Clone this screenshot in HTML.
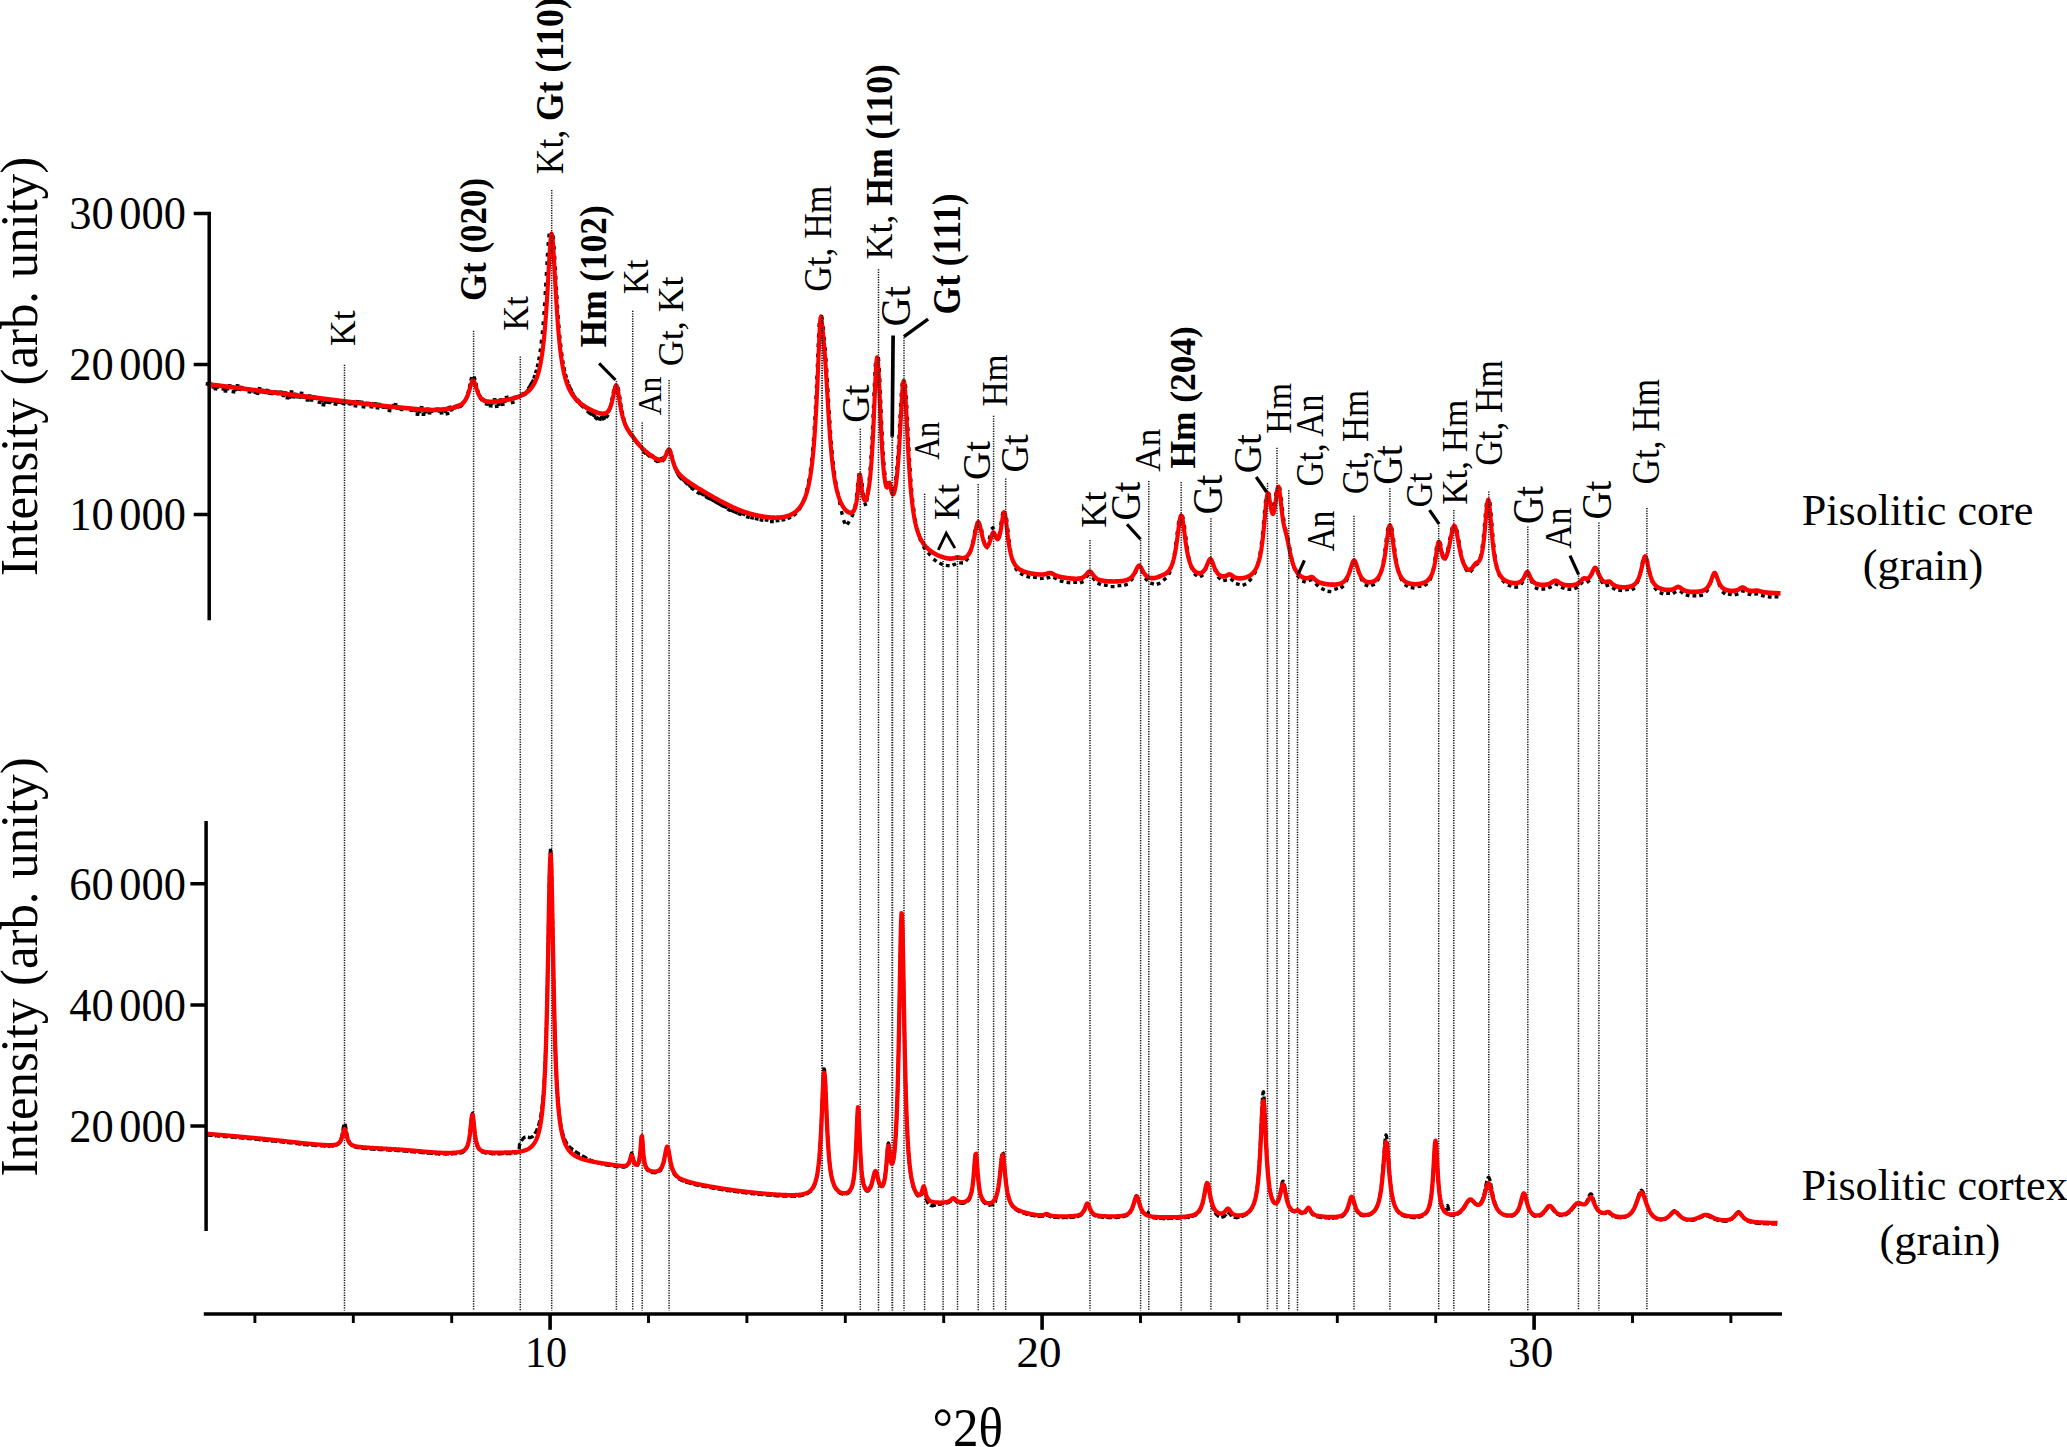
<!DOCTYPE html>
<html><head><meta charset="utf-8"><title>XRD patterns</title>
<style>html,body{margin:0;padding:0;background:#fff;overflow:hidden}svg{display:block}text{font-family:"Liberation Serif",serif;fill:#000;white-space:pre}</style></head><body>
<svg width="2067" height="1447" viewBox="0 0 2067 1447">
<rect width="2067" height="1447" fill="#fff"/>
<g stroke="#111" stroke-width="1.5" stroke-dasharray="1.25 1.25" fill="none">
<path d="M344.5,699.80V1310.5M473.6,700.80V1310.5M520.3,699.00V1310.5M551.7,700.00V1310.5M616.4,701.00V1310.5M632.7,700.70V1310.5M642.2,700.10V1310.5M669.1,699.90V1310.5M860.3,701.20V1310.5M878.5,699.20V1310.5M904.0,700.00V1310.5M924.6,701.20V1310.5M943.1,701.00V1310.5M957.5,701.00V1310.5M978.2,699.00V1310.5M993.6,700.70V1310.5M1005.7,701.00V1310.5M1090.0,700.00V1310.5M1140.6,700.00V1310.5M1148.8,701.00V1310.5M1181.2,699.50V1310.5M1210.9,700.80V1310.5M1267.5,700.50V1310.5M1277.0,700.30V1310.5M1288.8,700.30V1310.5M1297.5,699.30V1310.5M1354.0,700.80V1310.5M1389.9,700.70V1310.5M1438.7,700.60V1310.5M1453.8,700.00V1310.5M1488.8,698.90V1310.5M1527.8,699.10V1310.5M1578.5,700.40V1310.5M1598.9,700.00V1310.5M1646.9,700.50V1310.5"/>
<path stroke-width="1.9" d="M822.1,700.00V1310.5M892.3,699.50V1310.5"/>
</g>
<path d="M207.4,383.9l0.40,0.05M209.3,383.1l0.40,0.05M211.3,385.5l0.40,0.05M213.3,387.0l0.40,0.05M215.3,388.7l0.40,0.05M217.3,386.9l0.40,0.05M219.3,385.9l0.40,0.05M221.3,385.7l0.40,0.05M223.3,388.9l0.40,0.05M225.3,390.9l0.40,0.05M227.3,388.5l0.40,0.05M229.3,385.8l0.40,0.05M231.3,386.6l0.40,0.05M233.3,391.8l0.40,0.05M235.3,389.3l0.40,0.05M237.3,385.8l0.40,0.05M239.3,389.3l0.40,0.05M241.3,387.4l0.40,0.05M243.3,388.7l0.40,0.05M245.3,389.2l0.40,0.05M247.3,389.0l0.40,0.05M249.3,391.8l0.40,0.05M251.3,390.8l0.40,0.05M253.3,390.0l0.40,0.05M255.3,392.3l0.40,0.05M257.3,393.3l0.40,0.05M259.3,388.7l0.40,0.05M261.3,391.7l0.40,0.05M263.3,390.5l0.40,0.05M265.3,392.4l0.40,0.05M267.3,390.4l0.40,0.05M269.3,393.2l0.40,0.05M271.3,393.4l0.40,0.05M273.3,393.1l0.40,0.05M275.3,391.9l0.40,0.05M277.3,393.4l0.40,0.05M279.3,392.3l0.40,0.05M281.3,392.1l0.40,0.05M283.3,395.4l0.40,0.05M285.3,393.0l0.40,0.05M287.3,397.8l0.40,0.05M289.3,397.1l0.40,0.05M291.3,392.0l0.40,0.05M293.3,396.8l0.40,0.05M295.3,394.3l0.40,0.05M297.3,396.8l0.40,0.05M299.3,397.1l0.40,0.05M301.3,393.3l0.40,0.05M303.3,397.0l0.40,0.05M305.3,397.2l0.40,0.05M307.3,399.9l0.40,0.05M309.3,395.9l0.40,0.05M311.3,399.9l0.40,0.05M313.3,396.6l0.40,0.05M315.3,398.3l0.40,0.05M317.3,397.6l0.40,0.05M319.3,402.3l0.40,0.05M321.3,400.8l0.40,0.05M323.3,404.8l0.40,0.05M325.3,401.5l0.40,0.05M327.3,402.1l0.40,0.05M329.3,402.4l0.40,0.05M331.3,399.8l0.40,0.05M333.3,401.1l0.40,0.05M335.3,404.1l0.40,0.05M337.3,400.9l0.40,0.05M339.3,402.3l0.40,0.05M341.3,402.1l0.40,0.05M343.3,403.6l0.40,0.05M345.3,402.0l0.40,0.05M347.3,402.6l0.40,0.05M349.3,403.7l0.40,0.05M351.3,403.6l0.40,0.05M353.3,402.0l0.40,0.05M355.3,405.7l0.40,0.05M357.3,401.6l0.40,0.05M359.3,402.1l0.40,0.05M361.3,402.1l0.40,0.05M363.3,406.8l0.40,0.05M365.3,404.4l0.40,0.05M367.3,403.5l0.40,0.05M369.3,403.4l0.40,0.05M371.3,406.7l0.40,0.05M373.3,404.0l0.40,0.05M375.3,403.8l0.40,0.04M377.3,407.8l0.40,0.04M379.3,404.4l0.40,0.04M381.3,406.3l0.40,0.04M383.3,407.2l0.40,0.04M385.3,406.5l0.40,0.04M387.3,407.5l0.40,0.04M389.3,410.5l0.40,0.04M391.3,407.0l0.40,0.04M393.3,405.7l0.40,0.04M395.3,404.7l0.40,0.04M397.3,408.1l0.40,0.03M399.3,408.0l0.40,0.03M401.3,409.4l0.40,0.03M403.3,408.2l0.40,0.04M405.3,408.3l0.40,0.04M407.3,408.0l0.40,0.04M409.3,408.6l0.40,0.04M411.3,410.2l0.40,0.04M413.3,409.3l0.40,0.04M415.3,410.4l0.40,0.04M417.3,414.2l0.40,0.03M419.3,411.5l0.40,0.03M421.3,407.6l0.40,0.03M423.3,414.3l0.40,0.02M425.3,411.7l0.40,0.02M427.3,409.2l0.40,0.02M429.3,412.9l0.40,0.01M431.3,411.2l0.40,0.00M433.3,409.9l0.40,-0.00M435.3,409.9l0.40,-0.01M437.3,409.1l0.40,-0.02M439.3,411.0l0.40,-0.03M441.3,412.9l0.40,-0.04M443.3,409.9l0.40,-0.04M445.3,411.2l0.40,-0.05M447.3,413.7l0.40,-0.06M449.3,407.4l0.39,-0.07M451.3,409.8l0.39,-0.08M453.3,408.3l0.39,-0.10M455.2,406.4l0.38,-0.12M457.2,405.8l0.37,-0.15M459.1,406.6l0.35,-0.19M461.1,406.0l0.32,-0.24M462.8,403.2l0.27,-0.29M464.7,401.1l0.21,-0.34M466.4,397.7l0.15,-0.37M468.2,392.2l0.11,-0.38M469.7,386.0l0.08,-0.39M471.2,379.1l0.10,-0.39M474.5,378.1l0.13,0.38M476.2,384.9l0.09,0.39M477.8,391.0l0.12,0.38M479.4,395.4l0.17,0.36M481.1,399.0l0.24,0.32M482.8,399.4l0.32,0.24M484.6,401.1l0.37,0.16M486.5,403.9l0.39,0.09M488.5,403.9l0.40,0.04M490.5,405.9l0.40,0.01M492.5,402.8l0.40,-0.02M494.5,399.8l0.40,-0.03M496.5,406.3l0.40,-0.05M498.5,404.4l0.40,-0.05M500.5,399.9l0.40,-0.06M502.5,404.3l0.39,-0.07M504.5,401.3l0.39,-0.07M506.5,397.4l0.39,-0.08M508.5,399.6l0.39,-0.09M510.5,399.0l0.39,-0.10M512.5,402.4l0.39,-0.10M514.4,397.4l0.38,-0.12M516.4,397.8l0.38,-0.13M518.4,397.0l0.37,-0.15M520.4,396.0l0.36,-0.18M522.2,394.2l0.34,-0.21M524.2,394.5l0.32,-0.24M525.5,393.7l0.29,-0.27M527.3,391.0l0.26,-0.30M529.1,387.4l0.23,-0.33M530.8,384.5l0.20,-0.35M532.6,381.5l0.17,-0.36M534.3,377.0l0.14,-0.37M536.0,371.7l0.11,-0.38M537.6,365.6l0.09,-0.39M539.0,358.7l0.07,-0.39M540.3,350.5l0.06,-0.40M541.4,341.9l0.05,-0.40M542.4,332.5l0.04,-0.40M543.2,323.5l0.03,-0.40M544.0,313.1l0.03,-0.40M544.6,304.4l0.03,-0.40M545.3,293.3l0.02,-0.40M545.8,284.8l0.02,-0.40M546.4,274.2l0.02,-0.40M547.0,263.5l0.02,-0.40M547.5,254.9l0.02,-0.40M548.2,244.1l0.03,-0.40M549.0,235.7l0.05,-0.40M553.3,237.4l0.04,0.40M554.1,247.6l0.03,0.40M554.7,257.5l0.02,0.40M555.3,268.3l0.02,0.40M555.8,277.5l0.02,0.40M556.4,288.3l0.02,0.40M556.9,296.9l0.02,0.40M557.5,306.6l0.03,0.40M558.2,316.9l0.03,0.40M558.9,326.1l0.03,0.40M559.8,336.5l0.04,0.40M560.7,345.2l0.04,0.40M561.8,354.2l0.05,0.40M562.9,362.0l0.07,0.39M564.3,369.1l0.08,0.39M565.9,375.8l0.10,0.39M567.5,381.5l0.13,0.38M569.2,386.0l0.15,0.37M571.0,389.4l0.17,0.36M572.8,393.5l0.20,0.35M574.6,396.8l0.23,0.33M576.6,400.5l0.25,0.31M578.4,400.7l0.28,0.29M580.3,404.3l0.30,0.27M582.3,406.3l0.31,0.25M584.1,405.9l0.32,0.24M586.1,408.0l0.32,0.24M588.2,412.0l0.31,0.25M590.2,413.4l0.30,0.26M592.1,414.1l0.29,0.27M594.1,415.4l0.29,0.27M596.1,418.2l0.31,0.26M597.9,418.2l0.34,0.20M599.7,419.0l0.39,0.10M601.6,417.7l0.40,-0.06M603.4,418.7l0.35,-0.19M605.3,417.1l0.28,-0.28M607.1,416.3l0.22,-0.34M608.8,411.1l0.15,-0.37M610.6,405.8l0.10,-0.39M612.1,399.1l0.08,-0.39M613.5,391.6l0.08,-0.39M615.3,386.6l0.23,-0.33M618.4,389.1l0.08,0.39M619.8,397.4l0.06,0.40M620.9,405.2l0.06,0.39M622.3,412.6l0.08,0.39M623.9,419.2l0.11,0.38M625.5,424.7l0.14,0.37M627.2,428.4l0.18,0.36M629.1,431.2l0.22,0.34M631.0,434.3l0.24,0.32M632.9,436.6l0.24,0.32M634.8,440.1l0.23,0.33M636.8,442.7l0.24,0.32M638.6,444.5l0.26,0.31M640.6,446.4l0.27,0.30M642.5,449.0l0.28,0.29M644.4,452.4l0.29,0.28M646.4,453.3l0.30,0.27M648.3,455.3l0.31,0.25M650.2,455.8l0.32,0.24M652.2,455.7l0.33,0.23M654.2,457.7l0.34,0.21M656.1,460.9l0.35,0.19M658.0,461.0l0.37,0.14M659.9,459.6l0.40,0.05M661.8,458.4l0.38,-0.13M663.4,460.1l0.26,-0.30M665.1,456.5l0.16,-0.37M666.9,452.0l0.16,-0.37M670.2,450.9l0.19,0.35M672.1,456.7l0.10,0.39M673.7,463.0l0.11,0.39M675.3,468.3l0.15,0.37M677.0,472.3l0.19,0.35M678.8,475.7l0.24,0.32M680.7,478.0l0.27,0.30M682.5,478.9l0.29,0.28M684.5,481.0l0.30,0.26M686.5,483.3l0.31,0.25M688.4,483.9l0.32,0.24M690.4,486.5l0.32,0.24M692.3,488.7l0.33,0.23M694.3,487.5l0.33,0.23M696.3,487.5l0.33,0.22M698.3,492.9l0.34,0.22M700.3,492.5l0.34,0.21M702.3,494.1l0.34,0.21M704.4,494.5l0.34,0.21M706.7,497.3l0.34,0.21M708.9,498.3l0.34,0.21M711.4,499.4l0.34,0.21M714.0,500.9l0.34,0.20M716.7,502.6l0.35,0.20M719.5,504.1l0.35,0.20M722.5,505.7l0.35,0.19M725.6,507.0l0.36,0.18M728.9,509.8l0.36,0.18M732.3,510.8l0.36,0.17M735.8,512.4l0.37,0.16M739.5,514.0l0.37,0.15M743.5,514.1l0.38,0.13M747.7,517.0l0.38,0.11M752.0,517.7l0.39,0.10M756.5,518.8l0.39,0.08M761.3,520.0l0.39,0.07M766.4,520.1l0.40,0.05M771.7,521.6l0.40,0.02M777.3,520.6l0.40,-0.02M783.1,519.8l0.39,-0.08M789.1,517.9l0.36,-0.17M794.8,514.6l0.30,-0.26M799.9,508.4l0.21,-0.34M803.9,499.7l0.14,-0.37M806.7,490.3l0.09,-0.39M808.8,480.7l0.07,-0.39M810.5,469.9l0.05,-0.40M811.7,460.0l0.04,-0.40M812.7,449.6l0.04,-0.40M813.5,439.8l0.03,-0.40M814.3,428.2l0.03,-0.40M814.9,418.4l0.02,-0.40M815.5,407.4l0.02,-0.40M816.0,397.4l0.02,-0.40M816.5,386.7l0.02,-0.40M816.9,377.6l0.02,-0.40M817.4,365.6l0.02,-0.40M817.8,355.6l0.02,-0.40M818.2,345.5l0.02,-0.40M818.6,335.8l0.02,-0.40M819.1,325.4l0.02,-0.40M822.0,317.8l0.08,0.39M823.3,328.2l0.04,0.40M824.3,338.6l0.04,0.40M825.2,349.0l0.03,0.40M826.0,359.7l0.03,0.40M826.7,370.2l0.03,0.40M827.3,380.0l0.02,0.40M827.9,390.1l0.02,0.40M828.5,400.4l0.02,0.40M829.2,412.1l0.02,0.40M829.8,421.6l0.03,0.40M830.5,431.9l0.03,0.40M831.3,442.6l0.03,0.40M832.1,451.9l0.04,0.40M833.2,462.9l0.04,0.40M834.4,472.6l0.05,0.40M835.8,482.5l0.07,0.39M837.7,492.7l0.08,0.39M839.7,502.8l0.08,0.39M841.8,512.7l0.09,0.39M844.2,521.8l0.14,0.38M848.1,523.2l0.21,-0.34M852.4,515.4l0.17,-0.36M855.2,505.7l0.07,-0.39M856.6,495.3l0.04,-0.40M857.6,485.1l0.04,-0.40M858.8,475.3l0.10,-0.39M862.2,484.8l0.04,0.40M863.4,494.7l0.06,0.40M865.2,504.0l0.12,0.38M866.9,499.8l0.06,-0.40M868.2,489.6l0.05,-0.40M869.3,479.0l0.04,-0.40M870.2,468.6l0.03,-0.40M871.0,457.3l0.03,-0.40M871.6,447.4l0.02,-0.40M872.1,438.0l0.02,-0.40M872.6,427.6l0.02,-0.40M873.1,416.2l0.02,-0.40M873.5,406.7l0.02,-0.40M874.0,394.5l0.02,-0.40M874.4,385.0l0.02,-0.40M874.9,374.1l0.02,-0.40M875.4,365.2l0.03,-0.40M878.5,359.0l0.05,0.40M879.3,369.9l0.02,0.40M879.8,380.0l0.02,0.40M880.3,391.7l0.02,0.40M880.7,401.4l0.02,0.40M881.1,411.1l0.02,0.40M881.6,422.6l0.02,0.40M882.1,433.4l0.02,0.40M882.6,443.0l0.02,0.40M883.2,453.2l0.03,0.40M883.9,463.2l0.03,0.40M884.8,473.2l0.04,0.40M886.1,483.3l0.08,0.39M888.3,483.4l0.19,-0.35M892.3,491.7l0.10,0.39M894.4,488.7l0.08,-0.39M895.9,478.4l0.05,-0.40M896.9,468.2l0.03,-0.40M897.7,457.9l0.03,-0.40M898.4,447.3l0.02,-0.40M899.0,437.0l0.02,-0.40M899.6,426.0l0.02,-0.40M900.1,416.4l0.02,-0.40M900.7,405.2l0.02,-0.40M901.3,395.0l0.03,-0.40M902.1,384.9l0.04,-0.40M905.5,386.0l0.04,0.40M906.3,397.3l0.02,0.40M906.8,406.5l0.02,0.40M907.4,418.6l0.02,0.40M907.9,429.0l0.02,0.40M908.4,439.2l0.02,0.40M908.9,449.0l0.02,0.40M909.5,459.8l0.02,0.40M910.1,469.6l0.03,0.40M910.8,479.8l0.03,0.40M911.6,489.7l0.03,0.40M912.6,500.0l0.04,0.40M913.8,509.7l0.05,0.40M915.3,520.3l0.07,0.39M917.3,529.8l0.10,0.39M920.1,539.3l0.14,0.37M924.1,547.5l0.21,0.34M929.1,553.9l0.27,0.29M934.8,560.2l0.32,0.24M941.0,563.8l0.36,0.17M947.5,565.6l0.40,0.04M954.1,564.6l0.36,-0.17M960.9,562.9l0.40,0.01M966.8,559.8l0.25,-0.31M970.5,551.7l0.12,-0.38M972.9,541.8l0.08,-0.39M974.7,531.8l0.07,-0.39M977.9,522.6l0.38,-0.13M981.8,531.1l0.08,0.39M984.0,541.3l0.10,0.39M987.0,547.4l0.23,-0.32M989.6,537.7l0.08,-0.39M992.6,528.1l0.32,-0.24M997.0,536.8l0.13,0.38M999.3,534.0l0.08,-0.39M1001.0,523.5l0.06,-0.40M1002.6,514.0l0.10,-0.39M1006.7,519.8l0.05,0.40M1007.9,530.1l0.05,0.40M1009.1,540.8l0.05,0.40M1010.4,550.4l0.07,0.39M1012.6,560.2l0.11,0.38M1016.2,569.1l0.23,0.33M1021.6,574.1l0.35,0.19M1028.1,576.8l0.39,0.10M1034.8,577.2l0.40,0.05M1041.6,578.4l0.40,-0.01M1048.2,577.7l0.38,-0.12M1055.0,578.1l0.35,0.19M1061.4,581.2l0.39,0.08M1068.2,582.6l0.40,0.05M1075.0,582.2l0.40,0.00M1081.6,582.2l0.37,-0.15M1087.1,576.2l0.24,-0.32M1093.7,578.7l0.23,0.33M1099.0,583.8l0.37,0.15M1105.6,585.2l0.40,0.04M1112.4,586.6l0.40,0.00M1119.2,585.7l0.40,-0.03M1125.8,584.8l0.38,-0.12M1131.7,579.6l0.25,-0.31M1135.9,571.8l0.16,-0.37M1142.1,571.2l0.17,0.36M1146.2,579.4l0.25,0.31M1151.9,583.5l0.38,0.11M1158.4,583.7l0.38,-0.14M1164.6,579.3l0.31,-0.25M1169.4,573.1l0.17,-0.36M1172.5,563.5l0.10,-0.39M1174.5,553.5l0.06,-0.39M1175.9,543.6l0.05,-0.40M1177.2,533.3l0.05,-0.40M1178.5,523.2l0.06,-0.40M1182.8,517.2l0.11,0.39M1184.5,526.9l0.05,0.40M1185.9,537.9l0.05,0.40M1187.2,547.7l0.06,0.40M1188.8,557.6l0.08,0.39M1191.3,567.2l0.14,0.37M1195.5,574.7l0.30,0.26M1201.4,575.9l0.35,-0.20M1205.8,568.8l0.15,-0.37M1210.7,561.8l0.35,0.20M1214.9,569.7l0.14,0.38M1219.0,577.8l0.28,0.29M1224.9,580.3l0.39,-0.07M1231.9,579.7l0.29,0.28M1237.6,584.1l0.39,0.11M1244.2,584.7l0.37,-0.16M1250.1,580.0l0.28,-0.28M1254.9,572.8l0.18,-0.36M1258.1,563.4l0.10,-0.39M1260.1,553.4l0.06,-0.39M1261.5,543.1l0.05,-0.40M1262.6,533.2l0.04,-0.40M1263.6,522.6l0.04,-0.40M1264.5,512.2l0.03,-0.40M1265.5,501.7l0.04,-0.40M1269.0,493.9l0.16,0.37M1271.1,504.2l0.06,0.40M1272.8,513.7l0.30,0.27M1274.5,504.4l0.06,-0.40M1275.8,494.5l0.05,-0.40M1279.8,488.6l0.09,0.39M1281.3,499.0l0.04,0.40M1282.4,509.2l0.04,0.40M1283.7,519.3l0.06,0.40M1285.6,529.2l0.10,0.39M1288.0,538.8l0.09,0.39M1289.9,548.9l0.07,0.39M1291.9,559.0l0.09,0.39M1294.4,568.2l0.13,0.38M1298.3,576.5l0.24,0.32M1303.8,581.5l0.37,0.14M1310.3,580.1l0.38,-0.11M1316.8,584.7l0.29,0.28M1322.8,589.1l0.36,0.17M1329.2,591.4l0.40,0.04M1335.9,588.9l0.38,-0.13M1342.0,587.1l0.31,-0.26M1346.8,580.2l0.17,-0.36M1349.9,570.7l0.11,-0.39M1353.7,562.2l0.38,-0.14M1358.3,570.3l0.11,0.38M1361.4,579.2l0.18,0.36M1366.3,585.3l0.37,0.15M1372.8,584.9l0.37,-0.16M1378.1,579.5l0.20,-0.35M1381.4,570.8l0.10,-0.39M1383.5,560.6l0.07,-0.39M1385.0,550.0l0.05,-0.40M1386.2,540.4l0.05,-0.40M1387.7,529.7l0.07,-0.39M1392.0,529.4l0.07,0.39M1393.6,540.1l0.05,0.40M1394.8,549.7l0.05,0.40M1396.2,560.3l0.06,0.39M1398.1,569.8l0.10,0.39M1401.2,578.9l0.18,0.35M1406.1,585.4l0.34,0.22M1412.4,587.8l0.40,0.05M1419.2,586.4l0.39,-0.07M1425.6,584.7l0.33,-0.22M1430.5,578.7l0.17,-0.36M1433.3,569.2l0.08,-0.39M1435.0,558.8l0.05,-0.40M1436.3,548.9l0.05,-0.40M1440.5,543.9l0.10,0.39M1442.4,553.6l0.09,0.39M1445.3,558.5l0.19,-0.35M1447.9,549.0l0.08,-0.39M1449.9,538.7l0.07,-0.39M1451.9,529.1l0.10,-0.39M1457.1,531.2l0.09,0.39M1459.0,541.4l0.07,0.39M1460.7,551.0l0.07,0.39M1462.9,560.8l0.11,0.39M1466.2,569.8l0.22,0.33M1471.3,570.8l0.26,-0.30M1476.8,564.2l0.35,-0.20M1480.6,556.5l0.09,-0.39M1482.3,546.4l0.05,-0.40M1483.5,536.0l0.04,-0.40M1484.5,525.2l0.03,-0.40M1485.3,515.8l0.03,-0.40M1486.3,505.3l0.05,-0.40M1490.1,503.9l0.05,0.40M1491.1,514.3l0.03,0.40M1491.9,524.2l0.03,0.40M1492.8,534.9l0.04,0.40M1493.8,545.3l0.04,0.40M1495.0,555.6l0.05,0.40M1496.5,565.1l0.08,0.39M1499.1,574.6l0.15,0.37M1503.4,581.3l0.29,0.28M1509.4,585.6l0.38,0.12M1516.0,587.1l0.40,-0.03M1521.9,583.1l0.23,-0.32M1526.1,574.9l0.27,-0.30M1531.6,581.3l0.17,0.36M1536.4,588.2l0.37,0.16M1543.1,589.0l0.40,-0.01M1549.7,587.3l0.36,-0.18M1556.3,584.2l0.38,0.13M1562.6,587.7l0.37,0.14M1569.2,589.2l0.40,0.00M1575.9,588.0l0.37,-0.15M1581.4,583.1l0.26,-0.30M1588.1,581.5l0.32,-0.24M1592.1,573.7l0.15,-0.37M1598.2,573.6l0.15,0.37M1601.8,581.8l0.21,0.34M1607.1,585.4l0.38,-0.12M1613.7,588.3l0.32,0.24M1620.0,590.3l0.40,0.05M1626.8,589.6l0.40,-0.05M1633.1,589.0l0.33,-0.23M1637.7,581.7l0.15,-0.37M1640.4,572.3l0.09,-0.39M1642.4,562.5l0.08,-0.39M1647.4,561.0l0.09,0.39M1649.4,571.0l0.08,0.39M1651.8,580.5l0.12,0.38M1655.5,588.7l0.26,0.30M1661.3,593.2l0.38,0.13M1667.9,593.3l0.40,0.01M1674.4,592.6l0.34,-0.21M1681.4,592.0l0.31,0.25M1687.4,595.3l0.39,0.09M1694.2,595.8l0.40,-0.01M1700.9,595.5l0.39,-0.11M1706.8,590.9l0.25,-0.31M1710.6,582.7l0.13,-0.38M1715.7,575.8l0.25,0.32M1719.3,584.7l0.14,0.37M1723.5,592.8l0.31,0.25M1729.6,594.2l0.40,0.05M1736.3,594.4l0.38,-0.13M1742.8,590.9l0.39,0.07M1749.3,594.2l0.39,0.10M1756.0,593.9l0.40,-0.02M1762.7,595.7l0.39,0.09M1769.5,596.9l0.40,0.03M1776.3,596.8l0.40,0.02" fill="none" stroke="#000" stroke-width="3.4" stroke-linecap="square"/>
<path d="M207.0,1134.95 L207.5,1135.06 L208.0,1134.74 L208.5,1135.07 L209.0,1135.03 L209.5,1135.08 L210.0,1135.39 L210.5,1135.28 L211.0,1135.22 L211.5,1135.24 L212.0,1135.01 L212.5,1135.40 L213.0,1135.26 L213.5,1135.42 L214.0,1135.45 L214.5,1135.60 L215.0,1135.77 L215.5,1135.68 L216.0,1135.76 L216.5,1135.63 L217.0,1135.75 L217.5,1135.83 L218.0,1135.61 L218.5,1136.07 L219.0,1135.78 L219.5,1135.76 L220.0,1136.15 L220.5,1136.25 L221.0,1135.96 L221.5,1136.01 L222.0,1136.51 L222.5,1136.19 L223.0,1135.98 L223.5,1136.19 L224.0,1136.55 L224.5,1136.43 L225.0,1136.49 L225.5,1136.59 L226.0,1136.56 L226.5,1136.49 L227.0,1136.38 L227.5,1136.67 L228.0,1136.53 L228.5,1136.70 L229.0,1136.96 L229.5,1136.86 L230.0,1136.85 L230.5,1136.89 L231.0,1137.02 L231.5,1137.08 L232.0,1136.86 L232.5,1137.08 L233.0,1137.31 L233.5,1137.24 L234.0,1137.11 L234.5,1137.16 L235.0,1137.04 L235.5,1137.24 L236.0,1137.57 L236.5,1137.41 L237.0,1137.37 L237.5,1137.44 L238.0,1137.55 L238.5,1137.59 L239.0,1137.61 L239.5,1137.60 L240.0,1137.82 L240.5,1137.97 L241.0,1137.76 L241.5,1137.81 L242.0,1138.07 L242.5,1137.79 L243.0,1137.94 L243.5,1138.02 L244.0,1138.13 L244.5,1138.12 L245.0,1138.09 L245.5,1138.28 L246.0,1138.15 L246.5,1138.13 L247.0,1138.14 L247.5,1138.52 L248.0,1138.27 L248.5,1138.58 L249.0,1138.65 L249.5,1138.71 L250.0,1138.64 L250.5,1138.64 L251.0,1138.77 L251.5,1138.73 L252.0,1138.69 L252.5,1139.05 L253.0,1138.83 L253.5,1139.20 L254.0,1139.10 L254.5,1139.03 L255.0,1139.18 L255.5,1139.32 L256.0,1139.06 L256.5,1139.16 L257.0,1139.19 L257.5,1139.39 L258.0,1139.46 L258.5,1139.46 L259.0,1139.42 L259.5,1139.49 L260.0,1139.75 L260.5,1139.78 L261.0,1139.71 L261.5,1139.59 L262.0,1139.87 L262.5,1139.88 L263.0,1139.92 L263.5,1140.15 L264.0,1140.09 L264.5,1139.93 L265.0,1139.98 L265.5,1140.31 L266.0,1140.22 L266.5,1140.35 L267.0,1140.28 L267.5,1140.23 L268.0,1140.44 L268.5,1140.64 L269.0,1140.55 L269.5,1140.43 L270.0,1140.58 L270.5,1140.61 L271.0,1140.74 L271.5,1140.90 L272.0,1141.06 L272.5,1140.91 L273.0,1140.88 L273.5,1141.00 L274.0,1141.05 L274.5,1141.05 L275.0,1141.15 L275.5,1141.21 L276.0,1141.12 L276.5,1141.38 L277.0,1141.33 L277.5,1141.31 L278.0,1141.54 L278.5,1141.47 L279.0,1141.80 L279.5,1141.70 L280.0,1141.71 L280.5,1141.66 L281.0,1141.76 L281.5,1141.96 L282.0,1141.83 L282.5,1142.06 L283.0,1141.78 L283.5,1142.11 L284.0,1142.24 L284.5,1142.23 L285.0,1142.25 L285.5,1142.43 L286.0,1142.26 L286.5,1142.30 L287.0,1142.48 L287.5,1142.67 L288.0,1142.63 L288.5,1142.61 L289.0,1142.73 L289.5,1142.80 L290.0,1142.65 L290.5,1142.52 L291.0,1142.79 L291.5,1142.79 L292.0,1142.95 L292.5,1142.94 L293.0,1143.03 L293.5,1143.24 L294.0,1143.26 L294.5,1143.30 L295.0,1143.55 L295.5,1143.35 L296.0,1143.42 L296.5,1143.67 L297.0,1143.44 L297.5,1143.43 L298.0,1143.84 L298.5,1143.77 L299.0,1143.86 L299.5,1143.92 L300.0,1144.00 L300.5,1143.89 L301.0,1143.99 L301.5,1143.92 L302.0,1144.12 L302.5,1144.18 L303.0,1144.15 L303.5,1144.34 L304.0,1144.66 L304.5,1144.22 L305.0,1144.51 L305.5,1144.57 L306.0,1144.64 L306.5,1144.47 L307.0,1144.75 L307.5,1144.74 L308.0,1144.69 L308.5,1144.72 L309.0,1144.84 L309.5,1144.97 L310.0,1145.01 L310.5,1145.22 L311.0,1144.95 L311.5,1145.12 L312.0,1145.03 L312.5,1145.22 L313.0,1145.19 L313.5,1145.15 L314.0,1145.10 L314.5,1145.21 L315.0,1145.38 L315.5,1145.56 L316.0,1145.52 L316.5,1145.33 L317.0,1145.45 L317.5,1145.55 L318.0,1145.57 L318.5,1145.63 L319.0,1145.75 L319.5,1145.71 L320.0,1145.64 L320.5,1145.52 L321.0,1145.74 L321.5,1145.61 L322.0,1145.82 L322.5,1145.90 L323.0,1145.73 L323.5,1145.90 L324.0,1145.90 L324.5,1146.19 L325.0,1146.03 L325.5,1145.77 L326.0,1146.06 L326.5,1146.07 L327.0,1146.01 L327.5,1145.99 L328.0,1146.11 L328.5,1146.12 L329.0,1146.09 L329.5,1145.91 L330.0,1145.99 L330.5,1145.81 L331.0,1145.80 L331.5,1145.88 L332.0,1145.78 L332.5,1145.81 L333.0,1146.09 L333.5,1145.78 L334.0,1145.53 L334.5,1145.28 L335.0,1145.31 L335.5,1145.10 L336.0,1144.83 L336.5,1144.97 L337.0,1144.57 L337.5,1144.37 L338.0,1144.32 L338.5,1143.53 L339.0,1142.95 L339.5,1142.29 L340.0,1141.35 L340.5,1140.20 L341.0,1138.92 L341.5,1137.38 L342.0,1135.11 L342.5,1132.44 L343.0,1129.56 L343.5,1126.65 L344.0,1124.37 L344.5,1123.27 L345.0,1123.82 L345.5,1125.95 L346.0,1128.66 L346.5,1131.80 L347.0,1134.50 L347.5,1136.88 L348.0,1138.49 L348.5,1140.41 L349.0,1141.32 L349.5,1142.37 L350.0,1143.41 L350.5,1143.94 L351.0,1144.75 L351.5,1145.02 L352.0,1145.27 L352.5,1145.74 L353.0,1145.96 L353.5,1146.44 L354.0,1146.67 L354.5,1146.76 L355.0,1146.79 L355.5,1147.00 L356.0,1147.25 L356.5,1147.15 L357.0,1147.27 L357.5,1147.57 L358.0,1147.65 L358.5,1147.62 L359.0,1147.70 L359.5,1147.57 L360.0,1148.02 L360.5,1147.93 L361.0,1147.84 L361.5,1147.94 L362.0,1148.02 L362.5,1148.39 L363.0,1148.32 L363.5,1148.13 L364.0,1148.56 L364.5,1148.54 L365.0,1148.30 L365.5,1148.15 L366.0,1148.63 L366.5,1148.48 L367.0,1148.58 L367.5,1148.57 L368.0,1148.82 L368.5,1148.88 L369.0,1148.84 L369.5,1148.76 L370.0,1148.84 L370.5,1148.92 L371.0,1148.69 L371.5,1149.06 L372.0,1148.91 L372.5,1149.01 L373.0,1149.03 L373.5,1149.15 L374.0,1149.20 L374.5,1149.37 L375.0,1149.10 L375.5,1149.06 L376.0,1149.22 L376.5,1149.15 L377.0,1149.36 L377.5,1149.19 L378.0,1149.34 L378.5,1149.46 L379.0,1149.50 L379.5,1149.43 L380.0,1149.61 L380.5,1149.62 L381.0,1149.29 L381.5,1149.57 L382.0,1149.58 L382.5,1149.55 L383.0,1149.54 L383.5,1149.65 L384.0,1149.72 L384.5,1149.73 L385.0,1149.89 L385.5,1149.88 L386.0,1149.72 L386.5,1149.73 L387.0,1149.95 L387.5,1149.79 L388.0,1149.93 L388.5,1149.99 L389.0,1150.09 L389.5,1150.06 L390.0,1150.20 L390.5,1150.00 L391.0,1150.16 L391.5,1150.03 L392.0,1150.17 L392.5,1150.19 L393.0,1150.09 L393.5,1149.92 L394.0,1150.38 L394.5,1150.34 L395.0,1150.34 L395.5,1150.27 L396.0,1150.35 L396.5,1150.47 L397.0,1150.45 L397.5,1150.62 L398.0,1150.53 L398.5,1150.45 L399.0,1150.65 L399.5,1150.53 L400.0,1150.67 L400.5,1150.46 L401.0,1150.67 L401.5,1150.81 L402.0,1150.70 L402.5,1150.81 L403.0,1150.92 L403.5,1150.89 L404.0,1151.14 L404.5,1150.93 L405.0,1150.98 L405.5,1151.02 L406.0,1150.84 L406.5,1150.93 L407.0,1151.22 L407.5,1151.16 L408.0,1151.41 L408.5,1151.27 L409.0,1151.30 L409.5,1151.49 L410.0,1151.44 L410.5,1151.64 L411.0,1151.37 L411.5,1151.59 L412.0,1151.66 L412.5,1151.69 L413.0,1151.81 L413.5,1151.84 L414.0,1151.76 L414.5,1151.74 L415.0,1151.97 L415.5,1151.90 L416.0,1152.06 L416.5,1152.15 L417.0,1152.06 L417.5,1151.97 L418.0,1152.09 L418.5,1152.26 L419.0,1152.19 L419.5,1152.40 L420.0,1152.31 L420.5,1152.37 L421.0,1152.32 L421.5,1152.43 L422.0,1152.62 L422.5,1152.49 L423.0,1152.54 L423.5,1152.53 L424.0,1152.76 L424.5,1152.52 L425.0,1152.67 L425.5,1152.90 L426.0,1153.01 L426.5,1152.85 L427.0,1153.03 L427.5,1152.72 L428.0,1153.09 L428.5,1153.08 L429.0,1152.94 L429.5,1152.91 L430.0,1153.10 L430.5,1153.23 L431.0,1153.28 L431.5,1153.29 L432.0,1153.40 L432.5,1153.43 L433.0,1153.22 L433.5,1153.37 L434.0,1153.39 L434.5,1153.61 L435.0,1153.46 L435.5,1153.67 L436.0,1153.59 L436.5,1153.89 L437.0,1153.64 L437.5,1153.67 L438.0,1153.68 L438.5,1153.74 L439.0,1154.04 L439.5,1153.71 L440.0,1153.69 L440.5,1153.79 L441.0,1153.92 L441.5,1153.74 L442.0,1153.97 L442.5,1153.98 L443.0,1153.89 L443.5,1153.89 L444.0,1153.84 L444.5,1153.91 L445.0,1153.86 L445.5,1154.11 L446.0,1154.16 L446.5,1153.94 L447.0,1153.97 L447.5,1153.75 L448.0,1153.91 L448.5,1154.01 L449.0,1154.00 L449.5,1153.97 L450.0,1154.05 L450.5,1153.94 L451.0,1153.87 L451.5,1154.09 L452.0,1153.65 L452.5,1153.72 L453.0,1153.74 L453.5,1153.72 L454.0,1153.68 L454.5,1153.71 L455.0,1153.61 L455.5,1153.65 L456.0,1153.68 L456.5,1153.56 L457.0,1153.51 L457.5,1153.32 L458.0,1153.22 L458.5,1153.24 L459.0,1153.30 L459.5,1153.13 L460.0,1153.10 L460.5,1152.96 L461.0,1152.83 L461.5,1152.44 L462.0,1152.50 L462.5,1152.22 L463.0,1152.13 L463.5,1151.67 L464.0,1151.30 L464.5,1150.85 L465.0,1150.42 L465.5,1149.65 L466.0,1149.15 L466.5,1148.37 L467.0,1147.50 L467.5,1146.08 L468.0,1144.64 L468.5,1142.91 L469.0,1140.18 L469.5,1137.25 L470.0,1133.22 L470.5,1128.59 L471.0,1123.38 L471.5,1118.28 L472.0,1114.37 L472.5,1113.33 L473.0,1115.84 L473.5,1120.16 L474.0,1125.55 L474.5,1130.64 L475.0,1134.98 L475.5,1138.39 L476.0,1141.22 L476.5,1143.27 L477.0,1145.23 L477.5,1146.54 L478.0,1147.72 L478.5,1148.85 L479.0,1149.45 L479.5,1149.98 L480.0,1150.32 L480.5,1151.00 L481.0,1151.46 L481.5,1151.48 L482.0,1151.90 L482.5,1152.01 L483.0,1152.25 L483.5,1152.40 L484.0,1152.40 L484.5,1152.66 L485.0,1152.65 L485.5,1153.11 L486.0,1153.16 L486.5,1153.12 L487.0,1153.22 L487.5,1153.25 L488.0,1153.33 L488.5,1153.38 L489.0,1153.37 L489.5,1153.42 L490.0,1153.32 L490.5,1153.39 L491.0,1153.46 L491.5,1153.58 L492.0,1153.54 L492.5,1153.82 L493.0,1153.59 L493.5,1153.59 L494.0,1153.69 L494.5,1153.77 L495.0,1153.88 L495.5,1153.78 L496.0,1153.60 L496.5,1153.65 L497.0,1153.79 L497.5,1153.70 L498.0,1153.76 L498.5,1153.66 L499.0,1153.85 L499.5,1153.82 L500.0,1153.78 L500.5,1153.66 L501.0,1153.44 L501.5,1153.47 L502.0,1153.65 L502.5,1153.68 L503.0,1153.26 L503.5,1153.53 L504.0,1153.72 L504.5,1153.68 L505.0,1153.50 L505.5,1153.63 L506.0,1153.55 L506.5,1153.51 L507.0,1153.65 L507.5,1153.64 L508.0,1153.43 L508.5,1153.37 L509.0,1153.31 L509.5,1153.28 L510.0,1153.58 L510.5,1153.62 L511.0,1153.40 L511.5,1153.48 L512.0,1153.24 L512.5,1153.28 L513.0,1153.36 L513.5,1153.25 L514.0,1153.17 L514.5,1152.92 L515.0,1152.89 L515.5,1152.95 L516.0,1152.86 L516.5,1152.84 L517.0,1152.68 L517.5,1152.63 L518.0,1152.54 L518.5,1152.47 L519.0,1152.27 L519.5,1144.76 L520.0,1143.80 L520.5,1142.96 L521.0,1141.86 L521.5,1140.85 L522.0,1139.99 L522.5,1139.36 L523.0,1138.71 L523.5,1138.21 L524.0,1137.57 L524.5,1137.42 L525.0,1136.99 L525.5,1136.88 L526.0,1136.80 L526.5,1136.97 L527.0,1137.13 L527.5,1137.13 L528.0,1137.22 L528.5,1137.24 L529.0,1137.54 L529.5,1137.55 L530.0,1137.58 L530.5,1137.47 L531.0,1137.31 L531.5,1137.15 L532.0,1136.95 L532.5,1136.63 L533.0,1136.05 L533.5,1135.55 L534.0,1134.86 L534.5,1134.18 L535.0,1133.26 L535.5,1132.67 L536.0,1131.71 L536.5,1130.80 L537.0,1129.45 L537.5,1128.31 L538.0,1126.84 L538.5,1125.48 L539.0,1123.77 L539.5,1121.97 L540.0,1119.74 L540.5,1117.40 L541.0,1114.47 L541.5,1111.36 L542.0,1107.51 L542.5,1103.13 L543.0,1098.07 L543.5,1092.09 L544.0,1084.78 L544.5,1076.35 L545.0,1066.55 L545.5,1054.64 L546.0,1040.29 L546.5,1023.60 L547.0,1004.06 L547.5,981.44 L548.0,955.79 L548.5,928.19 L549.0,900.31 L549.5,875.34 L550.0,856.43 L550.5,848.38 L551.0,852.39 L551.5,867.29 L552.0,890.65 L552.5,918.49 L553.0,947.11 L553.5,974.20 L554.0,998.27 L554.5,1019.70 L555.0,1038.18 L555.5,1053.76 L556.0,1067.10 L556.5,1076.41 L557.0,1086.02 L557.5,1093.81 L558.0,1100.67 L558.5,1106.52 L559.0,1111.69 L559.5,1115.79 L560.0,1119.76 L560.5,1122.93 L561.0,1125.76 L561.5,1128.62 L562.0,1130.80 L562.5,1132.91 L563.0,1134.56 L563.5,1136.20 L564.0,1137.56 L564.5,1138.90 L565.0,1139.95 L565.5,1141.25 L566.0,1141.90 L566.5,1143.07 L567.0,1143.65 L567.5,1144.51 L568.0,1145.10 L568.5,1145.76 L569.0,1146.46 L569.5,1146.85 L570.0,1147.23 L570.5,1147.85 L571.0,1148.35 L571.5,1148.41 L572.0,1149.22 L572.5,1149.63 L573.0,1149.67 L573.5,1150.23 L574.0,1150.69 L574.5,1150.81 L575.0,1151.23 L575.5,1151.57 L576.0,1152.00 L576.5,1152.38 L577.0,1152.56 L577.5,1152.89 L578.0,1153.30 L578.5,1153.56 L579.0,1153.79 L579.5,1154.26 L580.0,1154.24 L580.5,1154.72 L581.0,1154.95 L581.5,1155.24 L582.0,1155.62 L582.5,1155.89 L583.0,1156.47 L583.5,1156.54 L584.0,1156.79 L584.5,1157.23 L585.0,1157.43 L585.5,1157.37 L586.0,1157.88 L586.5,1158.22 L587.0,1158.33 L587.5,1158.69 L588.0,1158.86 L588.5,1159.21 L589.0,1159.22 L589.5,1159.42 L590.0,1159.83 L590.5,1160.15 L591.0,1160.50 L591.5,1160.53 L592.0,1160.69 L592.5,1161.10 L593.0,1161.19 L593.5,1161.60 L594.0,1161.57 L594.5,1161.53 L595.0,1161.85 L595.5,1162.00 L596.0,1162.12 L596.5,1162.35 L597.0,1162.52 L597.5,1162.72 L598.0,1162.83 L598.5,1163.09 L599.0,1163.23 L599.5,1163.33 L600.0,1163.46 L600.5,1163.34 L601.0,1163.49 L601.5,1163.70 L602.0,1163.95 L602.5,1163.85 L603.0,1164.08 L603.5,1164.27 L604.0,1164.58 L604.5,1164.47 L605.0,1164.47 L605.5,1164.76 L606.0,1164.74 L606.5,1164.77 L607.0,1165.03 L607.5,1164.87 L608.0,1165.09 L608.5,1165.16 L609.0,1165.34 L609.5,1165.18 L610.0,1165.24 L610.5,1165.42 L611.0,1165.51 L611.5,1165.63 L612.0,1165.66 L612.5,1165.83 L613.0,1165.93 L613.5,1165.95 L614.0,1165.88 L614.5,1166.21 L615.0,1165.97 L615.5,1166.20 L616.0,1166.40 L616.5,1166.29 L617.0,1166.59 L617.5,1166.73 L618.0,1166.75 L618.5,1166.68 L619.0,1166.80 L619.5,1166.68 L620.0,1166.84 L620.5,1166.89 L621.0,1166.89 L621.5,1166.93 L622.0,1166.91 L622.5,1166.71 L623.0,1166.99 L623.5,1166.96 L624.0,1167.14 L624.5,1166.92 L625.0,1166.75 L625.5,1166.71 L626.0,1166.50 L626.5,1166.17 L627.0,1165.79 L627.5,1165.20 L628.0,1164.77 L628.5,1164.10 L629.0,1162.55 L629.5,1161.14 L630.0,1159.40 L630.5,1157.05 L631.0,1154.85 L631.5,1153.20 L632.0,1153.55 L632.5,1155.35 L633.0,1157.70 L633.5,1159.93 L634.0,1161.66 L634.5,1163.25 L635.0,1164.07 L635.5,1164.80 L636.0,1165.20 L636.5,1165.70 L637.0,1165.43 L637.5,1165.18 L638.0,1164.29 L638.5,1163.65 L639.0,1161.95 L639.5,1159.20 L640.0,1155.46 L640.5,1150.44 L641.0,1143.31 L641.5,1137.84 L642.0,1137.05 L642.5,1142.20 L643.0,1149.85 L643.5,1155.86 L644.0,1160.28 L644.5,1163.20 L645.0,1165.39 L645.5,1167.07 L646.0,1168.00 L646.5,1168.73 L647.0,1169.75 L647.5,1170.11 L648.0,1170.77 L648.5,1170.92 L649.0,1171.23 L649.5,1171.51 L650.0,1171.47 L650.5,1172.08 L651.0,1172.02 L651.5,1172.21 L652.0,1172.52 L652.5,1172.45 L653.0,1172.62 L653.5,1172.61 L654.0,1172.70 L654.5,1172.66 L655.0,1172.76 L655.5,1172.58 L656.0,1172.61 L656.5,1172.39 L657.0,1172.51 L657.5,1171.96 L658.0,1172.06 L658.5,1171.84 L659.0,1171.54 L659.5,1171.14 L660.0,1170.85 L660.5,1170.40 L661.0,1169.41 L661.5,1168.44 L662.0,1167.56 L662.5,1166.40 L663.0,1165.05 L663.5,1163.35 L664.0,1161.46 L664.5,1158.95 L665.0,1156.40 L665.5,1153.70 L666.0,1150.99 L666.5,1148.97 L667.0,1148.16 L667.5,1147.82 L668.0,1148.94 L668.5,1151.00 L669.0,1154.17 L669.5,1156.99 L670.0,1159.85 L670.5,1162.87 L671.0,1165.10 L671.5,1166.76 L672.0,1168.67 L672.5,1170.33 L673.0,1171.60 L673.5,1172.47 L674.0,1173.77 L674.5,1174.62 L675.0,1174.99 L675.5,1175.56 L676.0,1176.18 L676.5,1176.95 L677.0,1177.46 L677.5,1177.78 L678.0,1178.07 L678.5,1178.49 L679.0,1178.90 L679.5,1179.00 L680.0,1179.23 L680.5,1179.69 L681.0,1180.11 L681.5,1180.23 L682.0,1180.46 L682.5,1180.58 L683.0,1180.98 L683.5,1180.87 L684.0,1181.26 L684.5,1181.39 L685.0,1181.62 L685.5,1181.71 L686.0,1182.08 L686.5,1182.15 L687.0,1182.25 L687.5,1182.54 L688.0,1182.63 L688.5,1182.73 L689.0,1182.87 L689.5,1183.18 L690.0,1183.12 L690.5,1183.34 L691.0,1183.47 L691.5,1183.68 L692.0,1183.75 L692.5,1184.16 L693.0,1183.82 L693.5,1184.23 L694.0,1184.28 L694.5,1184.54 L695.0,1184.33 L695.5,1184.79 L696.0,1184.59 L696.5,1184.96 L697.0,1185.05 L697.5,1185.10 L698.0,1185.12 L698.5,1185.22 L699.0,1185.43 L699.5,1185.43 L700.0,1185.39 L700.5,1185.51 L701.0,1185.92 L701.5,1186.03 L702.0,1186.09 L702.5,1186.13 L703.0,1186.27 L703.5,1186.38 L704.0,1186.45 L704.5,1186.42 L705.0,1186.52 L705.5,1186.56 L706.0,1186.81 L706.5,1186.77 L707.0,1186.96 L707.5,1187.23 L708.0,1187.12 L708.5,1187.37 L709.0,1187.53 L709.5,1187.22 L710.0,1187.35 L710.5,1187.67 L711.0,1187.62 L711.5,1187.86 L712.0,1187.96 L712.5,1187.90 L713.0,1188.15 L713.5,1188.35 L714.0,1188.34 L714.5,1188.20 L715.0,1188.38 L715.5,1188.41 L716.0,1188.75 L716.5,1188.62 L717.0,1188.64 L717.5,1188.82 L718.0,1188.95 L718.5,1188.93 L719.0,1189.07 L719.5,1189.14 L720.0,1189.30 L720.5,1189.41 L721.0,1189.41 L721.5,1189.40 L722.0,1189.58 L722.5,1189.50 L723.0,1189.82 L723.5,1189.81 L724.0,1189.87 L724.5,1189.63 L725.0,1190.28 L725.5,1190.24 L726.0,1190.30 L726.5,1190.23 L727.0,1190.37 L727.5,1190.71 L728.0,1190.36 L728.5,1190.60 L729.0,1190.66 L729.5,1190.68 L730.0,1190.77 L730.5,1190.69 L731.0,1190.95 L731.5,1190.79 L732.0,1191.24 L732.5,1191.18 L733.0,1191.05 L733.5,1190.97 L734.0,1191.31 L734.5,1191.42 L735.0,1191.31 L735.5,1191.70 L736.0,1191.60 L736.5,1191.58 L737.0,1191.53 L737.5,1191.75 L738.0,1191.81 L738.5,1191.97 L739.0,1192.09 L739.5,1192.03 L740.0,1192.14 L740.5,1192.32 L741.0,1192.29 L741.5,1192.24 L742.0,1192.41 L742.5,1192.34 L743.0,1192.51 L743.5,1192.53 L744.0,1192.45 L744.5,1192.71 L745.0,1192.71 L745.5,1192.85 L746.0,1192.66 L746.5,1193.01 L747.0,1193.07 L747.5,1192.95 L748.0,1193.04 L748.5,1193.11 L749.0,1193.16 L749.5,1193.32 L750.0,1193.19 L750.5,1193.19 L751.0,1193.35 L751.5,1193.66 L752.0,1193.44 L752.5,1193.42 L753.0,1193.48 L753.5,1193.67 L754.0,1193.84 L754.5,1193.66 L755.0,1193.82 L755.5,1193.88 L756.0,1193.96 L756.5,1193.97 L757.0,1194.13 L757.5,1194.13 L758.0,1194.03 L758.5,1194.44 L759.0,1194.03 L759.5,1194.09 L760.0,1194.42 L760.5,1194.36 L761.0,1194.36 L761.5,1194.46 L762.0,1194.56 L762.5,1194.47 L763.0,1194.49 L763.5,1194.49 L764.0,1194.55 L764.5,1194.61 L765.0,1194.88 L765.5,1194.82 L766.0,1194.90 L766.5,1194.81 L767.0,1195.04 L767.5,1194.77 L768.0,1195.05 L768.5,1195.12 L769.0,1195.01 L769.5,1194.99 L770.0,1195.22 L770.5,1195.11 L771.0,1195.12 L771.5,1195.27 L772.0,1195.17 L772.5,1195.32 L773.0,1195.62 L773.5,1195.36 L774.0,1195.56 L774.5,1195.36 L775.0,1195.53 L775.5,1195.52 L776.0,1195.56 L776.5,1195.70 L777.0,1195.90 L777.5,1195.66 L778.0,1195.86 L778.5,1195.77 L779.0,1195.85 L779.5,1195.73 L780.0,1195.73 L780.5,1195.82 L781.0,1195.77 L781.5,1195.89 L782.0,1195.79 L782.5,1195.94 L783.0,1195.98 L783.5,1196.20 L784.0,1196.21 L784.5,1196.08 L785.0,1195.98 L785.5,1196.13 L786.0,1196.17 L786.5,1196.06 L787.0,1195.99 L787.5,1195.89 L788.0,1196.11 L788.5,1196.36 L789.0,1196.11 L789.5,1196.19 L790.0,1196.19 L790.5,1196.21 L791.0,1196.24 L791.5,1195.91 L792.0,1196.13 L792.5,1196.18 L793.0,1196.12 L793.5,1196.27 L794.0,1196.06 L794.5,1196.20 L795.0,1196.28 L795.5,1196.02 L796.0,1196.03 L796.5,1195.96 L797.0,1196.06 L797.5,1195.67 L798.0,1195.71 L798.5,1195.81 L799.0,1195.90 L799.5,1195.81 L800.0,1195.58 L800.5,1195.81 L801.0,1195.55 L801.5,1195.38 L802.0,1195.43 L802.5,1195.42 L803.0,1195.15 L803.5,1194.86 L804.0,1194.84 L804.5,1194.77 L805.0,1194.72 L805.5,1194.31 L806.0,1194.28 L806.5,1193.90 L807.0,1193.82 L807.5,1193.40 L808.0,1193.23 L808.5,1192.80 L809.0,1192.53 L809.5,1192.09 L810.0,1191.63 L810.5,1191.56 L811.0,1191.05 L811.5,1190.40 L812.0,1189.67 L812.5,1189.17 L813.0,1188.16 L813.5,1187.34 L814.0,1186.40 L814.5,1185.12 L815.0,1183.93 L815.5,1182.20 L816.0,1180.41 L816.5,1178.38 L817.0,1175.80 L817.5,1172.97 L818.0,1169.84 L818.5,1165.57 L819.0,1161.17 L819.5,1155.42 L820.0,1148.77 L820.5,1140.69 L821.0,1131.21 L821.5,1120.44 L822.0,1108.07 L822.5,1095.33 L823.0,1083.43 L823.5,1073.68 L824.0,1068.80 L824.5,1069.34 L825.0,1075.33 L825.5,1085.45 L826.0,1097.69 L826.5,1110.87 L827.0,1122.41 L827.5,1133.09 L828.0,1142.52 L828.5,1150.24 L829.0,1156.74 L829.5,1162.19 L830.0,1166.71 L830.5,1170.51 L831.0,1173.78 L831.5,1176.70 L832.0,1179.10 L832.5,1181.13 L833.0,1182.72 L833.5,1183.95 L834.0,1185.59 L834.5,1186.65 L835.0,1187.34 L835.5,1188.71 L836.0,1189.35 L836.5,1190.00 L837.0,1190.64 L837.5,1191.17 L838.0,1191.66 L838.5,1192.07 L839.0,1192.43 L839.5,1192.83 L840.0,1193.09 L840.5,1193.60 L841.0,1193.54 L841.5,1193.65 L842.0,1193.80 L842.5,1194.05 L843.0,1194.12 L843.5,1194.21 L844.0,1194.19 L844.5,1194.21 L845.0,1194.30 L845.5,1194.32 L846.0,1194.11 L846.5,1193.93 L847.0,1193.64 L847.5,1193.42 L848.0,1193.29 L848.5,1192.92 L849.0,1192.52 L849.5,1191.89 L850.0,1191.39 L850.5,1190.42 L851.0,1189.61 L851.5,1188.54 L852.0,1187.33 L852.5,1185.48 L853.0,1183.30 L853.5,1180.74 L854.0,1177.23 L854.5,1172.87 L855.0,1166.98 L855.5,1159.43 L856.0,1149.76 L856.5,1138.16 L857.0,1125.16 L857.5,1113.75 L858.0,1108.32 L858.5,1110.72 L859.0,1120.38 L859.5,1133.13 L860.0,1145.55 L860.5,1155.58 L861.0,1164.15 L861.5,1170.88 L862.0,1175.49 L862.5,1179.57 L863.0,1182.41 L863.5,1184.64 L864.0,1186.52 L864.5,1187.72 L865.0,1189.04 L865.5,1189.95 L866.0,1190.23 L866.5,1190.73 L867.0,1191.19 L867.5,1191.16 L868.0,1190.99 L868.5,1190.96 L869.0,1190.18 L869.5,1189.76 L870.0,1189.02 L870.5,1187.98 L871.0,1186.90 L871.5,1185.13 L872.0,1183.62 L872.5,1181.56 L873.0,1179.66 L873.5,1177.43 L874.0,1175.13 L874.5,1173.35 L875.0,1172.36 L875.5,1171.94 L876.0,1172.49 L876.5,1173.87 L877.0,1175.52 L877.5,1177.80 L878.0,1179.61 L878.5,1181.41 L879.0,1182.97 L879.5,1184.40 L880.0,1185.64 L880.5,1186.32 L881.0,1186.88 L881.5,1187.03 L882.0,1186.79 L882.5,1186.17 L883.0,1185.41 L883.5,1184.21 L884.0,1182.28 L884.5,1180.21 L885.0,1177.01 L885.5,1173.19 L886.0,1168.15 L886.5,1162.22 L887.0,1155.66 L887.5,1148.61 L888.0,1144.04 L888.5,1142.99 L889.0,1144.91 L889.5,1149.46 L890.0,1154.38 L890.5,1158.61 L891.0,1161.38 L891.5,1163.35 L892.0,1163.98 L892.5,1163.75 L893.0,1162.00 L893.5,1159.57 L894.0,1156.33 L894.5,1151.65 L895.0,1146.53 L895.5,1139.89 L896.0,1131.40 L896.5,1121.28 L897.0,1108.99 L897.5,1094.21 L898.0,1076.25 L898.5,1055.49 L899.0,1030.77 L899.5,1003.39 L900.0,974.85 L900.5,947.32 L901.0,925.59 L901.5,914.31 L902.0,915.60 L902.5,929.81 L903.0,953.06 L903.5,981.11 L904.0,1010.31 L904.5,1037.64 L905.0,1061.55 L905.5,1082.42 L906.0,1100.02 L906.5,1114.69 L907.0,1126.97 L907.5,1137.36 L908.0,1145.94 L908.5,1153.14 L909.0,1159.50 L909.5,1164.73 L910.0,1169.17 L910.5,1173.08 L911.0,1176.02 L911.5,1179.27 L912.0,1181.76 L912.5,1183.73 L913.0,1186.15 L913.5,1187.64 L914.0,1189.04 L914.5,1190.37 L915.0,1191.60 L915.5,1192.59 L916.0,1193.28 L916.5,1194.20 L917.0,1194.96 L917.5,1195.53 L918.0,1196.00 L918.5,1196.10 L919.0,1196.35 L919.5,1196.53 L920.0,1196.29 L920.5,1196.04 L921.0,1195.30 L921.5,1194.52 L922.0,1193.14 L922.5,1191.58 L923.0,1189.90 L923.5,1188.80 L924.0,1189.00 L924.5,1190.71 L925.0,1192.94 L925.5,1195.26 L926.0,1197.52 L926.5,1199.47 L927.0,1200.95 L927.5,1202.03 L928.0,1203.00 L928.5,1203.51 L929.0,1204.11 L929.5,1204.46 L930.0,1204.83 L930.5,1205.38 L931.0,1205.42 L931.5,1205.57 L932.0,1205.87 L932.5,1205.81 L933.0,1205.45 L933.5,1205.62 L934.0,1205.33 L934.5,1205.43 L935.0,1204.97 L935.5,1204.96 L936.0,1204.83 L936.5,1205.04 L937.0,1204.46 L937.5,1204.68 L938.0,1204.55 L938.5,1204.32 L939.0,1204.31 L939.5,1204.42 L940.0,1204.05 L940.5,1203.91 L941.0,1204.04 L941.5,1203.90 L942.0,1203.60 L942.5,1203.71 L943.0,1203.66 L943.5,1203.43 L944.0,1203.40 L944.5,1203.37 L945.0,1203.24 L945.5,1203.38 L946.0,1203.27 L946.5,1202.87 L947.0,1202.97 L947.5,1202.91 L948.0,1202.57 L948.5,1202.52 L949.0,1202.36 L949.5,1201.85 L950.0,1201.70 L950.5,1201.08 L951.0,1201.03 L951.5,1200.38 L952.0,1199.83 L952.5,1199.38 L953.0,1199.14 L953.5,1199.43 L954.0,1199.33 L954.5,1199.70 L955.0,1200.17 L955.5,1200.52 L956.0,1201.26 L956.5,1201.27 L957.0,1202.04 L957.5,1202.14 L958.0,1202.48 L958.5,1202.71 L959.0,1202.94 L959.5,1202.81 L960.0,1203.13 L960.5,1203.12 L961.0,1203.15 L961.5,1203.15 L962.0,1203.32 L962.5,1203.22 L963.0,1203.28 L963.5,1203.17 L964.0,1202.73 L964.5,1202.85 L965.0,1202.84 L965.5,1202.43 L966.0,1202.12 L966.5,1201.79 L967.0,1201.99 L967.5,1201.26 L968.0,1200.94 L968.5,1200.23 L969.0,1199.74 L969.5,1199.07 L970.0,1197.67 L970.5,1196.58 L971.0,1194.92 L971.5,1192.80 L972.0,1190.40 L972.5,1187.32 L973.0,1183.41 L973.5,1178.37 L974.0,1172.17 L974.5,1165.32 L975.0,1159.40 L975.5,1155.26 L976.0,1154.89 L976.5,1158.24 L977.0,1164.37 L977.5,1171.37 L978.0,1177.60 L978.5,1182.90 L979.0,1187.14 L979.5,1190.44 L980.0,1193.20 L980.5,1195.37 L981.0,1197.11 L981.5,1198.41 L982.0,1199.47 L982.5,1200.64 L983.0,1201.22 L983.5,1202.00 L984.0,1202.41 L984.5,1202.97 L985.0,1203.33 L985.5,1203.69 L986.0,1203.96 L986.5,1204.00 L987.0,1204.16 L987.5,1204.49 L988.0,1204.84 L988.5,1204.65 L989.0,1204.73 L989.5,1205.19 L990.0,1204.76 L990.5,1204.88 L991.0,1204.88 L991.5,1204.78 L992.0,1204.67 L992.5,1204.71 L993.0,1204.36 L993.5,1204.04 L994.0,1203.40 L994.5,1203.16 L995.0,1202.41 L995.5,1201.55 L996.0,1197.37 L996.5,1195.81 L997.0,1193.98 L997.5,1191.89 L998.0,1189.18 L998.5,1186.07 L999.0,1182.35 L999.5,1178.34 L1000.0,1173.22 L1000.5,1167.93 L1001.0,1162.52 L1001.5,1157.56 L1002.0,1153.54 L1002.5,1151.95 L1003.0,1152.78 L1003.5,1155.78 L1004.0,1160.69 L1004.5,1166.68 L1005.0,1172.00 L1005.5,1177.53 L1006.0,1182.13 L1006.5,1186.35 L1007.0,1189.78 L1007.5,1192.60 L1008.0,1194.91 L1008.5,1197.35 L1009.0,1199.06 L1009.5,1200.57 L1010.0,1201.94 L1010.5,1202.89 L1011.0,1204.00 L1011.5,1204.86 L1012.0,1205.45 L1012.5,1206.18 L1013.0,1206.93 L1013.5,1207.23 L1014.0,1208.09 L1014.5,1208.55 L1015.0,1208.87 L1015.5,1209.30 L1016.0,1209.40 L1016.5,1209.98 L1017.0,1210.36 L1017.5,1210.62 L1018.0,1210.94 L1018.5,1211.08 L1019.0,1211.57 L1019.5,1211.61 L1020.0,1211.88 L1020.5,1212.12 L1021.0,1212.10 L1021.5,1212.25 L1022.0,1212.67 L1022.5,1212.60 L1023.0,1212.85 L1023.5,1213.21 L1024.0,1213.11 L1024.5,1213.28 L1025.0,1213.40 L1025.5,1213.57 L1026.0,1214.07 L1026.5,1214.05 L1027.0,1214.23 L1027.5,1214.01 L1028.0,1214.08 L1028.5,1214.35 L1029.0,1214.74 L1029.5,1214.87 L1030.0,1214.60 L1030.5,1214.74 L1031.0,1215.14 L1031.5,1215.19 L1032.0,1215.32 L1032.5,1215.44 L1033.0,1215.33 L1033.5,1215.56 L1034.0,1215.60 L1034.5,1215.86 L1035.0,1215.76 L1035.5,1215.64 L1036.0,1216.10 L1036.5,1216.23 L1037.0,1216.19 L1037.5,1216.09 L1038.0,1216.07 L1038.5,1216.35 L1039.0,1216.20 L1039.5,1216.36 L1040.0,1216.42 L1040.5,1216.31 L1041.0,1216.08 L1041.5,1216.37 L1042.0,1216.15 L1042.5,1216.02 L1043.0,1216.11 L1043.5,1216.01 L1044.0,1215.83 L1044.5,1215.73 L1045.0,1215.20 L1045.5,1215.29 L1046.0,1215.25 L1046.5,1214.96 L1047.0,1214.95 L1047.5,1215.15 L1048.0,1215.56 L1048.5,1215.66 L1049.0,1215.85 L1049.5,1215.98 L1050.0,1216.56 L1050.5,1216.74 L1051.0,1216.70 L1051.5,1217.07 L1052.0,1216.87 L1052.5,1217.08 L1053.0,1216.90 L1053.5,1217.00 L1054.0,1217.17 L1054.5,1217.27 L1055.0,1217.32 L1055.5,1217.16 L1056.0,1217.23 L1056.5,1217.31 L1057.0,1217.31 L1057.5,1217.33 L1058.0,1217.47 L1058.5,1217.53 L1059.0,1217.17 L1059.5,1217.57 L1060.0,1217.44 L1060.5,1217.46 L1061.0,1217.47 L1061.5,1217.54 L1062.0,1217.52 L1062.5,1217.25 L1063.0,1217.54 L1063.5,1217.29 L1064.0,1217.48 L1064.5,1217.45 L1065.0,1217.23 L1065.5,1217.42 L1066.0,1217.38 L1066.5,1217.32 L1067.0,1217.64 L1067.5,1217.40 L1068.0,1217.32 L1068.5,1217.57 L1069.0,1217.34 L1069.5,1217.31 L1070.0,1217.06 L1070.5,1217.35 L1071.0,1217.38 L1071.5,1217.46 L1072.0,1217.07 L1072.5,1217.29 L1073.0,1217.30 L1073.5,1217.17 L1074.0,1217.04 L1074.5,1216.78 L1075.0,1216.95 L1075.5,1216.79 L1076.0,1216.57 L1076.5,1216.77 L1077.0,1216.59 L1077.5,1216.47 L1078.0,1216.61 L1078.5,1216.16 L1079.0,1215.81 L1079.5,1215.60 L1080.0,1215.70 L1080.5,1215.35 L1081.0,1214.97 L1081.5,1214.43 L1082.0,1214.15 L1082.5,1213.59 L1083.0,1213.08 L1083.5,1212.23 L1084.0,1211.32 L1084.5,1210.37 L1085.0,1209.07 L1085.5,1207.90 L1086.0,1206.14 L1086.5,1205.27 L1087.0,1204.82 L1087.5,1204.51 L1088.0,1204.78 L1088.5,1205.81 L1089.0,1206.99 L1089.5,1208.34 L1090.0,1209.83 L1090.5,1210.76 L1091.0,1211.83 L1091.5,1212.54 L1092.0,1213.26 L1092.5,1213.75 L1093.0,1214.35 L1093.5,1214.79 L1094.0,1215.14 L1094.5,1215.48 L1095.0,1215.73 L1095.5,1216.01 L1096.0,1216.09 L1096.5,1216.43 L1097.0,1216.48 L1097.5,1216.69 L1098.0,1216.62 L1098.5,1216.86 L1099.0,1216.80 L1099.5,1216.66 L1100.0,1216.92 L1100.5,1216.96 L1101.0,1216.85 L1101.5,1216.95 L1102.0,1217.04 L1102.5,1217.42 L1103.0,1217.22 L1103.5,1217.43 L1104.0,1217.35 L1104.5,1217.39 L1105.0,1217.38 L1105.5,1217.12 L1106.0,1217.47 L1106.5,1217.21 L1107.0,1217.40 L1107.5,1217.35 L1108.0,1217.57 L1108.5,1217.53 L1109.0,1217.62 L1109.5,1217.46 L1110.0,1217.41 L1110.5,1217.50 L1111.0,1217.70 L1111.5,1217.48 L1112.0,1217.42 L1112.5,1217.26 L1113.0,1217.32 L1113.5,1217.39 L1114.0,1217.47 L1114.5,1217.46 L1115.0,1217.36 L1115.5,1217.37 L1116.0,1217.52 L1116.5,1217.54 L1117.0,1217.44 L1117.5,1217.46 L1118.0,1217.39 L1118.5,1217.43 L1119.0,1217.02 L1119.5,1217.06 L1120.0,1217.11 L1120.5,1217.07 L1121.0,1217.12 L1121.5,1216.67 L1122.0,1216.84 L1122.5,1216.76 L1123.0,1216.55 L1123.5,1216.51 L1124.0,1216.52 L1124.5,1216.32 L1125.0,1216.09 L1125.5,1215.96 L1126.0,1215.72 L1126.5,1215.61 L1127.0,1215.23 L1127.5,1215.06 L1128.0,1214.53 L1128.5,1214.20 L1129.0,1213.62 L1129.5,1213.20 L1130.0,1212.71 L1130.5,1211.77 L1131.0,1211.02 L1131.5,1210.10 L1132.0,1208.92 L1132.5,1207.76 L1133.0,1206.01 L1133.5,1204.59 L1134.0,1202.81 L1134.5,1200.94 L1135.0,1198.87 L1135.5,1197.16 L1136.0,1195.91 L1136.5,1195.67 L1137.0,1195.92 L1137.5,1196.80 L1138.0,1198.30 L1138.5,1200.15 L1139.0,1201.95 L1139.5,1203.72 L1140.0,1205.49 L1140.5,1207.16 L1141.0,1208.54 L1141.5,1209.67 L1142.0,1210.85 L1142.5,1211.65 L1143.0,1212.55 L1143.5,1212.94 L1144.0,1213.28 L1144.5,1212.96 L1145.0,1212.61 L1145.5,1211.96 L1146.0,1211.55 L1146.5,1211.45 L1147.0,1211.09 L1147.5,1211.51 L1148.0,1212.52 L1148.5,1213.64 L1149.0,1214.90 L1149.5,1215.73 L1150.0,1216.33 L1150.5,1216.67 L1151.0,1217.23 L1151.5,1217.49 L1152.0,1217.51 L1152.5,1217.48 L1153.0,1217.61 L1153.5,1217.68 L1154.0,1217.85 L1154.5,1217.83 L1155.0,1218.03 L1155.5,1217.91 L1156.0,1217.89 L1156.5,1218.23 L1157.0,1217.92 L1157.5,1217.98 L1158.0,1218.36 L1158.5,1218.17 L1159.0,1218.37 L1159.5,1217.88 L1160.0,1218.35 L1160.5,1218.22 L1161.0,1218.25 L1161.5,1218.31 L1162.0,1217.93 L1162.5,1218.16 L1163.0,1218.34 L1163.5,1218.68 L1164.0,1218.21 L1164.5,1218.59 L1165.0,1218.39 L1165.5,1218.44 L1166.0,1218.21 L1166.5,1218.40 L1167.0,1218.22 L1167.5,1218.18 L1168.0,1218.48 L1168.5,1218.24 L1169.0,1218.26 L1169.5,1218.40 L1170.0,1218.22 L1170.5,1218.16 L1171.0,1218.33 L1171.5,1218.33 L1172.0,1218.48 L1172.5,1218.15 L1173.0,1218.36 L1173.5,1218.35 L1174.0,1218.20 L1174.5,1218.22 L1175.0,1218.23 L1175.5,1218.09 L1176.0,1218.04 L1176.5,1218.27 L1177.0,1218.04 L1177.5,1218.03 L1178.0,1218.22 L1178.5,1218.04 L1179.0,1218.03 L1179.5,1217.89 L1180.0,1217.88 L1180.5,1217.84 L1181.0,1217.81 L1181.5,1218.09 L1182.0,1217.79 L1182.5,1217.59 L1183.0,1217.70 L1183.5,1217.88 L1184.0,1217.61 L1184.5,1217.70 L1185.0,1217.55 L1185.5,1217.40 L1186.0,1217.49 L1186.5,1217.37 L1187.0,1217.45 L1187.5,1217.45 L1188.0,1217.28 L1188.5,1217.53 L1189.0,1217.00 L1189.5,1217.20 L1190.0,1216.99 L1190.5,1217.01 L1191.0,1216.79 L1191.5,1216.32 L1192.0,1216.42 L1192.5,1216.44 L1193.0,1216.15 L1193.5,1215.81 L1194.0,1215.71 L1194.5,1215.59 L1195.0,1215.46 L1195.5,1214.97 L1196.0,1214.76 L1196.5,1214.30 L1197.0,1213.90 L1197.5,1213.56 L1198.0,1213.31 L1198.5,1212.70 L1199.0,1211.97 L1199.5,1211.30 L1200.0,1210.56 L1200.5,1209.55 L1201.0,1208.44 L1201.5,1207.22 L1202.0,1205.89 L1202.5,1204.11 L1203.0,1202.34 L1203.5,1199.84 L1204.0,1197.53 L1204.5,1194.91 L1205.0,1192.25 L1205.5,1189.33 L1206.0,1186.94 L1206.5,1185.23 L1207.0,1184.25 L1207.5,1184.32 L1208.0,1185.54 L1208.5,1187.49 L1209.0,1190.27 L1209.5,1193.05 L1210.0,1195.93 L1210.5,1198.79 L1211.0,1201.12 L1211.5,1203.21 L1212.0,1205.07 L1212.5,1207.04 L1213.0,1208.26 L1213.5,1209.48 L1214.0,1210.77 L1214.5,1211.64 L1215.0,1212.41 L1215.5,1213.24 L1216.0,1214.09 L1216.5,1214.45 L1217.0,1215.00 L1217.5,1215.30 L1218.0,1215.75 L1218.5,1216.26 L1219.0,1216.44 L1219.5,1216.72 L1220.0,1217.04 L1220.5,1217.02 L1221.0,1217.34 L1221.5,1217.13 L1222.0,1217.10 L1222.5,1217.01 L1223.0,1216.78 L1223.5,1216.79 L1224.0,1216.41 L1224.5,1216.16 L1225.0,1215.39 L1225.5,1214.97 L1226.0,1214.39 L1226.5,1213.54 L1227.0,1212.95 L1227.5,1212.26 L1228.0,1212.62 L1228.5,1212.49 L1229.0,1212.96 L1229.5,1213.36 L1230.0,1214.10 L1230.5,1214.54 L1231.0,1215.35 L1231.5,1215.78 L1232.0,1216.14 L1232.5,1216.58 L1233.0,1216.58 L1233.5,1217.02 L1234.0,1217.09 L1234.5,1217.42 L1235.0,1217.41 L1235.5,1217.33 L1236.0,1217.33 L1236.5,1217.71 L1237.0,1217.19 L1237.5,1217.49 L1238.0,1217.31 L1238.5,1217.22 L1239.0,1216.81 L1239.5,1217.04 L1240.0,1216.77 L1240.5,1216.60 L1241.0,1216.66 L1241.5,1216.36 L1242.0,1216.36 L1242.5,1216.02 L1243.0,1216.02 L1243.5,1215.81 L1244.0,1215.45 L1244.5,1215.22 L1245.0,1215.00 L1245.5,1214.76 L1246.0,1214.46 L1246.5,1214.44 L1247.0,1213.92 L1247.5,1213.45 L1248.0,1213.04 L1248.5,1212.53 L1249.0,1212.16 L1249.5,1211.57 L1250.0,1210.90 L1250.5,1210.24 L1251.0,1209.54 L1251.5,1208.66 L1252.0,1207.91 L1252.5,1206.80 L1253.0,1205.88 L1253.5,1204.54 L1254.0,1203.25 L1254.5,1201.53 L1255.0,1199.56 L1255.5,1197.52 L1256.0,1195.21 L1256.5,1192.44 L1257.0,1189.09 L1257.5,1185.16 L1258.0,1180.51 L1258.5,1174.94 L1259.0,1168.41 L1259.5,1160.63 L1260.0,1151.75 L1260.5,1141.42 L1261.0,1130.11 L1261.5,1118.34 L1262.0,1107.35 L1262.5,1097.72 L1263.0,1092.38 L1263.5,1091.83 L1264.0,1096.33 L1264.5,1104.71 L1265.0,1115.73 L1265.5,1127.01 L1266.0,1138.74 L1266.5,1148.73 L1267.0,1157.88 L1267.5,1165.84 L1268.0,1172.40 L1268.5,1177.95 L1269.0,1182.63 L1269.5,1186.58 L1270.0,1189.92 L1270.5,1192.60 L1271.0,1194.69 L1271.5,1196.67 L1272.0,1198.52 L1272.5,1199.90 L1273.0,1200.85 L1273.5,1201.72 L1274.0,1202.28 L1274.5,1202.95 L1275.0,1202.91 L1275.5,1203.04 L1276.0,1202.91 L1276.5,1202.92 L1277.0,1202.19 L1277.5,1201.62 L1278.0,1200.44 L1278.5,1199.20 L1279.0,1197.95 L1279.5,1196.05 L1280.0,1193.86 L1280.5,1191.27 L1281.0,1188.51 L1281.5,1185.79 L1282.0,1183.30 L1282.5,1181.67 L1283.0,1181.19 L1283.5,1181.52 L1284.0,1183.01 L1284.5,1185.61 L1285.0,1188.45 L1285.5,1191.48 L1286.0,1194.53 L1286.5,1197.13 L1287.0,1199.44 L1287.5,1201.83 L1288.0,1203.61 L1288.5,1204.93 L1289.0,1206.36 L1289.5,1207.22 L1290.0,1208.19 L1290.5,1209.13 L1291.0,1209.67 L1291.5,1210.28 L1292.0,1210.32 L1292.5,1211.06 L1293.0,1211.27 L1293.5,1211.53 L1294.0,1211.51 L1294.5,1211.67 L1295.0,1211.82 L1295.5,1211.72 L1296.0,1211.57 L1296.5,1211.37 L1297.0,1211.20 L1297.5,1211.03 L1298.0,1211.04 L1298.5,1211.28 L1299.0,1211.70 L1299.5,1212.07 L1300.0,1212.48 L1300.5,1212.93 L1301.0,1212.93 L1301.5,1213.25 L1302.0,1213.42 L1302.5,1213.63 L1303.0,1213.68 L1303.5,1213.50 L1304.0,1213.28 L1304.5,1212.97 L1305.0,1212.80 L1305.5,1212.27 L1306.0,1211.50 L1306.5,1210.85 L1307.0,1210.13 L1307.5,1209.45 L1308.0,1208.77 L1308.5,1208.84 L1309.0,1209.10 L1309.5,1209.58 L1310.0,1210.50 L1310.5,1211.34 L1311.0,1212.22 L1311.5,1213.13 L1312.0,1213.92 L1312.5,1214.46 L1313.0,1214.77 L1313.5,1215.08 L1314.0,1215.36 L1314.5,1215.76 L1315.0,1215.88 L1315.5,1216.22 L1316.0,1216.30 L1316.5,1216.50 L1317.0,1216.54 L1317.5,1216.96 L1318.0,1216.97 L1318.5,1216.94 L1319.0,1216.92 L1319.5,1217.17 L1320.0,1217.28 L1320.5,1217.12 L1321.0,1217.33 L1321.5,1217.63 L1322.0,1217.47 L1322.5,1217.45 L1323.0,1217.62 L1323.5,1217.82 L1324.0,1217.59 L1324.5,1217.64 L1325.0,1217.70 L1325.5,1217.78 L1326.0,1217.94 L1326.5,1217.87 L1327.0,1217.60 L1327.5,1217.94 L1328.0,1217.96 L1328.5,1218.01 L1329.0,1217.99 L1329.5,1217.96 L1330.0,1218.04 L1330.5,1217.91 L1331.0,1217.80 L1331.5,1217.96 L1332.0,1217.87 L1332.5,1218.20 L1333.0,1217.97 L1333.5,1218.16 L1334.0,1217.79 L1334.5,1217.78 L1335.0,1217.95 L1335.5,1217.66 L1336.0,1217.74 L1336.5,1217.53 L1337.0,1217.76 L1337.5,1217.43 L1338.0,1217.54 L1338.5,1217.25 L1339.0,1217.42 L1339.5,1217.37 L1340.0,1217.12 L1340.5,1216.83 L1341.0,1216.81 L1341.5,1216.68 L1342.0,1216.41 L1342.5,1216.20 L1343.0,1215.97 L1343.5,1215.41 L1344.0,1214.94 L1344.5,1214.41 L1345.0,1213.93 L1345.5,1213.26 L1346.0,1212.46 L1346.5,1211.69 L1347.0,1210.86 L1347.5,1209.33 L1348.0,1208.00 L1348.5,1206.47 L1349.0,1204.69 L1349.5,1203.14 L1350.0,1201.21 L1350.5,1199.69 L1351.0,1198.20 L1351.5,1197.81 L1352.0,1197.77 L1352.5,1198.34 L1353.0,1199.88 L1353.5,1201.50 L1354.0,1203.16 L1354.5,1204.92 L1355.0,1206.38 L1355.5,1208.07 L1356.0,1209.20 L1356.5,1210.39 L1357.0,1211.35 L1357.5,1212.14 L1358.0,1212.67 L1358.5,1213.37 L1359.0,1213.83 L1359.5,1214.37 L1360.0,1214.48 L1360.5,1214.97 L1361.0,1215.15 L1361.5,1215.29 L1362.0,1215.67 L1362.5,1215.66 L1363.0,1215.59 L1363.5,1215.76 L1364.0,1215.68 L1364.5,1215.65 L1365.0,1215.73 L1365.5,1215.71 L1366.0,1215.93 L1366.5,1215.76 L1367.0,1215.30 L1367.5,1215.47 L1368.0,1215.28 L1368.5,1215.21 L1369.0,1215.08 L1369.5,1214.88 L1370.0,1214.71 L1370.5,1214.33 L1371.0,1214.32 L1371.5,1213.83 L1372.0,1213.65 L1372.5,1213.11 L1373.0,1212.76 L1373.5,1212.10 L1374.0,1211.81 L1374.5,1211.11 L1375.0,1210.35 L1375.5,1209.68 L1376.0,1208.82 L1376.5,1207.59 L1377.0,1206.56 L1377.5,1205.25 L1378.0,1204.00 L1378.5,1202.23 L1379.0,1200.16 L1379.5,1197.89 L1380.0,1195.33 L1380.5,1191.99 L1381.0,1188.67 L1381.5,1184.72 L1382.0,1179.55 L1382.5,1174.08 L1383.0,1167.90 L1383.5,1161.32 L1384.0,1154.11 L1384.5,1147.54 L1385.0,1141.26 L1385.5,1136.89 L1386.0,1134.89 L1386.5,1135.94 L1387.0,1139.44 L1387.5,1144.79 L1388.0,1151.57 L1388.5,1158.63 L1389.0,1165.46 L1389.5,1171.86 L1390.0,1177.58 L1390.5,1182.76 L1391.0,1187.11 L1391.5,1191.13 L1392.0,1194.32 L1392.5,1197.02 L1393.0,1199.41 L1393.5,1201.59 L1394.0,1203.47 L1394.5,1204.94 L1395.0,1206.40 L1395.5,1207.42 L1396.0,1208.55 L1396.5,1209.52 L1397.0,1210.29 L1397.5,1211.04 L1398.0,1211.76 L1398.5,1212.22 L1399.0,1212.85 L1399.5,1213.14 L1400.0,1213.68 L1400.5,1213.95 L1401.0,1214.30 L1401.5,1214.73 L1402.0,1215.09 L1402.5,1215.18 L1403.0,1215.44 L1403.5,1215.80 L1404.0,1215.74 L1404.5,1216.12 L1405.0,1216.04 L1405.5,1216.10 L1406.0,1216.50 L1406.5,1216.55 L1407.0,1216.63 L1407.5,1216.51 L1408.0,1216.93 L1408.5,1216.91 L1409.0,1216.90 L1409.5,1217.09 L1410.0,1217.02 L1410.5,1217.12 L1411.0,1217.16 L1411.5,1217.41 L1412.0,1217.31 L1412.5,1217.50 L1413.0,1217.26 L1413.5,1217.23 L1414.0,1217.58 L1414.5,1217.20 L1415.0,1217.50 L1415.5,1217.20 L1416.0,1217.40 L1416.5,1217.19 L1417.0,1217.41 L1417.5,1217.42 L1418.0,1217.24 L1418.5,1217.09 L1419.0,1216.92 L1419.5,1216.96 L1420.0,1217.01 L1420.5,1216.58 L1421.0,1216.36 L1421.5,1216.55 L1422.0,1216.13 L1422.5,1216.04 L1423.0,1215.74 L1423.5,1215.48 L1424.0,1215.12 L1424.5,1214.79 L1425.0,1214.22 L1425.5,1213.90 L1426.0,1213.35 L1426.5,1213.00 L1427.0,1212.12 L1427.5,1211.35 L1428.0,1210.18 L1428.5,1209.24 L1429.0,1208.05 L1429.5,1206.24 L1430.0,1204.32 L1430.5,1201.73 L1431.0,1198.67 L1431.5,1195.10 L1432.0,1190.26 L1432.5,1184.41 L1433.0,1177.46 L1433.5,1169.09 L1434.0,1160.06 L1434.5,1151.07 L1435.0,1144.01 L1435.5,1141.66 L1436.0,1144.00 L1436.5,1150.95 L1437.0,1159.92 L1437.5,1168.97 L1438.0,1177.28 L1438.5,1184.47 L1439.0,1190.10 L1439.5,1194.64 L1440.0,1198.70 L1440.5,1201.60 L1441.0,1203.98 L1441.5,1205.93 L1442.0,1207.63 L1442.5,1208.85 L1443.0,1210.04 L1443.5,1210.88 L1444.0,1211.45 L1444.5,1212.05 L1445.0,1211.87 L1445.5,1211.01 L1446.0,1209.58 L1446.5,1207.44 L1447.0,1205.93 L1447.5,1205.45 L1448.0,1206.66 L1448.5,1208.72 L1449.0,1211.16 L1449.5,1213.06 L1450.0,1214.52 L1450.5,1214.95 L1451.0,1215.22 L1451.5,1215.31 L1452.0,1215.47 L1452.5,1215.35 L1453.0,1215.28 L1453.5,1215.27 L1454.0,1215.27 L1454.5,1215.00 L1455.0,1215.04 L1455.5,1214.90 L1456.0,1214.95 L1456.5,1214.59 L1457.0,1214.21 L1457.5,1214.17 L1458.0,1213.91 L1458.5,1213.45 L1459.0,1212.93 L1459.5,1213.04 L1460.0,1212.55 L1460.5,1212.08 L1461.0,1211.69 L1461.5,1211.37 L1462.0,1210.89 L1462.5,1210.05 L1463.0,1209.66 L1463.5,1208.80 L1464.0,1208.09 L1464.5,1207.32 L1465.0,1206.53 L1465.5,1205.70 L1466.0,1204.80 L1466.5,1204.05 L1467.0,1203.12 L1467.5,1202.53 L1468.0,1201.69 L1468.5,1201.21 L1469.0,1200.65 L1469.5,1200.09 L1470.0,1200.24 L1470.5,1200.08 L1471.0,1200.13 L1471.5,1200.32 L1472.0,1200.91 L1472.5,1201.09 L1473.0,1201.71 L1473.5,1202.13 L1474.0,1202.46 L1474.5,1203.20 L1475.0,1203.39 L1475.5,1204.03 L1476.0,1204.37 L1476.5,1204.61 L1477.0,1204.68 L1477.5,1205.03 L1478.0,1205.07 L1478.5,1204.64 L1479.0,1204.49 L1479.5,1204.39 L1480.0,1203.68 L1480.5,1203.25 L1481.0,1202.27 L1481.5,1201.41 L1482.0,1200.43 L1482.5,1199.19 L1483.0,1197.50 L1483.5,1195.87 L1484.0,1194.18 L1484.5,1192.19 L1485.0,1189.84 L1485.5,1187.45 L1486.0,1185.04 L1486.5,1182.52 L1487.0,1180.61 L1487.5,1178.98 L1488.0,1177.82 L1488.5,1177.18 L1489.0,1177.54 L1489.5,1178.85 L1490.0,1180.25 L1490.5,1182.45 L1491.0,1185.24 L1491.5,1187.56 L1492.0,1190.21 L1492.5,1192.93 L1493.0,1195.35 L1493.5,1197.46 L1494.0,1199.34 L1494.5,1201.28 L1495.0,1203.01 L1495.5,1204.36 L1496.0,1205.67 L1496.5,1207.11 L1497.0,1208.07 L1497.5,1209.04 L1498.0,1209.89 L1498.5,1210.40 L1499.0,1211.25 L1499.5,1211.93 L1500.0,1212.41 L1500.5,1212.67 L1501.0,1213.05 L1501.5,1213.53 L1502.0,1214.05 L1502.5,1214.27 L1503.0,1214.61 L1503.5,1214.68 L1504.0,1215.16 L1504.5,1215.18 L1505.0,1215.58 L1505.5,1215.60 L1506.0,1215.38 L1506.5,1215.84 L1507.0,1215.85 L1507.5,1215.94 L1508.0,1216.08 L1508.5,1216.28 L1509.0,1216.27 L1509.5,1216.35 L1510.0,1216.17 L1510.5,1215.91 L1511.0,1216.01 L1511.5,1215.88 L1512.0,1215.80 L1512.5,1216.07 L1513.0,1215.68 L1513.5,1215.26 L1514.0,1215.28 L1514.5,1214.81 L1515.0,1214.34 L1515.5,1214.24 L1516.0,1213.56 L1516.5,1213.08 L1517.0,1212.69 L1517.5,1211.53 L1518.0,1210.89 L1518.5,1209.70 L1519.0,1208.40 L1519.5,1207.12 L1520.0,1205.60 L1520.5,1203.83 L1521.0,1201.69 L1521.5,1199.93 L1522.0,1197.69 L1522.5,1195.95 L1523.0,1194.43 L1523.5,1193.40 L1524.0,1193.33 L1524.5,1193.72 L1525.0,1194.91 L1525.5,1196.57 L1526.0,1198.52 L1526.5,1200.75 L1527.0,1202.62 L1527.5,1204.74 L1528.0,1206.45 L1528.5,1208.23 L1529.0,1209.23 L1529.5,1210.67 L1530.0,1211.57 L1530.5,1212.42 L1531.0,1213.04 L1531.5,1213.64 L1532.0,1214.23 L1532.5,1214.72 L1533.0,1215.18 L1533.5,1215.37 L1534.0,1215.88 L1534.5,1216.11 L1535.0,1215.79 L1535.5,1216.23 L1536.0,1216.29 L1536.5,1216.24 L1537.0,1216.05 L1537.5,1216.15 L1538.0,1216.29 L1538.5,1216.31 L1539.0,1216.16 L1539.5,1216.02 L1540.0,1215.74 L1540.5,1215.65 L1541.0,1215.32 L1541.5,1215.08 L1542.0,1214.57 L1542.5,1214.11 L1543.0,1213.55 L1543.5,1213.42 L1544.0,1212.61 L1544.5,1211.97 L1545.0,1211.20 L1545.5,1210.86 L1546.0,1209.95 L1546.5,1209.44 L1547.0,1208.81 L1547.5,1208.34 L1548.0,1207.56 L1548.5,1206.99 L1549.0,1207.05 L1549.5,1206.85 L1550.0,1206.78 L1550.5,1207.04 L1551.0,1207.61 L1551.5,1207.85 L1552.0,1208.31 L1552.5,1208.99 L1553.0,1209.71 L1553.5,1210.33 L1554.0,1210.97 L1554.5,1211.58 L1555.0,1211.97 L1555.5,1212.72 L1556.0,1213.25 L1556.5,1213.64 L1557.0,1213.94 L1557.5,1214.28 L1558.0,1214.60 L1558.5,1214.83 L1559.0,1214.83 L1559.5,1215.19 L1560.0,1215.49 L1560.5,1215.39 L1561.0,1215.43 L1561.5,1215.60 L1562.0,1215.54 L1562.5,1215.42 L1563.0,1215.47 L1563.5,1215.57 L1564.0,1215.47 L1564.5,1215.13 L1565.0,1214.92 L1565.5,1214.89 L1566.0,1214.57 L1566.5,1214.33 L1567.0,1213.97 L1567.5,1213.51 L1568.0,1213.14 L1568.5,1212.93 L1569.0,1212.40 L1569.5,1212.18 L1570.0,1211.72 L1570.5,1211.28 L1571.0,1210.58 L1571.5,1210.23 L1572.0,1209.56 L1572.5,1208.85 L1573.0,1208.28 L1573.5,1207.50 L1574.0,1206.57 L1574.5,1206.49 L1575.0,1205.86 L1575.5,1205.48 L1576.0,1204.87 L1576.5,1204.40 L1577.0,1204.04 L1577.5,1203.79 L1578.0,1203.74 L1578.5,1203.43 L1579.0,1203.51 L1579.5,1203.81 L1580.0,1203.58 L1580.5,1203.78 L1581.0,1204.06 L1581.5,1204.24 L1582.0,1204.43 L1582.5,1204.62 L1583.0,1204.59 L1583.5,1204.60 L1584.0,1204.34 L1584.5,1204.20 L1585.0,1203.78 L1585.5,1203.39 L1586.0,1202.87 L1586.5,1202.12 L1587.0,1200.93 L1587.5,1199.98 L1588.0,1199.19 L1588.5,1197.48 L1589.0,1196.51 L1589.5,1195.25 L1590.0,1194.48 L1590.5,1193.92 L1591.0,1193.93 L1591.5,1194.20 L1592.0,1195.33 L1592.5,1196.70 L1593.0,1197.62 L1593.5,1199.40 L1594.0,1200.93 L1594.5,1202.67 L1595.0,1204.27 L1595.5,1205.59 L1596.0,1206.76 L1596.5,1207.68 L1597.0,1208.52 L1597.5,1209.53 L1598.0,1210.03 L1598.5,1210.63 L1599.0,1211.27 L1599.5,1211.58 L1600.0,1212.11 L1600.5,1212.36 L1601.0,1212.77 L1601.5,1213.11 L1602.0,1213.12 L1602.5,1213.39 L1603.0,1213.55 L1603.5,1213.39 L1604.0,1213.48 L1604.5,1213.41 L1605.0,1213.58 L1605.5,1213.18 L1606.0,1213.09 L1606.5,1212.73 L1607.0,1212.62 L1607.5,1212.69 L1608.0,1212.56 L1608.5,1212.77 L1609.0,1212.89 L1609.5,1213.50 L1610.0,1213.54 L1610.5,1214.10 L1611.0,1214.32 L1611.5,1214.76 L1612.0,1215.01 L1612.5,1215.85 L1613.0,1215.59 L1613.5,1216.12 L1614.0,1216.29 L1614.5,1216.65 L1615.0,1216.67 L1615.5,1217.13 L1616.0,1217.18 L1616.5,1217.23 L1617.0,1217.33 L1617.5,1217.49 L1618.0,1217.50 L1618.5,1217.70 L1619.0,1217.67 L1619.5,1217.60 L1620.0,1217.68 L1620.5,1217.67 L1621.0,1217.79 L1621.5,1217.60 L1622.0,1217.62 L1622.5,1217.42 L1623.0,1217.60 L1623.5,1217.48 L1624.0,1217.28 L1624.5,1217.46 L1625.0,1217.13 L1625.5,1216.85 L1626.0,1216.95 L1626.5,1216.60 L1627.0,1216.03 L1627.5,1216.19 L1628.0,1215.87 L1628.5,1215.56 L1629.0,1215.17 L1629.5,1214.70 L1630.0,1214.37 L1630.5,1213.65 L1631.0,1213.28 L1631.5,1212.79 L1632.0,1212.13 L1632.5,1211.19 L1633.0,1210.65 L1633.5,1209.54 L1634.0,1208.44 L1634.5,1207.41 L1635.0,1206.11 L1635.5,1205.00 L1636.0,1203.40 L1636.5,1201.96 L1637.0,1200.36 L1637.5,1198.82 L1638.0,1197.30 L1638.5,1196.00 L1639.0,1194.33 L1639.5,1193.12 L1640.0,1191.88 L1640.5,1191.16 L1641.0,1190.42 L1641.5,1190.27 L1642.0,1190.86 L1642.5,1191.28 L1643.0,1191.97 L1643.5,1193.43 L1644.0,1194.74 L1644.5,1196.29 L1645.0,1198.07 L1645.5,1199.51 L1646.0,1201.47 L1646.5,1202.97 L1647.0,1204.44 L1647.5,1205.80 L1648.0,1207.55 L1648.5,1208.56 L1649.0,1209.61 L1649.5,1210.84 L1650.0,1211.89 L1650.5,1212.81 L1651.0,1213.73 L1651.5,1214.36 L1652.0,1214.96 L1652.5,1215.84 L1653.0,1216.37 L1653.5,1216.49 L1654.0,1217.19 L1654.5,1217.41 L1655.0,1218.03 L1655.5,1218.06 L1656.0,1218.50 L1656.5,1218.91 L1657.0,1218.98 L1657.5,1219.27 L1658.0,1219.22 L1658.5,1219.29 L1659.0,1219.41 L1659.5,1219.72 L1660.0,1219.63 L1660.5,1219.93 L1661.0,1219.72 L1661.5,1219.92 L1662.0,1219.76 L1662.5,1219.53 L1663.0,1219.59 L1663.5,1219.53 L1664.0,1219.39 L1664.5,1219.14 L1665.0,1219.09 L1665.5,1218.84 L1666.0,1218.56 L1666.5,1218.05 L1667.0,1217.54 L1667.5,1217.48 L1668.0,1216.88 L1668.5,1216.44 L1669.0,1215.97 L1669.5,1215.49 L1670.0,1214.66 L1670.5,1214.24 L1671.0,1213.81 L1671.5,1212.85 L1672.0,1212.40 L1672.5,1212.08 L1673.0,1211.54 L1673.5,1211.15 L1674.0,1210.85 L1674.5,1210.56 L1675.0,1210.79 L1675.5,1210.84 L1676.0,1211.29 L1676.5,1211.61 L1677.0,1212.08 L1677.5,1212.79 L1678.0,1213.53 L1678.5,1213.96 L1679.0,1214.66 L1679.5,1215.32 L1680.0,1215.87 L1680.5,1216.19 L1681.0,1216.77 L1681.5,1217.34 L1682.0,1217.72 L1682.5,1218.31 L1683.0,1218.51 L1683.5,1218.63 L1684.0,1219.10 L1684.5,1219.39 L1685.0,1219.55 L1685.5,1219.72 L1686.0,1219.65 L1686.5,1219.95 L1687.0,1220.15 L1687.5,1220.13 L1688.0,1220.21 L1688.5,1220.37 L1689.0,1220.28 L1689.5,1220.28 L1690.0,1220.38 L1690.5,1220.39 L1691.0,1220.49 L1691.5,1220.33 L1692.0,1220.17 L1692.5,1220.31 L1693.0,1220.08 L1693.5,1220.18 L1694.0,1219.92 L1694.5,1219.95 L1695.0,1219.79 L1695.5,1219.59 L1696.0,1219.31 L1696.5,1219.24 L1697.0,1219.28 L1697.5,1218.94 L1698.0,1218.85 L1698.5,1218.50 L1699.0,1218.26 L1699.5,1217.91 L1700.0,1217.83 L1700.5,1217.43 L1701.0,1217.19 L1701.5,1217.17 L1702.0,1216.69 L1702.5,1216.86 L1703.0,1216.38 L1703.5,1216.13 L1704.0,1216.20 L1704.5,1215.79 L1705.0,1215.84 L1705.5,1215.78 L1706.0,1215.88 L1706.5,1216.00 L1707.0,1215.91 L1707.5,1215.82 L1708.0,1215.96 L1708.5,1216.24 L1709.0,1216.59 L1709.5,1216.73 L1710.0,1216.99 L1710.5,1217.17 L1711.0,1217.62 L1711.5,1217.58 L1712.0,1218.20 L1712.5,1218.37 L1713.0,1218.55 L1713.5,1218.70 L1714.0,1218.90 L1714.5,1219.15 L1715.0,1219.29 L1715.5,1219.50 L1716.0,1219.63 L1716.5,1219.98 L1717.0,1220.06 L1717.5,1220.24 L1718.0,1220.23 L1718.5,1220.29 L1719.0,1220.44 L1719.5,1220.67 L1720.0,1220.59 L1720.5,1220.88 L1721.0,1220.76 L1721.5,1220.87 L1722.0,1221.00 L1722.5,1220.86 L1723.0,1220.78 L1723.5,1221.18 L1724.0,1221.02 L1724.5,1220.95 L1725.0,1221.20 L1725.5,1221.23 L1726.0,1220.93 L1726.5,1220.90 L1727.0,1221.10 L1727.5,1220.61 L1728.0,1220.72 L1728.5,1220.56 L1729.0,1220.21 L1729.5,1219.98 L1730.0,1219.80 L1730.5,1219.66 L1731.0,1219.41 L1731.5,1219.36 L1732.0,1218.56 L1732.5,1218.30 L1733.0,1217.72 L1733.5,1217.40 L1734.0,1216.77 L1734.5,1215.93 L1735.0,1215.36 L1735.5,1214.71 L1736.0,1214.08 L1736.5,1213.37 L1737.0,1212.76 L1737.5,1212.18 L1738.0,1211.92 L1738.5,1211.72 L1739.0,1211.92 L1739.5,1212.17 L1740.0,1212.48 L1740.5,1213.20 L1741.0,1213.83 L1741.5,1214.66 L1742.0,1215.50 L1742.5,1216.18 L1743.0,1216.85 L1743.5,1217.43 L1744.0,1218.27 L1744.5,1218.62 L1745.0,1218.98 L1745.5,1219.47 L1746.0,1220.03 L1746.5,1220.50 L1747.0,1220.72 L1747.5,1220.80 L1748.0,1221.19 L1748.5,1221.11 L1749.0,1221.61 L1749.5,1221.67 L1750.0,1221.89 L1750.5,1221.86 L1751.0,1222.19 L1751.5,1222.12 L1752.0,1222.19 L1752.5,1222.67 L1753.0,1222.44 L1753.5,1222.78 L1754.0,1222.69 L1754.5,1222.82 L1755.0,1222.90 L1755.5,1223.10 L1756.0,1223.08 L1756.5,1222.98 L1757.0,1223.07 L1757.5,1223.34 L1758.0,1223.39 L1758.5,1223.22 L1759.0,1223.42 L1759.5,1223.34 L1760.0,1223.51 L1760.5,1223.30 L1761.0,1223.55 L1761.5,1223.42 L1762.0,1223.36 L1762.5,1223.62 L1763.0,1223.64 L1763.5,1223.42 L1764.0,1223.34 L1764.5,1223.63 L1765.0,1223.72 L1765.5,1223.62 L1766.0,1223.71 L1766.5,1223.67 L1767.0,1223.67 L1767.5,1223.80 L1768.0,1223.92 L1768.5,1223.85 L1769.0,1223.77 L1769.5,1223.74 L1770.0,1223.86 L1770.5,1223.58 L1771.0,1223.88 L1771.5,1223.86 L1772.0,1223.88 L1772.5,1223.87 L1773.0,1223.89 L1773.5,1223.75 L1774.0,1224.01 L1774.5,1223.91 L1775.0,1223.96 L1775.5,1223.90 L1776.0,1223.80 L1776.5,1224.06 L1777.0,1223.97 L1777.5,1223.97" fill="none" stroke="#000" stroke-width="3.3" stroke-dasharray="6 2.5" stroke-linejoin="round"/>
<g transform="scale(1,1.120)">
<path d="M207.5,343.03 L208.0,343.09 L208.5,343.14 L209.0,343.20 L209.5,343.25 L210.0,343.31 L210.5,343.36 L211.0,343.42 L211.5,343.48 L212.0,343.53 L212.5,343.59 L213.0,343.64 L213.5,343.70 L214.0,343.75 L214.5,343.81 L215.0,343.86 L215.5,343.92 L216.0,343.98 L216.5,344.03 L217.0,344.09 L217.5,344.14 L218.0,344.20 L218.5,344.25 L219.0,344.31 L219.5,344.36 L220.0,344.42 L220.5,344.48 L221.0,344.53 L221.5,344.59 L222.0,344.64 L222.5,344.70 L223.0,344.75 L223.5,344.81 L224.0,344.87 L224.5,344.92 L225.0,344.98 L225.5,345.03 L226.0,345.09 L226.5,345.14 L227.0,345.20 L227.5,345.26 L228.0,345.31 L228.5,345.37 L229.0,345.42 L229.5,345.48 L230.0,345.53 L230.5,345.59 L231.0,345.65 L231.5,345.70 L232.0,345.76 L232.5,345.81 L233.0,345.87 L233.5,345.92 L234.0,345.98 L234.5,346.04 L235.0,346.09 L235.5,346.15 L236.0,346.20 L236.5,346.26 L237.0,346.31 L237.5,346.37 L238.0,346.43 L238.5,346.48 L239.0,346.54 L239.5,346.59 L240.0,346.65 L240.5,346.71 L241.0,346.76 L241.5,346.82 L242.0,346.87 L242.5,346.93 L243.0,346.98 L243.5,347.04 L244.0,347.10 L244.5,347.15 L245.0,347.21 L245.5,347.26 L246.0,347.32 L246.5,347.38 L247.0,347.43 L247.5,347.49 L248.0,347.54 L248.5,347.60 L249.0,347.66 L249.5,347.71 L250.0,347.77 L250.5,347.82 L251.0,347.88 L251.5,347.94 L252.0,347.99 L252.5,348.05 L253.0,348.10 L253.5,348.16 L254.0,348.22 L254.5,348.27 L255.0,348.33 L255.5,348.38 L256.0,348.44 L256.5,348.50 L257.0,348.55 L257.5,348.61 L258.0,348.66 L258.5,348.72 L259.0,348.78 L259.5,348.83 L260.0,348.89 L260.5,348.94 L261.0,349.00 L261.5,349.06 L262.0,349.11 L262.5,349.17 L263.0,349.22 L263.5,349.28 L264.0,349.34 L264.5,349.39 L265.0,349.45 L265.5,349.50 L266.0,349.56 L266.5,349.62 L267.0,349.67 L267.5,349.73 L268.0,349.79 L268.5,349.84 L269.0,349.90 L269.5,349.95 L270.0,350.01 L270.5,350.07 L271.0,350.12 L271.5,350.18 L272.0,350.24 L272.5,350.29 L273.0,350.35 L273.5,350.41 L274.0,350.46 L274.5,350.52 L275.0,350.57 L275.5,350.63 L276.0,350.69 L276.5,350.74 L277.0,350.80 L277.5,350.86 L278.0,350.91 L278.5,350.97 L279.0,351.03 L279.5,351.08 L280.0,351.14 L280.5,351.19 L281.0,351.25 L281.5,351.31 L282.0,351.36 L282.5,351.42 L283.0,351.48 L283.5,351.53 L284.0,351.59 L284.5,351.65 L285.0,351.70 L285.5,351.76 L286.0,351.82 L286.5,351.87 L287.0,351.93 L287.5,351.98 L288.0,352.04 L288.5,352.10 L289.0,352.15 L289.5,352.21 L290.0,352.27 L290.5,352.32 L291.0,352.38 L291.5,352.44 L292.0,352.49 L292.5,352.55 L293.0,352.60 L293.5,352.66 L294.0,352.72 L294.5,352.77 L295.0,352.83 L295.5,352.89 L296.0,352.94 L296.5,353.00 L297.0,353.05 L297.5,353.11 L298.0,353.17 L298.5,353.22 L299.0,353.28 L299.5,353.34 L300.0,353.39 L300.5,353.45 L301.0,353.50 L301.5,353.56 L302.0,353.62 L302.5,353.67 L303.0,353.73 L303.5,353.78 L304.0,353.84 L304.5,353.90 L305.0,353.95 L305.5,354.01 L306.0,354.06 L306.5,354.12 L307.0,354.18 L307.5,354.23 L308.0,354.29 L308.5,354.34 L309.0,354.40 L309.5,354.46 L310.0,354.51 L310.5,354.57 L311.0,354.62 L311.5,354.68 L312.0,354.73 L312.5,354.79 L313.0,354.85 L313.5,354.90 L314.0,354.96 L314.5,355.01 L315.0,355.07 L315.5,355.12 L316.0,355.18 L316.5,355.23 L317.0,355.29 L317.5,355.34 L318.0,355.40 L318.5,355.45 L319.0,355.51 L319.5,355.56 L320.0,355.62 L320.5,355.68 L321.0,355.73 L321.5,355.79 L322.0,355.84 L322.5,355.90 L323.0,355.95 L323.5,356.00 L324.0,356.06 L324.5,356.11 L325.0,356.17 L325.5,356.22 L326.0,356.28 L326.5,356.33 L327.0,356.39 L327.5,356.44 L328.0,356.50 L328.5,356.55 L329.0,356.61 L329.5,356.66 L330.0,356.71 L330.5,356.77 L331.0,356.82 L331.5,356.88 L332.0,356.93 L332.5,356.99 L333.0,357.04 L333.5,357.10 L334.0,357.15 L334.5,357.21 L335.0,357.26 L335.5,357.32 L336.0,357.37 L336.5,357.43 L337.0,357.48 L337.5,357.54 L338.0,357.59 L338.5,357.65 L339.0,357.70 L339.5,357.76 L340.0,357.82 L340.5,357.87 L341.0,357.93 L341.5,357.98 L342.0,358.04 L342.5,358.09 L343.0,358.15 L343.5,358.21 L344.0,358.26 L344.5,358.32 L345.0,358.37 L345.5,358.43 L346.0,358.48 L346.5,358.54 L347.0,358.60 L347.5,358.65 L348.0,358.71 L348.5,358.76 L349.0,358.82 L349.5,358.87 L350.0,358.93 L350.5,358.99 L351.0,359.04 L351.5,359.10 L352.0,359.15 L352.5,359.21 L353.0,359.26 L353.5,359.32 L354.0,359.38 L354.5,359.43 L355.0,359.49 L355.5,359.54 L356.0,359.60 L356.5,359.65 L357.0,359.71 L357.5,359.76 L358.0,359.82 L358.5,359.87 L359.0,359.93 L359.5,359.98 L360.0,360.04 L360.5,360.09 L361.0,360.15 L361.5,360.20 L362.0,360.26 L362.5,360.31 L363.0,360.36 L363.5,360.42 L364.0,360.47 L364.5,360.53 L365.0,360.58 L365.5,360.63 L366.0,360.69 L366.5,360.74 L367.0,360.79 L367.5,360.85 L368.0,360.90 L368.5,360.95 L369.0,361.01 L369.5,361.06 L370.0,361.11 L370.5,361.16 L371.0,361.21 L371.5,361.27 L372.0,361.32 L372.5,361.37 L373.0,361.42 L373.5,361.47 L374.0,361.53 L374.5,361.58 L375.0,361.63 L375.5,361.68 L376.0,361.73 L376.5,361.78 L377.0,361.83 L377.5,361.88 L378.0,361.93 L378.5,361.98 L379.0,362.03 L379.5,362.08 L380.0,362.13 L380.5,362.17 L381.0,362.22 L381.5,362.27 L382.0,362.32 L382.5,362.37 L383.0,362.42 L383.5,362.46 L384.0,362.51 L384.5,362.56 L385.0,362.60 L385.5,362.65 L386.0,362.70 L386.5,362.74 L387.0,362.79 L387.5,362.83 L388.0,362.88 L388.5,362.92 L389.0,362.97 L389.5,363.01 L390.0,363.06 L390.5,363.10 L391.0,363.15 L391.5,363.19 L392.0,363.23 L392.5,363.27 L393.0,363.32 L393.5,363.36 L394.0,363.40 L394.5,363.44 L395.0,363.48 L395.5,363.52 L396.0,363.56 L396.5,363.61 L397.0,363.64 L397.5,363.68 L398.0,363.72 L398.5,363.76 L399.0,363.80 L399.5,363.84 L400.0,363.88 L400.5,363.92 L401.0,363.95 L401.5,363.99 L402.0,364.03 L402.5,364.07 L403.0,364.11 L403.5,364.16 L404.0,364.20 L404.5,364.24 L405.0,364.28 L405.5,364.32 L406.0,364.37 L406.5,364.41 L407.0,364.45 L407.5,364.50 L408.0,364.54 L408.5,364.59 L409.0,364.63 L409.5,364.67 L410.0,364.72 L410.5,364.76 L411.0,364.80 L411.5,364.85 L412.0,364.89 L412.5,364.94 L413.0,364.98 L413.5,365.02 L414.0,365.06 L414.5,365.11 L415.0,365.15 L415.5,365.19 L416.0,365.23 L416.5,365.27 L417.0,365.31 L417.5,365.35 L418.0,365.39 L418.5,365.42 L419.0,365.46 L419.5,365.50 L420.0,365.53 L420.5,365.57 L421.0,365.60 L421.5,365.63 L422.0,365.66 L422.5,365.70 L423.0,365.73 L423.5,365.75 L424.0,365.78 L424.5,365.81 L425.0,365.83 L425.5,365.86 L426.0,365.88 L426.5,365.90 L427.0,365.92 L427.5,365.94 L428.0,365.96 L428.5,365.97 L429.0,365.99 L429.5,366.00 L430.0,366.01 L430.5,366.02 L431.0,366.03 L431.5,366.03 L432.0,366.03 L432.5,366.04 L433.0,366.04 L433.5,366.03 L434.0,366.03 L434.5,366.02 L435.0,366.01 L435.5,366.00 L436.0,365.99 L436.5,365.97 L437.0,365.96 L437.5,365.94 L438.0,365.91 L438.5,365.89 L439.0,365.86 L439.5,365.83 L440.0,365.79 L440.5,365.76 L441.0,365.72 L441.5,365.68 L442.0,365.64 L442.5,365.60 L443.0,365.55 L443.5,365.50 L444.0,365.45 L444.5,365.40 L445.0,365.35 L445.5,365.29 L446.0,365.23 L446.5,365.17 L447.0,365.11 L447.5,365.04 L448.0,364.98 L448.5,364.90 L449.0,364.83 L449.5,364.75 L450.0,364.67 L450.5,364.59 L451.0,364.50 L451.5,364.41 L452.0,364.31 L452.5,364.21 L453.0,364.10 L453.5,363.99 L454.0,363.87 L454.5,363.75 L455.0,363.62 L455.5,363.49 L456.0,363.34 L456.5,363.19 L457.0,363.03 L457.5,362.85 L458.0,362.67 L458.5,362.47 L459.0,362.26 L459.5,362.03 L460.0,361.79 L460.5,361.52 L461.0,361.23 L461.5,360.92 L462.0,360.58 L462.5,360.21 L463.0,359.80 L463.5,359.34 L464.0,358.84 L464.5,358.29 L465.0,357.67 L465.5,356.99 L466.0,356.22 L466.5,355.37 L467.0,354.42 L467.5,353.36 L468.0,352.18 L468.5,350.88 L469.0,349.47 L469.5,347.96 L470.0,346.38 L470.5,344.78 L471.0,343.24 L471.5,341.86 L472.0,340.74 L472.5,339.99 L473.0,339.69 L473.5,339.85 L474.0,340.46 L474.5,341.44 L475.0,342.69 L475.5,344.09 L476.0,345.55 L476.5,346.99 L477.0,348.37 L477.5,349.64 L478.0,350.80 L478.5,351.84 L479.0,352.76 L479.5,353.58 L480.0,354.30 L480.5,354.93 L481.0,355.47 L481.5,355.95 L482.0,356.37 L482.5,356.73 L483.0,357.05 L483.5,357.33 L484.0,357.56 L484.5,357.77 L485.0,357.95 L485.5,358.10 L486.0,358.23 L486.5,358.34 L487.0,358.43 L487.5,358.51 L488.0,358.58 L488.5,358.63 L489.0,358.67 L489.5,358.70 L490.0,358.72 L490.5,358.73 L491.0,358.74 L491.5,358.74 L492.0,358.73 L492.5,358.71 L493.0,358.69 L493.5,358.67 L494.0,358.64 L494.5,358.61 L495.0,358.57 L495.5,358.53 L496.0,358.49 L496.5,358.44 L497.0,358.39 L497.5,358.34 L498.0,358.28 L498.5,358.22 L499.0,358.16 L499.5,358.10 L500.0,358.03 L500.5,357.97 L501.0,357.90 L501.5,357.83 L502.0,357.76 L502.5,357.68 L503.0,357.61 L503.5,357.53 L504.0,357.45 L504.5,357.37 L505.0,357.29 L505.5,357.21 L506.0,357.12 L506.5,357.03 L507.0,356.94 L507.5,356.85 L508.0,356.76 L508.5,356.67 L509.0,356.57 L509.5,356.47 L510.0,356.37 L510.5,356.27 L511.0,356.16 L511.5,356.05 L512.0,355.94 L512.5,355.83 L513.0,355.71 L513.5,355.59 L514.0,355.47 L514.5,355.34 L515.0,355.21 L515.5,355.08 L516.0,354.94 L516.5,354.80 L517.0,354.65 L517.5,354.50 L518.0,354.34 L518.5,354.18 L519.0,354.02 L519.5,353.84 L520.0,353.66 L520.5,353.48 L521.0,353.28 L521.5,353.08 L522.0,352.87 L522.5,352.65 L523.0,352.43 L523.5,352.19 L524.0,351.94 L524.5,351.68 L525.0,351.41 L525.5,351.12 L526.0,350.83 L526.5,350.51 L527.0,350.18 L527.5,349.83 L528.0,349.47 L528.5,349.08 L529.0,348.67 L529.5,348.23 L530.0,347.78 L530.5,347.29 L531.0,346.77 L531.5,346.22 L532.0,345.63 L532.5,345.00 L533.0,344.33 L533.5,343.61 L534.0,342.84 L534.5,342.02 L535.0,341.13 L535.5,340.17 L536.0,339.14 L536.5,338.02 L537.0,336.82 L537.5,335.51 L538.0,334.09 L538.5,332.54 L539.0,330.86 L539.5,329.02 L540.0,327.01 L540.5,324.82 L541.0,322.41 L541.5,319.77 L542.0,316.87 L542.5,313.68 L543.0,310.18 L543.5,306.33 L544.0,302.09 L544.5,297.45 L545.0,292.36 L545.5,286.81 L546.0,280.77 L546.5,274.24 L547.0,267.23 L547.5,259.79 L548.0,251.99 L548.5,243.96 L549.0,235.91 L549.5,228.11 L550.0,220.96 L550.5,214.98 L551.0,210.76 L551.5,208.83 L552.0,209.47 L552.5,212.60 L553.0,217.80 L553.5,224.50 L554.0,232.12 L554.5,240.21 L555.0,248.42 L555.5,256.50 L556.0,264.29 L556.5,271.68 L557.0,278.62 L557.5,285.07 L558.0,291.02 L558.5,296.50 L559.0,301.52 L559.5,306.12 L560.0,310.31 L560.5,314.13 L561.0,317.62 L561.5,320.81 L562.0,323.73 L562.5,326.39 L563.0,328.84 L563.5,331.08 L564.0,333.14 L564.5,335.04 L565.0,336.80 L565.5,338.42 L566.0,339.92 L566.5,341.32 L567.0,342.61 L567.5,343.82 L568.0,344.96 L568.5,346.01 L569.0,347.01 L569.5,347.94 L570.0,348.82 L570.5,349.65 L571.0,350.43 L571.5,351.17 L572.0,351.87 L572.5,352.54 L573.0,353.18 L573.5,353.79 L574.0,354.37 L574.5,354.92 L575.0,355.45 L575.5,355.96 L576.0,356.45 L576.5,356.92 L577.0,357.38 L577.5,357.82 L578.0,358.24 L578.5,358.65 L579.0,359.04 L579.5,359.43 L580.0,359.80 L580.5,360.16 L581.0,360.51 L581.5,360.86 L582.0,361.19 L582.5,361.51 L583.0,361.83 L583.5,362.14 L584.0,362.44 L584.5,362.74 L585.0,363.03 L585.5,363.31 L586.0,363.59 L586.5,363.86 L587.0,364.12 L587.5,364.38 L588.0,364.64 L588.5,364.88 L589.0,365.13 L589.5,365.37 L590.0,365.60 L590.5,365.83 L591.0,366.06 L591.5,366.28 L592.0,366.49 L592.5,366.70 L593.0,366.91 L593.5,367.11 L594.0,367.30 L594.5,367.49 L595.0,367.67 L595.5,367.85 L596.0,368.02 L596.5,368.18 L597.0,368.34 L597.5,368.49 L598.0,368.63 L598.5,368.76 L599.0,368.89 L599.5,369.00 L600.0,369.10 L600.5,369.19 L601.0,369.26 L601.5,369.32 L602.0,369.36 L602.5,369.38 L603.0,369.38 L603.5,369.36 L604.0,369.31 L604.5,369.22 L605.0,369.10 L605.5,368.95 L606.0,368.74 L606.5,368.48 L607.0,368.16 L607.5,367.77 L608.0,367.30 L608.5,366.74 L609.0,366.07 L609.5,365.27 L610.0,364.33 L610.5,363.24 L611.0,361.97 L611.5,360.50 L612.0,358.83 L612.5,356.96 L613.0,354.89 L613.5,352.68 L614.0,350.42 L614.5,348.23 L615.0,346.31 L615.5,344.87 L616.0,344.12 L616.5,344.19 L617.0,345.12 L617.5,346.83 L618.0,349.15 L618.5,351.86 L619.0,354.75 L619.5,357.66 L620.0,360.47 L620.5,363.11 L621.0,365.55 L621.5,367.77 L622.0,369.79 L622.5,371.62 L623.0,373.28 L623.5,374.79 L624.0,376.16 L624.5,377.41 L625.0,378.57 L625.5,379.63 L626.0,380.62 L626.5,381.54 L627.0,382.40 L627.5,383.20 L628.0,383.96 L628.5,384.68 L629.0,385.35 L629.5,385.99 L630.0,386.60 L630.5,387.18 L631.0,387.75 L631.5,388.31 L632.0,388.87 L632.5,389.44 L633.0,390.03 L633.5,390.63 L634.0,391.24 L634.5,391.86 L635.0,392.48 L635.5,393.09 L636.0,393.69 L636.5,394.28 L637.0,394.85 L637.5,395.40 L638.0,395.95 L638.5,396.48 L639.0,396.99 L639.5,397.50 L640.0,397.99 L640.5,398.48 L641.0,398.96 L641.5,399.43 L642.0,399.89 L642.5,400.34 L643.0,400.78 L643.5,401.22 L644.0,401.64 L644.5,402.06 L645.0,402.47 L645.5,402.88 L646.0,403.27 L646.5,403.66 L647.0,404.04 L647.5,404.41 L648.0,404.77 L648.5,405.13 L649.0,405.47 L649.5,405.80 L650.0,406.13 L650.5,406.44 L651.0,406.75 L651.5,407.06 L652.0,407.36 L652.5,407.66 L653.0,407.94 L653.5,408.22 L654.0,408.50 L654.5,408.76 L655.0,409.02 L655.5,409.26 L656.0,409.50 L656.5,409.72 L657.0,409.93 L657.5,410.12 L658.0,410.29 L658.5,410.45 L659.0,410.58 L659.5,410.68 L660.0,410.75 L660.5,410.79 L661.0,410.78 L661.5,410.72 L662.0,410.61 L662.5,410.43 L663.0,410.17 L663.5,409.82 L664.0,409.36 L664.5,408.79 L665.0,408.09 L665.5,407.25 L666.0,406.29 L666.5,405.22 L667.0,404.10 L667.5,403.02 L668.0,402.11 L668.5,401.51 L669.0,401.35 L669.5,401.72 L670.0,402.59 L670.5,403.89 L671.0,405.48 L671.5,407.20 L672.0,408.94 L672.5,410.61 L673.0,412.18 L673.5,413.61 L674.0,414.91 L674.5,416.09 L675.0,417.14 L675.5,418.10 L676.0,418.97 L676.5,419.76 L677.0,420.49 L677.5,421.16 L678.0,421.79 L678.5,422.37 L679.0,422.92 L679.5,423.44 L680.0,423.93 L680.5,424.40 L681.0,424.85 L681.5,425.28 L682.0,425.70 L682.5,426.10 L683.0,426.50 L683.5,426.88 L684.0,427.25 L684.5,427.61 L685.0,427.97 L685.5,428.32 L686.0,428.66 L686.5,429.00 L687.0,429.33 L687.5,429.66 L688.0,429.98 L688.5,430.30 L689.0,430.61 L689.5,430.92 L690.0,431.23 L690.5,431.54 L691.0,431.84 L691.5,432.14 L692.0,432.43 L692.5,432.73 L693.0,433.02 L693.5,433.31 L694.0,433.59 L694.5,433.88 L695.0,434.16 L695.5,434.44 L696.0,434.72 L696.5,435.00 L697.0,435.27 L697.5,435.55 L698.0,435.82 L698.5,436.09 L699.0,436.36 L699.5,436.63 L700.0,436.89 L700.5,437.16 L701.0,437.42 L701.5,437.69 L702.0,437.95 L702.5,438.22 L703.0,438.48 L703.5,438.74 L704.0,439.01 L704.5,439.27 L705.0,439.53 L705.5,439.79 L706.0,440.05 L706.5,440.31 L707.0,440.57 L707.5,440.83 L708.0,441.09 L708.5,441.35 L709.0,441.61 L709.5,441.87 L710.0,442.13 L710.5,442.39 L711.0,442.64 L711.5,442.90 L712.0,443.15 L712.5,443.41 L713.0,443.66 L713.5,443.92 L714.0,444.17 L714.5,444.42 L715.0,444.67 L715.5,444.92 L716.0,445.17 L716.5,445.42 L717.0,445.67 L717.5,445.92 L718.0,446.16 L718.5,446.41 L719.0,446.65 L719.5,446.89 L720.0,447.14 L720.5,447.38 L721.0,447.62 L721.5,447.86 L722.0,448.09 L722.5,448.33 L723.0,448.57 L723.5,448.80 L724.0,449.03 L724.5,449.27 L725.0,449.50 L725.5,449.73 L726.0,449.95 L726.5,450.18 L727.0,450.40 L727.5,450.63 L728.0,450.85 L728.5,451.07 L729.0,451.29 L729.5,451.51 L730.0,451.72 L730.5,451.94 L731.0,452.15 L731.5,452.36 L732.0,452.57 L732.5,452.77 L733.0,452.98 L733.5,453.18 L734.0,453.38 L734.5,453.58 L735.0,453.78 L735.5,453.98 L736.0,454.17 L736.5,454.36 L737.0,454.55 L737.5,454.74 L738.0,454.93 L738.5,455.11 L739.0,455.29 L739.5,455.47 L740.0,455.64 L740.5,455.82 L741.0,455.99 L741.5,456.16 L742.0,456.33 L742.5,456.49 L743.0,456.65 L743.5,456.81 L744.0,456.97 L744.5,457.12 L745.0,457.27 L745.5,457.42 L746.0,457.57 L746.5,457.71 L747.0,457.85 L747.5,457.99 L748.0,458.12 L748.5,458.25 L749.0,458.38 L749.5,458.51 L750.0,458.63 L750.5,458.75 L751.0,458.87 L751.5,458.99 L752.0,459.10 L752.5,459.21 L753.0,459.33 L753.5,459.44 L754.0,459.55 L754.5,459.65 L755.0,459.76 L755.5,459.86 L756.0,459.97 L756.5,460.07 L757.0,460.17 L757.5,460.26 L758.0,460.36 L758.5,460.45 L759.0,460.55 L759.5,460.64 L760.0,460.72 L760.5,460.81 L761.0,460.89 L761.5,460.98 L762.0,461.06 L762.5,461.13 L763.0,461.21 L763.5,461.28 L764.0,461.35 L764.5,461.42 L765.0,461.49 L765.5,461.55 L766.0,461.61 L766.5,461.67 L767.0,461.73 L767.5,461.78 L768.0,461.84 L768.5,461.88 L769.0,461.93 L769.5,461.97 L770.0,462.01 L770.5,462.05 L771.0,462.08 L771.5,462.12 L772.0,462.14 L772.5,462.17 L773.0,462.19 L773.5,462.21 L774.0,462.22 L774.5,462.23 L775.0,462.24 L775.5,462.24 L776.0,462.24 L776.5,462.23 L777.0,462.22 L777.5,462.21 L778.0,462.19 L778.5,462.17 L779.0,462.14 L779.5,462.11 L780.0,462.07 L780.5,462.03 L781.0,461.98 L781.5,461.93 L782.0,461.87 L782.5,461.80 L783.0,461.73 L783.5,461.65 L784.0,461.57 L784.5,461.48 L785.0,461.38 L785.5,461.27 L786.0,461.16 L786.5,461.04 L787.0,460.91 L787.5,460.77 L788.0,460.62 L788.5,460.46 L789.0,460.30 L789.5,460.12 L790.0,459.93 L790.5,459.73 L791.0,459.52 L791.5,459.30 L792.0,459.06 L792.5,458.81 L793.0,458.54 L793.5,458.27 L794.0,457.97 L794.5,457.66 L795.0,457.33 L795.5,456.98 L796.0,456.61 L796.5,456.22 L797.0,455.81 L797.5,455.37 L798.0,454.91 L798.5,454.42 L799.0,453.90 L799.5,453.35 L800.0,452.77 L800.5,452.15 L801.0,451.50 L801.5,450.80 L802.0,450.06 L802.5,449.26 L803.0,448.42 L803.5,447.52 L804.0,446.55 L804.5,445.52 L805.0,444.41 L805.5,443.21 L806.0,441.93 L806.5,440.55 L807.0,439.06 L807.5,437.44 L808.0,435.69 L808.5,433.79 L809.0,431.72 L809.5,429.46 L810.0,426.99 L810.5,424.28 L811.0,421.31 L811.5,418.05 L812.0,414.45 L812.5,410.49 L813.0,406.11 L813.5,401.27 L814.0,395.93 L814.5,390.03 L815.0,383.54 L815.5,376.40 L816.0,368.60 L816.5,360.10 L817.0,350.91 L817.5,341.05 L818.0,330.57 L818.5,319.57 L819.0,308.35 L819.5,297.64 L820.0,288.86 L820.5,283.73 L821.0,282.84 L821.5,285.09 L822.0,288.89 L822.5,293.23 L823.0,297.77 L823.5,302.49 L824.0,307.50 L824.5,312.91 L825.0,318.81 L825.5,325.22 L826.0,332.12 L826.5,339.42 L827.0,346.96 L827.5,354.60 L828.0,362.17 L828.5,369.54 L829.0,376.60 L829.5,383.27 L830.0,389.51 L830.5,395.30 L831.0,400.65 L831.5,405.55 L832.0,410.04 L832.5,414.15 L833.0,417.90 L833.5,421.32 L834.0,424.45 L834.5,427.30 L835.0,429.92 L835.5,432.31 L836.0,434.51 L836.5,436.53 L837.0,438.38 L837.5,440.09 L838.0,441.67 L838.5,443.13 L839.0,444.48 L839.5,445.73 L840.0,446.89 L840.5,447.97 L841.0,448.96 L841.5,449.89 L842.0,450.75 L842.5,451.55 L843.0,452.29 L843.5,452.98 L844.0,453.62 L844.5,454.21 L845.0,454.75 L845.5,455.25 L846.0,455.70 L846.5,456.11 L847.0,456.48 L847.5,456.80 L848.0,457.09 L848.5,457.32 L849.0,457.52 L849.5,457.66 L850.0,457.75 L850.5,457.78 L851.0,457.75 L851.5,457.65 L852.0,457.47 L852.5,457.20 L853.0,456.82 L853.5,456.30 L854.0,455.61 L854.5,454.72 L855.0,453.58 L855.5,452.12 L856.0,450.24 L856.5,447.86 L857.0,444.85 L857.5,441.13 L858.0,436.72 L858.5,431.91 L859.0,427.44 L859.5,424.42 L860.0,423.86 L860.5,425.85 L861.0,429.53 L861.5,433.71 L862.0,437.58 L862.5,440.75 L863.0,443.15 L863.5,444.84 L864.0,445.93 L864.5,446.49 L865.0,446.62 L865.5,446.35 L866.0,445.73 L866.5,444.77 L867.0,443.47 L867.5,441.84 L868.0,439.83 L868.5,437.44 L869.0,434.62 L869.5,431.32 L870.0,427.48 L870.5,423.03 L871.0,417.91 L871.5,412.02 L872.0,405.29 L872.5,397.66 L873.0,389.09 L873.5,379.61 L874.0,369.34 L874.5,358.57 L875.0,347.74 L875.5,337.53 L876.0,328.79 L876.5,322.43 L877.0,319.22 L877.5,319.59 L878.0,323.49 L878.5,330.40 L879.0,339.51 L879.5,349.89 L880.0,360.74 L880.5,371.40 L881.0,381.46 L881.5,390.68 L882.0,398.94 L882.5,406.22 L883.0,412.56 L883.5,418.02 L884.0,422.64 L884.5,426.50 L885.0,429.64 L885.5,432.08 L886.0,433.83 L886.5,434.88 L887.0,435.22 L887.5,434.83 L888.0,433.82 L888.5,432.46 L889.0,431.35 L889.5,431.19 L890.0,432.31 L890.5,434.39 L891.0,436.74 L891.5,438.81 L892.0,440.30 L892.5,441.16 L893.0,441.41 L893.5,441.09 L894.0,440.24 L894.5,438.89 L895.0,437.05 L895.5,434.72 L896.0,431.86 L896.5,428.45 L897.0,424.47 L897.5,419.86 L898.0,414.59 L898.5,408.64 L899.0,401.99 L899.5,394.67 L900.0,386.76 L900.5,378.42 L901.0,369.90 L901.5,361.56 L902.0,353.88 L902.5,347.42 L903.0,342.73 L903.5,340.28 L904.0,340.37 L904.5,343.03 L905.0,348.01 L905.5,354.87 L906.0,363.07 L906.5,372.05 L907.0,381.31 L907.5,390.47 L908.0,399.26 L908.5,407.50 L909.0,415.12 L909.5,422.09 L910.0,428.40 L910.5,434.10 L911.0,439.23 L911.5,443.84 L912.0,447.98 L912.5,451.71 L913.0,455.07 L913.5,458.10 L914.0,460.84 L914.5,463.32 L915.0,465.57 L915.5,467.63 L916.0,469.50 L916.5,471.22 L917.0,472.80 L917.5,474.25 L918.0,475.59 L918.5,476.83 L919.0,477.98 L919.5,479.05 L920.0,480.04 L920.5,480.97 L921.0,481.84 L921.5,482.66 L922.0,483.43 L922.5,484.15 L923.0,484.83 L923.5,485.48 L924.0,486.09 L924.5,486.66 L925.0,487.21 L925.5,487.74 L926.0,488.24 L926.5,488.71 L927.0,489.17 L927.5,489.60 L928.0,490.02 L928.5,490.42 L929.0,490.80 L929.5,491.17 L930.0,491.52 L930.5,491.86 L931.0,492.19 L931.5,492.51 L932.0,492.82 L932.5,493.11 L933.0,493.40 L933.5,493.67 L934.0,493.94 L934.5,494.20 L935.0,494.45 L935.5,494.69 L936.0,494.93 L936.5,495.15 L937.0,495.37 L937.5,495.59 L938.0,495.79 L938.5,495.99 L939.0,496.19 L939.5,496.37 L940.0,496.56 L940.5,496.73 L941.0,496.90 L941.5,497.06 L942.0,497.22 L942.5,497.37 L943.0,497.52 L943.5,497.65 L944.0,497.79 L944.5,497.91 L945.0,498.03 L945.5,498.14 L946.0,498.25 L946.5,498.34 L947.0,498.43 L947.5,498.51 L948.0,498.58 L948.5,498.64 L949.0,498.69 L949.5,498.73 L950.0,498.75 L950.5,498.76 L951.0,498.76 L951.5,498.74 L952.0,498.70 L952.5,498.65 L953.0,498.58 L953.5,498.48 L954.0,498.37 L954.5,498.25 L955.0,498.12 L955.5,497.98 L956.0,497.86 L956.5,497.76 L957.0,497.70 L957.5,497.68 L958.0,497.70 L958.5,497.76 L959.0,497.86 L959.5,497.97 L960.0,498.09 L960.5,498.20 L961.0,498.30 L961.5,498.37 L962.0,498.41 L962.5,498.42 L963.0,498.39 L963.5,498.32 L964.0,498.22 L964.5,498.08 L965.0,497.89 L965.5,497.66 L966.0,497.38 L966.5,497.04 L967.0,496.66 L967.5,496.21 L968.0,495.69 L968.5,495.09 L969.0,494.42 L969.5,493.64 L970.0,492.77 L970.5,491.78 L971.0,490.66 L971.5,489.41 L972.0,488.00 L972.5,486.43 L973.0,484.70 L973.5,482.79 L974.0,480.74 L974.5,478.55 L975.0,476.28 L975.5,474.00 L976.0,471.80 L976.5,469.81 L977.0,468.15 L977.5,466.95 L978.0,466.33 L978.5,466.32 L979.0,466.93 L979.5,468.08 L980.0,469.66 L980.5,471.54 L981.0,473.59 L981.5,475.68 L982.0,477.72 L982.5,479.64 L983.0,481.39 L983.5,482.95 L984.0,484.29 L984.5,485.42 L985.0,486.33 L985.5,487.02 L986.0,487.49 L986.5,487.74 L987.0,487.78 L987.5,487.59 L988.0,487.17 L988.5,486.52 L989.0,485.64 L989.5,484.53 L990.0,483.23 L990.5,481.77 L991.0,480.22 L991.5,478.70 L992.0,477.34 L992.5,476.28 L993.0,475.65 L993.5,475.52 L994.0,475.86 L994.5,476.60 L995.0,477.58 L995.5,478.64 L996.0,479.65 L996.5,480.48 L997.0,481.06 L997.5,481.32 L998.0,481.21 L998.5,480.72 L999.0,479.82 L999.5,478.49 L1000.0,476.72 L1000.5,474.53 L1001.0,471.95 L1001.5,469.05 L1002.0,465.99 L1002.5,462.99 L1003.0,460.33 L1003.5,458.37 L1004.0,457.41 L1004.5,457.66 L1005.0,459.14 L1005.5,461.69 L1006.0,465.02 L1006.5,468.80 L1007.0,472.73 L1007.5,476.57 L1008.0,480.20 L1008.5,483.52 L1009.0,486.51 L1009.5,489.16 L1010.0,491.51 L1010.5,493.58 L1011.0,495.41 L1011.5,497.01 L1012.0,498.43 L1012.5,499.68 L1013.0,500.79 L1013.5,501.77 L1014.0,502.66 L1014.5,503.45 L1015.0,504.16 L1015.5,504.80 L1016.0,505.38 L1016.5,505.91 L1017.0,506.39 L1017.5,506.83 L1018.0,507.23 L1018.5,507.60 L1019.0,507.94 L1019.5,508.26 L1020.0,508.55 L1020.5,508.83 L1021.0,509.08 L1021.5,509.32 L1022.0,509.54 L1022.5,509.75 L1023.0,509.95 L1023.5,510.13 L1024.0,510.31 L1024.5,510.47 L1025.0,510.63 L1025.5,510.77 L1026.0,510.91 L1026.5,511.05 L1027.0,511.17 L1027.5,511.29 L1028.0,511.41 L1028.5,511.52 L1029.0,511.62 L1029.5,511.72 L1030.0,511.81 L1030.5,511.90 L1031.0,511.99 L1031.5,512.07 L1032.0,512.15 L1032.5,512.23 L1033.0,512.30 L1033.5,512.37 L1034.0,512.43 L1034.5,512.50 L1035.0,512.56 L1035.5,512.61 L1036.0,512.66 L1036.5,512.71 L1037.0,512.76 L1037.5,512.80 L1038.0,512.83 L1038.5,512.87 L1039.0,512.90 L1039.5,512.92 L1040.0,512.94 L1040.5,512.95 L1041.0,512.96 L1041.5,512.95 L1042.0,512.95 L1042.5,512.93 L1043.0,512.90 L1043.5,512.86 L1044.0,512.81 L1044.5,512.74 L1045.0,512.66 L1045.5,512.57 L1046.0,512.46 L1046.5,512.34 L1047.0,512.20 L1047.5,512.06 L1048.0,511.92 L1048.5,511.78 L1049.0,511.68 L1049.5,511.60 L1050.0,511.58 L1050.5,511.61 L1051.0,511.71 L1051.5,511.85 L1052.0,512.05 L1052.5,512.27 L1053.0,512.51 L1053.5,512.76 L1054.0,513.00 L1054.5,513.24 L1055.0,513.46 L1055.5,513.67 L1056.0,513.87 L1056.5,514.05 L1057.0,514.22 L1057.5,514.37 L1058.0,514.52 L1058.5,514.65 L1059.0,514.77 L1059.5,514.89 L1060.0,515.00 L1060.5,515.10 L1061.0,515.20 L1061.5,515.30 L1062.0,515.38 L1062.5,515.47 L1063.0,515.55 L1063.5,515.63 L1064.0,515.70 L1064.5,515.77 L1065.0,515.84 L1065.5,515.91 L1066.0,515.97 L1066.5,516.04 L1067.0,516.10 L1067.5,516.15 L1068.0,516.21 L1068.5,516.26 L1069.0,516.31 L1069.5,516.36 L1070.0,516.41 L1070.5,516.45 L1071.0,516.49 L1071.5,516.53 L1072.0,516.57 L1072.5,516.60 L1073.0,516.63 L1073.5,516.66 L1074.0,516.68 L1074.5,516.70 L1075.0,516.71 L1075.5,516.72 L1076.0,516.72 L1076.5,516.71 L1077.0,516.70 L1077.5,516.68 L1078.0,516.65 L1078.5,516.61 L1079.0,516.56 L1079.5,516.50 L1080.0,516.42 L1080.5,516.33 L1081.0,516.22 L1081.5,516.08 L1082.0,515.92 L1082.5,515.73 L1083.0,515.52 L1083.5,515.26 L1084.0,514.96 L1084.5,514.63 L1085.0,514.24 L1085.5,513.81 L1086.0,513.33 L1086.5,512.81 L1087.0,512.26 L1087.5,511.72 L1088.0,511.20 L1088.5,510.77 L1089.0,510.44 L1089.5,510.28 L1090.0,510.30 L1090.5,510.50 L1091.0,510.87 L1091.5,511.36 L1092.0,511.93 L1092.5,512.55 L1093.0,513.17 L1093.5,513.76 L1094.0,514.32 L1094.5,514.84 L1095.0,515.31 L1095.5,515.73 L1096.0,516.10 L1096.5,516.43 L1097.0,516.73 L1097.5,516.99 L1098.0,517.22 L1098.5,517.43 L1099.0,517.61 L1099.5,517.77 L1100.0,517.92 L1100.5,518.05 L1101.0,518.16 L1101.5,518.27 L1102.0,518.37 L1102.5,518.45 L1103.0,518.53 L1103.5,518.60 L1104.0,518.67 L1104.5,518.72 L1105.0,518.78 L1105.5,518.83 L1106.0,518.87 L1106.5,518.91 L1107.0,518.95 L1107.5,518.98 L1108.0,519.01 L1108.5,519.04 L1109.0,519.06 L1109.5,519.09 L1110.0,519.10 L1110.5,519.12 L1111.0,519.13 L1111.5,519.15 L1112.0,519.15 L1112.5,519.16 L1113.0,519.17 L1113.5,519.17 L1114.0,519.17 L1114.5,519.16 L1115.0,519.16 L1115.5,519.15 L1116.0,519.14 L1116.5,519.13 L1117.0,519.11 L1117.5,519.09 L1118.0,519.07 L1118.5,519.05 L1119.0,519.02 L1119.5,518.98 L1120.0,518.95 L1120.5,518.91 L1121.0,518.86 L1121.5,518.81 L1122.0,518.76 L1122.5,518.69 L1123.0,518.63 L1123.5,518.55 L1124.0,518.47 L1124.5,518.38 L1125.0,518.27 L1125.5,518.16 L1126.0,518.04 L1126.5,517.90 L1127.0,517.75 L1127.5,517.58 L1128.0,517.40 L1128.5,517.19 L1129.0,516.96 L1129.5,516.70 L1130.0,516.41 L1130.5,516.09 L1131.0,515.73 L1131.5,515.33 L1132.0,514.88 L1132.5,514.37 L1133.0,513.81 L1133.5,513.18 L1134.0,512.48 L1134.5,511.71 L1135.0,510.88 L1135.5,509.99 L1136.0,509.07 L1136.5,508.14 L1137.0,507.24 L1137.5,506.43 L1138.0,505.77 L1138.5,505.31 L1139.0,505.10 L1139.5,505.15 L1140.0,505.47 L1140.5,506.00 L1141.0,506.71 L1141.5,507.53 L1142.0,508.40 L1142.5,509.28 L1143.0,510.13 L1143.5,510.93 L1144.0,511.66 L1144.5,512.33 L1145.0,512.93 L1145.5,513.46 L1146.0,513.92 L1146.5,514.33 L1147.0,514.68 L1147.5,514.98 L1148.0,515.25 L1148.5,515.47 L1149.0,515.66 L1149.5,515.81 L1150.0,515.94 L1150.5,516.04 L1151.0,516.11 L1151.5,516.16 L1152.0,516.19 L1152.5,516.20 L1153.0,516.20 L1153.5,516.17 L1154.0,516.12 L1154.5,516.06 L1155.0,515.99 L1155.5,515.90 L1156.0,515.79 L1156.5,515.67 L1157.0,515.53 L1157.5,515.39 L1158.0,515.23 L1158.5,515.06 L1159.0,514.89 L1159.5,514.71 L1160.0,514.53 L1160.5,514.34 L1161.0,514.15 L1161.5,513.96 L1162.0,513.77 L1162.5,513.57 L1163.0,513.37 L1163.5,513.17 L1164.0,512.96 L1164.5,512.73 L1165.0,512.49 L1165.5,512.22 L1166.0,511.93 L1166.5,511.61 L1167.0,511.25 L1167.5,510.85 L1168.0,510.40 L1168.5,509.89 L1169.0,509.33 L1169.5,508.69 L1170.0,507.98 L1170.5,507.19 L1171.0,506.29 L1171.5,505.29 L1172.0,504.17 L1172.5,502.91 L1173.0,501.50 L1173.5,499.92 L1174.0,498.15 L1174.5,496.18 L1175.0,493.97 L1175.5,491.52 L1176.0,488.82 L1176.5,485.86 L1177.0,482.66 L1177.5,479.26 L1178.0,475.73 L1178.5,472.18 L1179.0,468.76 L1179.5,465.66 L1180.0,463.09 L1180.5,461.27 L1181.0,460.35 L1181.5,460.44 L1182.0,461.52 L1182.5,463.47 L1183.0,466.14 L1183.5,469.29 L1184.0,472.72 L1184.5,476.25 L1185.0,479.74 L1185.5,483.07 L1186.0,486.20 L1186.5,489.08 L1187.0,491.70 L1187.5,494.08 L1188.0,496.21 L1188.5,498.12 L1189.0,499.82 L1189.5,501.35 L1190.0,502.70 L1190.5,503.91 L1191.0,504.98 L1191.5,505.94 L1192.0,506.79 L1192.5,507.55 L1193.0,508.22 L1193.5,508.82 L1194.0,509.35 L1194.5,509.81 L1195.0,510.22 L1195.5,510.58 L1196.0,510.88 L1196.5,511.14 L1197.0,511.36 L1197.5,511.53 L1198.0,511.66 L1198.5,511.76 L1199.0,511.81 L1199.5,511.81 L1200.0,511.78 L1200.5,511.70 L1201.0,511.57 L1201.5,511.39 L1202.0,511.16 L1202.5,510.86 L1203.0,510.50 L1203.5,510.07 L1204.0,509.56 L1204.5,508.96 L1205.0,508.27 L1205.5,507.48 L1206.0,506.59 L1206.5,505.62 L1207.0,504.56 L1207.5,503.46 L1208.0,502.35 L1208.5,501.29 L1209.0,500.38 L1209.5,499.68 L1210.0,499.27 L1210.5,499.21 L1211.0,499.51 L1211.5,500.14 L1212.0,501.03 L1212.5,502.11 L1213.0,503.29 L1213.5,504.51 L1214.0,505.70 L1214.5,506.83 L1215.0,507.87 L1215.5,508.83 L1216.0,509.68 L1216.5,510.45 L1217.0,511.12 L1217.5,511.72 L1218.0,512.24 L1218.5,512.70 L1219.0,513.10 L1219.5,513.44 L1220.0,513.73 L1220.5,513.98 L1221.0,514.18 L1221.5,514.34 L1222.0,514.47 L1222.5,514.55 L1223.0,514.60 L1223.5,514.62 L1224.0,514.59 L1224.5,514.53 L1225.0,514.43 L1225.5,514.29 L1226.0,514.11 L1226.5,513.91 L1227.0,513.68 L1227.5,513.44 L1228.0,513.21 L1228.5,513.02 L1229.0,512.90 L1229.5,512.85 L1230.0,512.90 L1230.5,513.05 L1231.0,513.28 L1231.5,513.56 L1232.0,513.88 L1232.5,514.21 L1233.0,514.53 L1233.5,514.83 L1234.0,515.11 L1234.5,515.35 L1235.0,515.56 L1235.5,515.75 L1236.0,515.90 L1236.5,516.03 L1237.0,516.14 L1237.5,516.22 L1238.0,516.29 L1238.5,516.34 L1239.0,516.37 L1239.5,516.39 L1240.0,516.40 L1240.5,516.39 L1241.0,516.37 L1241.5,516.34 L1242.0,516.29 L1242.5,516.24 L1243.0,516.17 L1243.5,516.09 L1244.0,516.00 L1244.5,515.90 L1245.0,515.79 L1245.5,515.66 L1246.0,515.52 L1246.5,515.37 L1247.0,515.20 L1247.5,515.02 L1248.0,514.82 L1248.5,514.61 L1249.0,514.37 L1249.5,514.11 L1250.0,513.84 L1250.5,513.53 L1251.0,513.20 L1251.5,512.85 L1252.0,512.46 L1252.5,512.03 L1253.0,511.57 L1253.5,511.06 L1254.0,510.51 L1254.5,509.91 L1255.0,509.24 L1255.5,508.51 L1256.0,507.70 L1256.5,506.81 L1257.0,505.82 L1257.5,504.72 L1258.0,503.50 L1258.5,502.13 L1259.0,500.60 L1259.5,498.89 L1260.0,496.97 L1260.5,494.80 L1261.0,492.36 L1261.5,489.62 L1262.0,486.53 L1262.5,483.07 L1263.0,479.21 L1263.5,474.95 L1264.0,470.31 L1264.5,465.36 L1265.0,460.22 L1265.5,455.12 L1266.0,450.32 L1266.5,446.17 L1267.0,443.02 L1267.5,441.11 L1268.0,440.58 L1268.5,441.35 L1269.0,443.18 L1269.5,445.72 L1270.0,448.59 L1270.5,451.47 L1271.0,454.06 L1271.5,456.18 L1272.0,457.70 L1272.5,458.53 L1273.0,458.65 L1273.5,458.03 L1274.0,456.68 L1274.5,454.65 L1275.0,452.00 L1275.5,448.86 L1276.0,445.42 L1276.5,441.96 L1277.0,438.82 L1277.5,436.37 L1278.0,434.95 L1278.5,434.81 L1279.0,436.01 L1279.5,438.42 L1280.0,441.77 L1280.5,445.71 L1281.0,449.88 L1281.5,454.00 L1282.0,457.85 L1282.5,461.33 L1283.0,464.38 L1283.5,467.00 L1284.0,469.25 L1284.5,471.21 L1285.0,472.97 L1285.5,474.64 L1286.0,476.33 L1286.5,478.10 L1287.0,479.99 L1287.5,482.04 L1288.0,484.20 L1288.5,486.44 L1289.0,488.71 L1289.5,490.95 L1290.0,493.12 L1290.5,495.19 L1291.0,497.13 L1291.5,498.94 L1292.0,500.60 L1292.5,502.12 L1293.0,503.51 L1293.5,504.78 L1294.0,505.93 L1294.5,506.98 L1295.0,507.93 L1295.5,508.80 L1296.0,509.58 L1296.5,510.30 L1297.0,510.96 L1297.5,511.56 L1298.0,512.10 L1298.5,512.60 L1299.0,513.06 L1299.5,513.48 L1300.0,513.86 L1300.5,514.21 L1301.0,514.53 L1301.5,514.82 L1302.0,515.08 L1302.5,515.32 L1303.0,515.53 L1303.5,515.72 L1304.0,515.88 L1304.5,516.02 L1305.0,516.13 L1305.5,516.21 L1306.0,516.26 L1306.5,516.28 L1307.0,516.27 L1307.5,516.22 L1308.0,516.14 L1308.5,516.02 L1309.0,515.87 L1309.5,515.70 L1310.0,515.52 L1310.5,515.36 L1311.0,515.25 L1311.5,515.21 L1312.0,515.28 L1312.5,515.46 L1313.0,515.74 L1313.5,516.10 L1314.0,516.51 L1314.5,516.94 L1315.0,517.37 L1315.5,517.77 L1316.0,518.15 L1316.5,518.50 L1317.0,518.82 L1317.5,519.10 L1318.0,519.36 L1318.5,519.60 L1319.0,519.81 L1319.5,520.00 L1320.0,520.18 L1320.5,520.34 L1321.0,520.49 L1321.5,520.63 L1322.0,520.76 L1322.5,520.87 L1323.0,520.98 L1323.5,521.09 L1324.0,521.18 L1324.5,521.27 L1325.0,521.35 L1325.5,521.43 L1326.0,521.50 L1326.5,521.57 L1327.0,521.63 L1327.5,521.69 L1328.0,521.74 L1328.5,521.79 L1329.0,521.83 L1329.5,521.87 L1330.0,521.90 L1330.5,521.93 L1331.0,521.95 L1331.5,521.97 L1332.0,521.99 L1332.5,521.99 L1333.0,522.00 L1333.5,521.99 L1334.0,521.98 L1334.5,521.96 L1335.0,521.94 L1335.5,521.91 L1336.0,521.86 L1336.5,521.81 L1337.0,521.75 L1337.5,521.68 L1338.0,521.60 L1338.5,521.50 L1339.0,521.40 L1339.5,521.27 L1340.0,521.13 L1340.5,520.97 L1341.0,520.79 L1341.5,520.59 L1342.0,520.36 L1342.5,520.11 L1343.0,519.82 L1343.5,519.49 L1344.0,519.13 L1344.5,518.72 L1345.0,518.26 L1345.5,517.75 L1346.0,517.17 L1346.5,516.52 L1347.0,515.79 L1347.5,514.97 L1348.0,514.06 L1348.5,513.05 L1349.0,511.93 L1349.5,510.70 L1350.0,509.38 L1350.5,507.98 L1351.0,506.53 L1351.5,505.08 L1352.0,503.69 L1352.5,502.45 L1353.0,501.45 L1353.5,500.76 L1354.0,500.46 L1354.5,500.56 L1355.0,501.07 L1355.5,501.92 L1356.0,503.04 L1356.5,504.34 L1357.0,505.74 L1357.5,507.16 L1358.0,508.55 L1358.5,509.87 L1359.0,511.10 L1359.5,512.22 L1360.0,513.24 L1360.5,514.15 L1361.0,514.97 L1361.5,515.69 L1362.0,516.33 L1362.5,516.89 L1363.0,517.39 L1363.5,517.82 L1364.0,518.20 L1364.5,518.53 L1365.0,518.82 L1365.5,519.06 L1366.0,519.27 L1366.5,519.44 L1367.0,519.58 L1367.5,519.69 L1368.0,519.78 L1368.5,519.84 L1369.0,519.87 L1369.5,519.88 L1370.0,519.87 L1370.5,519.83 L1371.0,519.77 L1371.5,519.69 L1372.0,519.58 L1372.5,519.45 L1373.0,519.29 L1373.5,519.11 L1374.0,518.90 L1374.5,518.65 L1375.0,518.37 L1375.5,518.06 L1376.0,517.71 L1376.5,517.31 L1377.0,516.87 L1377.5,516.37 L1378.0,515.81 L1378.5,515.19 L1379.0,514.49 L1379.5,513.71 L1380.0,512.84 L1380.5,511.85 L1381.0,510.75 L1381.5,509.52 L1382.0,508.13 L1382.5,506.56 L1383.0,504.81 L1383.5,502.84 L1384.0,500.63 L1384.5,498.18 L1385.0,495.46 L1385.5,492.49 L1386.0,489.28 L1386.5,485.88 L1387.0,482.38 L1387.5,478.91 L1388.0,475.65 L1388.5,472.82 L1389.0,470.65 L1389.5,469.35 L1390.0,469.04 L1390.5,469.77 L1391.0,471.45 L1391.5,473.92 L1392.0,476.96 L1392.5,480.34 L1393.0,483.85 L1393.5,487.34 L1394.0,490.69 L1394.5,493.82 L1395.0,496.71 L1395.5,499.33 L1396.0,501.70 L1396.5,503.82 L1397.0,505.72 L1397.5,507.41 L1398.0,508.92 L1398.5,510.27 L1399.0,511.47 L1399.5,512.54 L1400.0,513.50 L1400.5,514.36 L1401.0,515.13 L1401.5,515.82 L1402.0,516.44 L1402.5,517.00 L1403.0,517.50 L1403.5,517.96 L1404.0,518.37 L1404.5,518.74 L1405.0,519.08 L1405.5,519.38 L1406.0,519.66 L1406.5,519.91 L1407.0,520.13 L1407.5,520.34 L1408.0,520.52 L1408.5,520.69 L1409.0,520.83 L1409.5,520.97 L1410.0,521.09 L1410.5,521.19 L1411.0,521.28 L1411.5,521.36 L1412.0,521.43 L1412.5,521.49 L1413.0,521.53 L1413.5,521.57 L1414.0,521.60 L1414.5,521.62 L1415.0,521.63 L1415.5,521.63 L1416.0,521.62 L1416.5,521.60 L1417.0,521.58 L1417.5,521.54 L1418.0,521.50 L1418.5,521.45 L1419.0,521.39 L1419.5,521.32 L1420.0,521.24 L1420.5,521.15 L1421.0,521.05 L1421.5,520.93 L1422.0,520.81 L1422.5,520.67 L1423.0,520.52 L1423.5,520.36 L1424.0,520.18 L1424.5,519.98 L1425.0,519.76 L1425.5,519.52 L1426.0,519.26 L1426.5,518.97 L1427.0,518.65 L1427.5,518.30 L1428.0,517.91 L1428.5,517.47 L1429.0,516.99 L1429.5,516.44 L1430.0,515.83 L1430.5,515.14 L1431.0,514.36 L1431.5,513.47 L1432.0,512.45 L1432.5,511.28 L1433.0,509.93 L1433.5,508.37 L1434.0,506.57 L1434.5,504.49 L1435.0,502.11 L1435.5,499.42 L1436.0,496.46 L1436.5,493.32 L1437.0,490.19 L1437.5,487.36 L1438.0,485.18 L1438.5,483.95 L1439.0,483.85 L1439.5,484.79 L1440.0,486.51 L1440.5,488.64 L1441.0,490.87 L1441.5,492.95 L1442.0,494.74 L1442.5,496.20 L1443.0,497.29 L1443.5,498.03 L1444.0,498.44 L1444.5,498.55 L1445.0,498.38 L1445.5,497.95 L1446.0,497.27 L1446.5,496.35 L1447.0,495.20 L1447.5,493.83 L1448.0,492.25 L1448.5,490.47 L1449.0,488.50 L1449.5,486.36 L1450.0,484.09 L1450.5,481.73 L1451.0,479.35 L1451.5,477.03 L1452.0,474.84 L1452.5,472.91 L1453.0,471.34 L1453.5,470.22 L1454.0,469.63 L1454.5,469.62 L1455.0,470.18 L1455.5,471.29 L1456.0,472.88 L1456.5,474.85 L1457.0,477.10 L1457.5,479.53 L1458.0,482.04 L1458.5,484.56 L1459.0,487.03 L1459.5,489.39 L1460.0,491.62 L1460.5,493.71 L1461.0,495.64 L1461.5,497.40 L1462.0,499.01 L1462.5,500.46 L1463.0,501.77 L1463.5,502.95 L1464.0,503.99 L1464.5,504.91 L1465.0,505.72 L1465.5,506.43 L1466.0,507.03 L1466.5,507.53 L1467.0,507.94 L1467.5,508.27 L1468.0,508.50 L1468.5,508.65 L1469.0,508.71 L1469.5,508.69 L1470.0,508.57 L1470.5,508.37 L1471.0,508.08 L1471.5,507.70 L1472.0,507.25 L1472.5,506.72 L1473.0,506.13 L1473.5,505.51 L1474.0,504.88 L1474.5,504.27 L1475.0,503.72 L1475.5,503.25 L1476.0,502.87 L1476.5,502.57 L1477.0,502.32 L1477.5,502.08 L1478.0,501.82 L1478.5,501.47 L1479.0,500.99 L1479.5,500.35 L1480.0,499.50 L1480.5,498.41 L1481.0,497.04 L1481.5,495.37 L1482.0,493.34 L1482.5,490.92 L1483.0,488.06 L1483.5,484.74 L1484.0,480.91 L1484.5,476.59 L1485.0,471.81 L1485.5,466.68 L1486.0,461.41 L1486.5,456.30 L1487.0,451.80 L1487.5,448.39 L1488.0,446.51 L1488.5,446.45 L1489.0,448.25 L1489.5,451.66 L1490.0,456.26 L1490.5,461.56 L1491.0,467.13 L1491.5,472.61 L1492.0,477.80 L1492.5,482.56 L1493.0,486.84 L1493.5,490.65 L1494.0,494.02 L1494.5,496.97 L1495.0,499.57 L1495.5,501.84 L1496.0,503.84 L1496.5,505.59 L1497.0,507.14 L1497.5,508.51 L1498.0,509.72 L1498.5,510.80 L1499.0,511.77 L1499.5,512.63 L1500.0,513.41 L1500.5,514.10 L1501.0,514.73 L1501.5,515.30 L1502.0,515.82 L1502.5,516.29 L1503.0,516.71 L1503.5,517.10 L1504.0,517.46 L1504.5,517.79 L1505.0,518.09 L1505.5,518.36 L1506.0,518.61 L1506.5,518.84 L1507.0,519.05 L1507.5,519.25 L1508.0,519.43 L1508.5,519.59 L1509.0,519.74 L1509.5,519.88 L1510.0,520.00 L1510.5,520.11 L1511.0,520.21 L1511.5,520.30 L1512.0,520.38 L1512.5,520.44 L1513.0,520.50 L1513.5,520.54 L1514.0,520.57 L1514.5,520.59 L1515.0,520.60 L1515.5,520.59 L1516.0,520.57 L1516.5,520.53 L1517.0,520.48 L1517.5,520.40 L1518.0,520.30 L1518.5,520.18 L1519.0,520.03 L1519.5,519.85 L1520.0,519.62 L1520.5,519.35 L1521.0,519.03 L1521.5,518.65 L1522.0,518.20 L1522.5,517.67 L1523.0,517.05 L1523.5,516.33 L1524.0,515.51 L1524.5,514.61 L1525.0,513.66 L1525.5,512.70 L1526.0,511.83 L1526.5,511.15 L1527.0,510.77 L1527.5,510.76 L1528.0,511.12 L1528.5,511.79 L1529.0,512.68 L1529.5,513.68 L1530.0,514.69 L1530.5,515.66 L1531.0,516.54 L1531.5,517.33 L1532.0,518.02 L1532.5,518.62 L1533.0,519.14 L1533.5,519.59 L1534.0,519.98 L1534.5,520.31 L1535.0,520.59 L1535.5,520.84 L1536.0,521.06 L1536.5,521.24 L1537.0,521.41 L1537.5,521.55 L1538.0,521.67 L1538.5,521.77 L1539.0,521.86 L1539.5,521.94 L1540.0,522.00 L1540.5,522.05 L1541.0,522.10 L1541.5,522.13 L1542.0,522.15 L1542.5,522.16 L1543.0,522.17 L1543.5,522.16 L1544.0,522.14 L1544.5,522.12 L1545.0,522.08 L1545.5,522.03 L1546.0,521.97 L1546.5,521.90 L1547.0,521.81 L1547.5,521.71 L1548.0,521.59 L1548.5,521.45 L1549.0,521.29 L1549.5,521.11 L1550.0,520.91 L1550.5,520.68 L1551.0,520.44 L1551.5,520.17 L1552.0,519.89 L1552.5,519.60 L1553.0,519.31 L1553.5,519.04 L1554.0,518.81 L1554.5,518.63 L1555.0,518.51 L1555.5,518.48 L1556.0,518.52 L1556.5,518.65 L1557.0,518.85 L1557.5,519.10 L1558.0,519.38 L1558.5,519.68 L1559.0,519.99 L1559.5,520.28 L1560.0,520.56 L1560.5,520.82 L1561.0,521.06 L1561.5,521.28 L1562.0,521.47 L1562.5,521.65 L1563.0,521.80 L1563.5,521.94 L1564.0,522.06 L1564.5,522.16 L1565.0,522.26 L1565.5,522.33 L1566.0,522.40 L1566.5,522.46 L1567.0,522.51 L1567.5,522.54 L1568.0,522.57 L1568.5,522.59 L1569.0,522.61 L1569.5,522.61 L1570.0,522.61 L1570.5,522.60 L1571.0,522.58 L1571.5,522.55 L1572.0,522.51 L1572.5,522.47 L1573.0,522.41 L1573.5,522.34 L1574.0,522.26 L1574.5,522.16 L1575.0,522.05 L1575.5,521.92 L1576.0,521.77 L1576.5,521.60 L1577.0,521.41 L1577.5,521.18 L1578.0,520.92 L1578.5,520.62 L1579.0,520.28 L1579.5,519.90 L1580.0,519.47 L1580.5,519.01 L1581.0,518.52 L1581.5,518.01 L1582.0,517.53 L1582.5,517.09 L1583.0,516.74 L1583.5,516.50 L1584.0,516.39 L1584.5,516.38 L1585.0,516.45 L1585.5,516.55 L1586.0,516.65 L1586.5,516.71 L1587.0,516.72 L1587.5,516.64 L1588.0,516.48 L1588.5,516.22 L1589.0,515.86 L1589.5,515.40 L1590.0,514.83 L1590.5,514.15 L1591.0,513.37 L1591.5,512.50 L1592.0,511.55 L1592.5,510.56 L1593.0,509.58 L1593.5,508.66 L1594.0,507.87 L1594.5,507.30 L1595.0,507.00 L1595.5,507.01 L1596.0,507.33 L1596.5,507.94 L1597.0,508.78 L1597.5,509.77 L1598.0,510.84 L1598.5,511.94 L1599.0,513.00 L1599.5,514.01 L1600.0,514.93 L1600.5,515.77 L1601.0,516.52 L1601.5,517.18 L1602.0,517.75 L1602.5,518.24 L1603.0,518.65 L1603.5,518.99 L1604.0,519.25 L1604.5,519.45 L1605.0,519.59 L1605.5,519.65 L1606.0,519.66 L1606.5,519.61 L1607.0,519.52 L1607.5,519.40 L1608.0,519.29 L1608.5,519.21 L1609.0,519.21 L1609.5,519.32 L1610.0,519.54 L1610.5,519.86 L1611.0,520.24 L1611.5,520.66 L1612.0,521.08 L1612.5,521.48 L1613.0,521.85 L1613.5,522.18 L1614.0,522.47 L1614.5,522.73 L1615.0,522.96 L1615.5,523.16 L1616.0,523.34 L1616.5,523.49 L1617.0,523.63 L1617.5,523.74 L1618.0,523.85 L1618.5,523.94 L1619.0,524.02 L1619.5,524.09 L1620.0,524.15 L1620.5,524.21 L1621.0,524.25 L1621.5,524.29 L1622.0,524.32 L1622.5,524.34 L1623.0,524.35 L1623.5,524.36 L1624.0,524.36 L1624.5,524.36 L1625.0,524.35 L1625.5,524.33 L1626.0,524.30 L1626.5,524.26 L1627.0,524.22 L1627.5,524.16 L1628.0,524.10 L1628.5,524.02 L1629.0,523.94 L1629.5,523.84 L1630.0,523.72 L1630.5,523.59 L1631.0,523.44 L1631.5,523.28 L1632.0,523.09 L1632.5,522.87 L1633.0,522.63 L1633.5,522.36 L1634.0,522.05 L1634.5,521.71 L1635.0,521.31 L1635.5,520.87 L1636.0,520.36 L1636.5,519.79 L1637.0,519.14 L1637.5,518.40 L1638.0,517.56 L1638.5,516.60 L1639.0,515.52 L1639.5,514.28 L1640.0,512.89 L1640.5,511.34 L1641.0,509.61 L1641.5,507.73 L1642.0,505.73 L1642.5,503.67 L1643.0,501.65 L1643.5,499.80 L1644.0,498.27 L1644.5,497.23 L1645.0,496.79 L1645.5,497.02 L1646.0,497.89 L1646.5,499.29 L1647.0,501.09 L1647.5,503.11 L1648.0,505.22 L1648.5,507.31 L1649.0,509.30 L1649.5,511.14 L1650.0,512.81 L1650.5,514.32 L1651.0,515.67 L1651.5,516.87 L1652.0,517.93 L1652.5,518.87 L1653.0,519.71 L1653.5,520.45 L1654.0,521.10 L1654.5,521.69 L1655.0,522.21 L1655.5,522.68 L1656.0,523.10 L1656.5,523.48 L1657.0,523.82 L1657.5,524.13 L1658.0,524.41 L1658.5,524.67 L1659.0,524.90 L1659.5,525.11 L1660.0,525.31 L1660.5,525.48 L1661.0,525.64 L1661.5,525.79 L1662.0,525.93 L1662.5,526.05 L1663.0,526.16 L1663.5,526.26 L1664.0,526.35 L1664.5,526.43 L1665.0,526.50 L1665.5,526.57 L1666.0,526.62 L1666.5,526.66 L1667.0,526.70 L1667.5,526.72 L1668.0,526.74 L1668.5,526.74 L1669.0,526.73 L1669.5,526.71 L1670.0,526.67 L1670.5,526.62 L1671.0,526.55 L1671.5,526.47 L1672.0,526.36 L1672.5,526.23 L1673.0,526.07 L1673.5,525.89 L1674.0,525.69 L1674.5,525.46 L1675.0,525.21 L1675.5,524.95 L1676.0,524.68 L1676.5,524.44 L1677.0,524.23 L1677.5,524.08 L1678.0,524.01 L1678.5,524.04 L1679.0,524.15 L1679.5,524.35 L1680.0,524.61 L1680.5,524.92 L1681.0,525.25 L1681.5,525.58 L1682.0,525.90 L1682.5,526.20 L1683.0,526.47 L1683.5,526.73 L1684.0,526.95 L1684.5,527.16 L1685.0,527.34 L1685.5,527.50 L1686.0,527.64 L1686.5,527.77 L1687.0,527.88 L1687.5,527.98 L1688.0,528.06 L1688.5,528.14 L1689.0,528.21 L1689.5,528.26 L1690.0,528.31 L1690.5,528.36 L1691.0,528.39 L1691.5,528.42 L1692.0,528.45 L1692.5,528.46 L1693.0,528.48 L1693.5,528.48 L1694.0,528.48 L1694.5,528.48 L1695.0,528.47 L1695.5,528.45 L1696.0,528.43 L1696.5,528.40 L1697.0,528.37 L1697.5,528.33 L1698.0,528.28 L1698.5,528.23 L1699.0,528.16 L1699.5,528.09 L1700.0,528.01 L1700.5,527.92 L1701.0,527.81 L1701.5,527.70 L1702.0,527.56 L1702.5,527.42 L1703.0,527.25 L1703.5,527.07 L1704.0,526.86 L1704.5,526.62 L1705.0,526.36 L1705.5,526.06 L1706.0,525.72 L1706.5,525.33 L1707.0,524.90 L1707.5,524.40 L1708.0,523.84 L1708.5,523.19 L1709.0,522.46 L1709.5,521.64 L1710.0,520.71 L1710.5,519.67 L1711.0,518.53 L1711.5,517.31 L1712.0,516.03 L1712.5,514.77 L1713.0,513.59 L1713.5,512.61 L1714.0,511.92 L1714.5,511.62 L1715.0,511.73 L1715.5,512.25 L1716.0,513.11 L1716.5,514.20 L1717.0,515.42 L1717.5,516.67 L1718.0,517.90 L1718.5,519.06 L1719.0,520.11 L1719.5,521.07 L1720.0,521.91 L1720.5,522.66 L1721.0,523.31 L1721.5,523.89 L1722.0,524.39 L1722.5,524.83 L1723.0,525.21 L1723.5,525.55 L1724.0,525.84 L1724.5,526.10 L1725.0,526.33 L1725.5,526.52 L1726.0,526.70 L1726.5,526.85 L1727.0,526.99 L1727.5,527.10 L1728.0,527.20 L1728.5,527.29 L1729.0,527.36 L1729.5,527.42 L1730.0,527.47 L1730.5,527.51 L1731.0,527.54 L1731.5,527.56 L1732.0,527.56 L1732.5,527.56 L1733.0,527.55 L1733.5,527.52 L1734.0,527.48 L1734.5,527.43 L1735.0,527.36 L1735.5,527.28 L1736.0,527.18 L1736.5,527.06 L1737.0,526.91 L1737.5,526.74 L1738.0,526.55 L1738.5,526.33 L1739.0,526.08 L1739.5,525.81 L1740.0,525.53 L1740.5,525.25 L1741.0,524.99 L1741.5,524.77 L1742.0,524.62 L1742.5,524.56 L1743.0,524.60 L1743.5,524.73 L1744.0,524.94 L1744.5,525.20 L1745.0,525.50 L1745.5,525.79 L1746.0,526.08 L1746.5,526.35 L1747.0,526.60 L1747.5,526.81 L1748.0,527.00 L1748.5,527.16 L1749.0,527.29 L1749.5,527.40 L1750.0,527.49 L1750.5,527.56 L1751.0,527.60 L1751.5,527.63 L1752.0,527.64 L1752.5,527.63 L1753.0,527.61 L1753.5,527.57 L1754.0,527.52 L1754.5,527.47 L1755.0,527.41 L1755.5,527.36 L1756.0,527.32 L1756.5,527.30 L1757.0,527.31 L1757.5,527.36 L1758.0,527.43 L1758.5,527.53 L1759.0,527.65 L1759.5,527.78 L1760.0,527.92 L1760.5,528.05 L1761.0,528.18 L1761.5,528.30 L1762.0,528.41 L1762.5,528.51 L1763.0,528.60 L1763.5,528.68 L1764.0,528.76 L1764.5,528.83 L1765.0,528.89 L1765.5,528.95 L1766.0,529.00 L1766.5,529.05 L1767.0,529.09 L1767.5,529.13 L1768.0,529.17 L1768.5,529.21 L1769.0,529.24 L1769.5,529.27 L1770.0,529.30 L1770.5,529.33 L1771.0,529.36 L1771.5,529.39 L1772.0,529.41 L1772.5,529.44 L1773.0,529.46 L1773.5,529.49 L1774.0,529.51 L1774.5,529.53 L1775.0,529.55 L1775.5,529.58 L1776.0,529.60 L1776.5,529.62 L1777.0,529.64 L1777.5,529.66 L1778.0,529.68 L1778.5,529.70 L1779.0,529.72 L1779.5,529.74 L1780.0,529.76 L1780.5,529.78" fill="none" stroke="#f00" stroke-width="4.15" stroke-linejoin="round" stroke-linecap="butt"/>
</g>
<path d="M207.0,1133.74 L207.5,1133.79 L208.0,1133.83 L208.5,1133.87 L209.0,1133.91 L209.5,1133.96 L210.0,1134.00 L210.5,1134.04 L211.0,1134.08 L211.5,1134.13 L212.0,1134.17 L212.5,1134.21 L213.0,1134.26 L213.5,1134.30 L214.0,1134.34 L214.5,1134.38 L215.0,1134.43 L215.5,1134.47 L216.0,1134.51 L216.5,1134.56 L217.0,1134.60 L217.5,1134.64 L218.0,1134.69 L218.5,1134.73 L219.0,1134.77 L219.5,1134.82 L220.0,1134.86 L220.5,1134.91 L221.0,1134.95 L221.5,1134.99 L222.0,1135.04 L222.5,1135.08 L223.0,1135.12 L223.5,1135.17 L224.0,1135.21 L224.5,1135.26 L225.0,1135.30 L225.5,1135.34 L226.0,1135.39 L226.5,1135.43 L227.0,1135.48 L227.5,1135.52 L228.0,1135.57 L228.5,1135.61 L229.0,1135.65 L229.5,1135.70 L230.0,1135.74 L230.5,1135.79 L231.0,1135.83 L231.5,1135.88 L232.0,1135.92 L232.5,1135.97 L233.0,1136.01 L233.5,1136.06 L234.0,1136.10 L234.5,1136.15 L235.0,1136.19 L235.5,1136.24 L236.0,1136.28 L236.5,1136.33 L237.0,1136.37 L237.5,1136.42 L238.0,1136.46 L238.5,1136.51 L239.0,1136.55 L239.5,1136.60 L240.0,1136.65 L240.5,1136.69 L241.0,1136.74 L241.5,1136.78 L242.0,1136.83 L242.5,1136.87 L243.0,1136.92 L243.5,1136.97 L244.0,1137.01 L244.5,1137.06 L245.0,1137.10 L245.5,1137.15 L246.0,1137.20 L246.5,1137.24 L247.0,1137.29 L247.5,1137.34 L248.0,1137.38 L248.5,1137.43 L249.0,1137.48 L249.5,1137.52 L250.0,1137.57 L250.5,1137.62 L251.0,1137.66 L251.5,1137.71 L252.0,1137.76 L252.5,1137.80 L253.0,1137.85 L253.5,1137.90 L254.0,1137.94 L254.5,1137.99 L255.0,1138.04 L255.5,1138.08 L256.0,1138.13 L256.5,1138.18 L257.0,1138.23 L257.5,1138.27 L258.0,1138.32 L258.5,1138.37 L259.0,1138.42 L259.5,1138.46 L260.0,1138.51 L260.5,1138.56 L261.0,1138.61 L261.5,1138.65 L262.0,1138.70 L262.5,1138.75 L263.0,1138.80 L263.5,1138.85 L264.0,1138.90 L264.5,1138.95 L265.0,1139.00 L265.5,1139.05 L266.0,1139.10 L266.5,1139.15 L267.0,1139.20 L267.5,1139.26 L268.0,1139.31 L268.5,1139.36 L269.0,1139.41 L269.5,1139.46 L270.0,1139.52 L270.5,1139.57 L271.0,1139.62 L271.5,1139.67 L272.0,1139.73 L272.5,1139.78 L273.0,1139.83 L273.5,1139.89 L274.0,1139.94 L274.5,1140.00 L275.0,1140.05 L275.5,1140.10 L276.0,1140.16 L276.5,1140.21 L277.0,1140.27 L277.5,1140.32 L278.0,1140.38 L278.5,1140.43 L279.0,1140.49 L279.5,1140.54 L280.0,1140.60 L280.5,1140.65 L281.0,1140.71 L281.5,1140.76 L282.0,1140.82 L282.5,1140.88 L283.0,1140.93 L283.5,1140.99 L284.0,1141.04 L284.5,1141.10 L285.0,1141.15 L285.5,1141.21 L286.0,1141.27 L286.5,1141.32 L287.0,1141.38 L287.5,1141.43 L288.0,1141.49 L288.5,1141.54 L289.0,1141.60 L289.5,1141.66 L290.0,1141.71 L290.5,1141.77 L291.0,1141.82 L291.5,1141.88 L292.0,1141.93 L292.5,1141.99 L293.0,1142.04 L293.5,1142.10 L294.0,1142.15 L294.5,1142.21 L295.0,1142.26 L295.5,1142.32 L296.0,1142.37 L296.5,1142.43 L297.0,1142.48 L297.5,1142.54 L298.0,1142.59 L298.5,1142.64 L299.0,1142.70 L299.5,1142.75 L300.0,1142.80 L300.5,1142.86 L301.0,1142.91 L301.5,1142.96 L302.0,1143.02 L302.5,1143.07 L303.0,1143.12 L303.5,1143.17 L304.0,1143.22 L304.5,1143.28 L305.0,1143.33 L305.5,1143.38 L306.0,1143.43 L306.5,1143.48 L307.0,1143.53 L307.5,1143.58 L308.0,1143.63 L308.5,1143.68 L309.0,1143.73 L309.5,1143.77 L310.0,1143.82 L310.5,1143.87 L311.0,1143.92 L311.5,1143.96 L312.0,1144.01 L312.5,1144.06 L313.0,1144.10 L313.5,1144.15 L314.0,1144.19 L314.5,1144.23 L315.0,1144.28 L315.5,1144.32 L316.0,1144.36 L316.5,1144.41 L317.0,1144.45 L317.5,1144.49 L318.0,1144.53 L318.5,1144.57 L319.0,1144.60 L319.5,1144.64 L320.0,1144.68 L320.5,1144.71 L321.0,1144.75 L321.5,1144.78 L322.0,1144.82 L322.5,1144.85 L323.0,1144.88 L323.5,1144.91 L324.0,1144.94 L324.5,1144.96 L325.0,1144.99 L325.5,1145.01 L326.0,1145.03 L326.5,1145.05 L327.0,1145.07 L327.5,1145.09 L328.0,1145.10 L328.5,1145.11 L329.0,1145.12 L329.5,1145.12 L330.0,1145.12 L330.5,1145.11 L331.0,1145.11 L331.5,1145.09 L332.0,1145.07 L332.5,1145.04 L333.0,1145.01 L333.5,1144.96 L334.0,1144.91 L334.5,1144.84 L335.0,1144.76 L335.5,1144.65 L336.0,1144.53 L336.5,1144.38 L337.0,1144.20 L337.5,1143.98 L338.0,1143.71 L338.5,1143.38 L339.0,1142.97 L339.5,1142.47 L340.0,1141.84 L340.5,1141.06 L341.0,1140.07 L341.5,1138.85 L342.0,1137.34 L342.5,1135.55 L343.0,1133.53 L343.5,1131.51 L344.0,1129.88 L344.5,1129.12 L345.0,1129.50 L345.5,1130.89 L346.0,1132.87 L346.5,1134.98 L347.0,1136.94 L347.5,1138.62 L348.0,1140.01 L348.5,1141.15 L349.0,1142.06 L349.5,1142.81 L350.0,1143.42 L350.5,1143.92 L351.0,1144.34 L351.5,1144.69 L352.0,1144.99 L352.5,1145.24 L353.0,1145.46 L353.5,1145.66 L354.0,1145.82 L354.5,1145.97 L355.0,1146.11 L355.5,1146.23 L356.0,1146.34 L356.5,1146.44 L357.0,1146.53 L357.5,1146.61 L358.0,1146.69 L358.5,1146.76 L359.0,1146.83 L359.5,1146.90 L360.0,1146.96 L360.5,1147.01 L361.0,1147.07 L361.5,1147.12 L362.0,1147.17 L362.5,1147.22 L363.0,1147.26 L363.5,1147.31 L364.0,1147.35 L364.5,1147.39 L365.0,1147.43 L365.5,1147.47 L366.0,1147.51 L366.5,1147.54 L367.0,1147.58 L367.5,1147.61 L368.0,1147.65 L368.5,1147.68 L369.0,1147.72 L369.5,1147.75 L370.0,1147.78 L370.5,1147.81 L371.0,1147.85 L371.5,1147.88 L372.0,1147.91 L372.5,1147.94 L373.0,1147.97 L373.5,1148.00 L374.0,1148.03 L374.5,1148.06 L375.0,1148.09 L375.5,1148.12 L376.0,1148.15 L376.5,1148.17 L377.0,1148.20 L377.5,1148.23 L378.0,1148.26 L378.5,1148.29 L379.0,1148.32 L379.5,1148.35 L380.0,1148.37 L380.5,1148.40 L381.0,1148.43 L381.5,1148.46 L382.0,1148.49 L382.5,1148.52 L383.0,1148.54 L383.5,1148.57 L384.0,1148.60 L384.5,1148.63 L385.0,1148.66 L385.5,1148.69 L386.0,1148.71 L386.5,1148.74 L387.0,1148.77 L387.5,1148.80 L388.0,1148.83 L388.5,1148.86 L389.0,1148.89 L389.5,1148.92 L390.0,1148.94 L390.5,1148.97 L391.0,1149.00 L391.5,1149.03 L392.0,1149.06 L392.5,1149.09 L393.0,1149.12 L393.5,1149.15 L394.0,1149.18 L394.5,1149.21 L395.0,1149.24 L395.5,1149.27 L396.0,1149.30 L396.5,1149.34 L397.0,1149.37 L397.5,1149.40 L398.0,1149.43 L398.5,1149.46 L399.0,1149.49 L399.5,1149.53 L400.0,1149.56 L400.5,1149.59 L401.0,1149.62 L401.5,1149.66 L402.0,1149.69 L402.5,1149.73 L403.0,1149.76 L403.5,1149.80 L404.0,1149.84 L404.5,1149.88 L405.0,1149.91 L405.5,1149.95 L406.0,1149.99 L406.5,1150.03 L407.0,1150.07 L407.5,1150.11 L408.0,1150.15 L408.5,1150.20 L409.0,1150.24 L409.5,1150.28 L410.0,1150.32 L410.5,1150.37 L411.0,1150.41 L411.5,1150.45 L412.0,1150.50 L412.5,1150.54 L413.0,1150.58 L413.5,1150.63 L414.0,1150.67 L414.5,1150.72 L415.0,1150.76 L415.5,1150.81 L416.0,1150.85 L416.5,1150.90 L417.0,1150.94 L417.5,1150.99 L418.0,1151.03 L418.5,1151.08 L419.0,1151.12 L419.5,1151.17 L420.0,1151.21 L420.5,1151.26 L421.0,1151.30 L421.5,1151.35 L422.0,1151.39 L422.5,1151.44 L423.0,1151.48 L423.5,1151.53 L424.0,1151.57 L424.5,1151.61 L425.0,1151.66 L425.5,1151.70 L426.0,1151.74 L426.5,1151.79 L427.0,1151.83 L427.5,1151.87 L428.0,1151.91 L428.5,1151.95 L429.0,1151.99 L429.5,1152.03 L430.0,1152.07 L430.5,1152.11 L431.0,1152.15 L431.5,1152.19 L432.0,1152.22 L432.5,1152.26 L433.0,1152.30 L433.5,1152.33 L434.0,1152.37 L434.5,1152.40 L435.0,1152.43 L435.5,1152.46 L436.0,1152.50 L436.5,1152.53 L437.0,1152.56 L437.5,1152.58 L438.0,1152.61 L438.5,1152.64 L439.0,1152.66 L439.5,1152.69 L440.0,1152.71 L440.5,1152.73 L441.0,1152.76 L441.5,1152.78 L442.0,1152.79 L442.5,1152.81 L443.0,1152.83 L443.5,1152.84 L444.0,1152.86 L444.5,1152.87 L445.0,1152.88 L445.5,1152.89 L446.0,1152.89 L446.5,1152.90 L447.0,1152.90 L447.5,1152.90 L448.0,1152.90 L448.5,1152.90 L449.0,1152.89 L449.5,1152.89 L450.0,1152.88 L450.5,1152.86 L451.0,1152.85 L451.5,1152.83 L452.0,1152.82 L452.5,1152.80 L453.0,1152.77 L453.5,1152.75 L454.0,1152.72 L454.5,1152.69 L455.0,1152.65 L455.5,1152.61 L456.0,1152.56 L456.5,1152.51 L457.0,1152.46 L457.5,1152.40 L458.0,1152.33 L458.5,1152.25 L459.0,1152.17 L459.5,1152.07 L460.0,1151.96 L460.5,1151.84 L461.0,1151.71 L461.5,1151.55 L462.0,1151.37 L462.5,1151.17 L463.0,1150.93 L463.5,1150.66 L464.0,1150.34 L464.5,1149.97 L465.0,1149.53 L465.5,1149.00 L466.0,1148.37 L466.5,1147.60 L467.0,1146.66 L467.5,1145.50 L468.0,1144.05 L468.5,1142.22 L469.0,1139.92 L469.5,1137.00 L470.0,1133.36 L470.5,1128.97 L471.0,1124.04 L471.5,1119.24 L472.0,1115.77 L472.5,1114.86 L473.0,1116.90 L473.5,1121.07 L474.0,1126.02 L474.5,1130.78 L475.0,1134.87 L475.5,1138.20 L476.0,1140.85 L476.5,1142.95 L477.0,1144.60 L477.5,1145.92 L478.0,1146.98 L478.5,1147.84 L479.0,1148.54 L479.5,1149.12 L480.0,1149.60 L480.5,1150.01 L481.0,1150.35 L481.5,1150.64 L482.0,1150.89 L482.5,1151.11 L483.0,1151.29 L483.5,1151.46 L484.0,1151.60 L484.5,1151.72 L485.0,1151.83 L485.5,1151.93 L486.0,1152.02 L486.5,1152.09 L487.0,1152.16 L487.5,1152.22 L488.0,1152.27 L488.5,1152.32 L489.0,1152.36 L489.5,1152.40 L490.0,1152.43 L490.5,1152.46 L491.0,1152.49 L491.5,1152.51 L492.0,1152.53 L492.5,1152.55 L493.0,1152.56 L493.5,1152.58 L494.0,1152.59 L494.5,1152.60 L495.0,1152.60 L495.5,1152.61 L496.0,1152.61 L496.5,1152.61 L497.0,1152.61 L497.5,1152.61 L498.0,1152.61 L498.5,1152.61 L499.0,1152.60 L499.5,1152.60 L500.0,1152.59 L500.5,1152.58 L501.0,1152.57 L501.5,1152.57 L502.0,1152.56 L502.5,1152.55 L503.0,1152.54 L503.5,1152.53 L504.0,1152.52 L504.5,1152.51 L505.0,1152.51 L505.5,1152.50 L506.0,1152.49 L506.5,1152.47 L507.0,1152.46 L507.5,1152.45 L508.0,1152.44 L508.5,1152.43 L509.0,1152.41 L509.5,1152.39 L510.0,1152.38 L510.5,1152.36 L511.0,1152.34 L511.5,1152.32 L512.0,1152.30 L512.5,1152.27 L513.0,1152.25 L513.5,1152.22 L514.0,1152.19 L514.5,1152.15 L515.0,1152.12 L515.5,1152.08 L516.0,1152.03 L516.5,1151.99 L517.0,1151.94 L517.5,1151.89 L518.0,1151.83 L518.5,1151.77 L519.0,1151.70 L519.5,1151.63 L520.0,1151.55 L520.5,1151.47 L521.0,1151.38 L521.5,1151.28 L522.0,1151.17 L522.5,1151.06 L523.0,1150.94 L523.5,1150.81 L524.0,1150.67 L524.5,1150.52 L525.0,1150.35 L525.5,1150.18 L526.0,1149.99 L526.5,1149.78 L527.0,1149.56 L527.5,1149.32 L528.0,1149.07 L528.5,1148.79 L529.0,1148.49 L529.5,1148.17 L530.0,1147.82 L530.5,1147.44 L531.0,1147.02 L531.5,1146.57 L532.0,1146.09 L532.5,1145.56 L533.0,1144.98 L533.5,1144.35 L534.0,1143.66 L534.5,1142.91 L535.0,1142.08 L535.5,1141.17 L536.0,1140.16 L536.5,1139.06 L537.0,1137.83 L537.5,1136.47 L538.0,1134.95 L538.5,1133.26 L539.0,1131.36 L539.5,1129.23 L540.0,1126.83 L540.5,1124.10 L541.0,1121.01 L541.5,1117.47 L542.0,1113.41 L542.5,1108.74 L543.0,1103.32 L543.5,1097.03 L544.0,1089.66 L544.5,1081.02 L545.0,1070.84 L545.5,1058.82 L546.0,1044.62 L546.5,1027.89 L547.0,1008.31 L547.5,985.73 L548.0,960.34 L548.5,932.99 L549.0,905.47 L549.5,880.73 L550.0,862.51 L550.5,854.33 L551.0,857.99 L551.5,872.68 L552.0,895.41 L552.5,922.36 L553.0,950.18 L553.5,976.63 L554.0,1000.51 L554.5,1021.42 L555.0,1039.39 L555.5,1054.69 L556.0,1067.67 L556.5,1078.67 L557.0,1088.02 L557.5,1095.99 L558.0,1102.82 L558.5,1108.69 L559.0,1113.77 L559.5,1118.19 L560.0,1122.05 L560.5,1125.43 L561.0,1128.42 L561.5,1131.07 L562.0,1133.42 L562.5,1135.53 L563.0,1137.42 L563.5,1139.12 L564.0,1140.66 L564.5,1142.06 L565.0,1143.33 L565.5,1144.49 L566.0,1145.56 L566.5,1146.53 L567.0,1147.43 L567.5,1148.26 L568.0,1149.03 L568.5,1149.74 L569.0,1150.41 L569.5,1151.02 L570.0,1151.60 L570.5,1152.14 L571.0,1152.64 L571.5,1153.12 L572.0,1153.56 L572.5,1153.98 L573.0,1154.38 L573.5,1154.75 L574.0,1155.11 L574.5,1155.44 L575.0,1155.76 L575.5,1156.06 L576.0,1156.35 L576.5,1156.62 L577.0,1156.89 L577.5,1157.14 L578.0,1157.37 L578.5,1157.60 L579.0,1157.82 L579.5,1158.03 L580.0,1158.23 L580.5,1158.42 L581.0,1158.61 L581.5,1158.79 L582.0,1158.96 L582.5,1159.13 L583.0,1159.29 L583.5,1159.44 L584.0,1159.60 L584.5,1159.74 L585.0,1159.88 L585.5,1160.02 L586.0,1160.15 L586.5,1160.28 L587.0,1160.41 L587.5,1160.53 L588.0,1160.65 L588.5,1160.76 L589.0,1160.88 L589.5,1160.99 L590.0,1161.10 L590.5,1161.20 L591.0,1161.31 L591.5,1161.41 L592.0,1161.51 L592.5,1161.60 L593.0,1161.70 L593.5,1161.79 L594.0,1161.89 L594.5,1161.98 L595.0,1162.07 L595.5,1162.16 L596.0,1162.24 L596.5,1162.33 L597.0,1162.41 L597.5,1162.50 L598.0,1162.58 L598.5,1162.66 L599.0,1162.74 L599.5,1162.82 L600.0,1162.90 L600.5,1162.98 L601.0,1163.06 L601.5,1163.14 L602.0,1163.22 L602.5,1163.29 L603.0,1163.37 L603.5,1163.44 L604.0,1163.52 L604.5,1163.59 L605.0,1163.67 L605.5,1163.74 L606.0,1163.82 L606.5,1163.89 L607.0,1163.96 L607.5,1164.04 L608.0,1164.11 L608.5,1164.18 L609.0,1164.25 L609.5,1164.32 L610.0,1164.40 L610.5,1164.47 L611.0,1164.54 L611.5,1164.61 L612.0,1164.69 L612.5,1164.76 L613.0,1164.83 L613.5,1164.91 L614.0,1164.98 L614.5,1165.05 L615.0,1165.13 L615.5,1165.20 L616.0,1165.27 L616.5,1165.34 L617.0,1165.41 L617.5,1165.48 L618.0,1165.55 L618.5,1165.61 L619.0,1165.67 L619.5,1165.73 L620.0,1165.79 L620.5,1165.84 L621.0,1165.89 L621.5,1165.93 L622.0,1165.97 L622.5,1165.99 L623.0,1166.01 L623.5,1166.01 L624.0,1165.99 L624.5,1165.95 L625.0,1165.89 L625.5,1165.79 L626.0,1165.66 L626.5,1165.46 L627.0,1165.19 L627.5,1164.82 L628.0,1164.32 L628.5,1163.64 L629.0,1162.72 L629.5,1161.49 L630.0,1159.93 L630.5,1158.12 L631.0,1156.37 L631.5,1155.30 L632.0,1155.46 L632.5,1156.77 L633.0,1158.62 L633.5,1160.43 L634.0,1161.94 L634.5,1163.08 L635.0,1163.90 L635.5,1164.45 L636.0,1164.76 L636.5,1164.86 L637.0,1164.75 L637.5,1164.39 L638.0,1163.73 L638.5,1162.66 L639.0,1161.00 L639.5,1158.49 L640.0,1154.72 L640.5,1149.29 L641.0,1142.46 L641.5,1136.65 L642.0,1136.12 L642.5,1141.50 L643.0,1148.72 L643.5,1154.79 L644.0,1159.19 L644.5,1162.24 L645.0,1164.39 L645.5,1165.93 L646.0,1167.07 L646.5,1167.93 L647.0,1168.61 L647.5,1169.14 L648.0,1169.58 L648.5,1169.93 L649.0,1170.23 L649.5,1170.48 L650.0,1170.70 L650.5,1170.88 L651.0,1171.04 L651.5,1171.17 L652.0,1171.28 L652.5,1171.38 L653.0,1171.45 L653.5,1171.51 L654.0,1171.54 L654.5,1171.56 L655.0,1171.56 L655.5,1171.53 L656.0,1171.48 L656.5,1171.41 L657.0,1171.30 L657.5,1171.15 L658.0,1170.96 L658.5,1170.72 L659.0,1170.43 L659.5,1170.06 L660.0,1169.62 L660.5,1169.07 L661.0,1168.40 L661.5,1167.59 L662.0,1166.61 L662.5,1165.42 L663.0,1163.99 L663.5,1162.28 L664.0,1160.25 L664.5,1157.92 L665.0,1155.33 L665.5,1152.61 L666.0,1150.02 L666.5,1147.93 L667.0,1146.75 L667.5,1146.75 L668.0,1147.98 L668.5,1150.18 L669.0,1152.96 L669.5,1155.94 L670.0,1158.84 L670.5,1161.49 L671.0,1163.84 L671.5,1165.88 L672.0,1167.63 L672.5,1169.13 L673.0,1170.41 L673.5,1171.52 L674.0,1172.48 L674.5,1173.31 L675.0,1174.04 L675.5,1174.69 L676.0,1175.27 L676.5,1175.78 L677.0,1176.25 L677.5,1176.67 L678.0,1177.06 L678.5,1177.42 L679.0,1177.75 L679.5,1178.06 L680.0,1178.35 L680.5,1178.62 L681.0,1178.88 L681.5,1179.12 L682.0,1179.35 L682.5,1179.57 L683.0,1179.79 L683.5,1179.99 L684.0,1180.19 L684.5,1180.38 L685.0,1180.56 L685.5,1180.74 L686.0,1180.91 L686.5,1181.08 L687.0,1181.24 L687.5,1181.40 L688.0,1181.55 L688.5,1181.71 L689.0,1181.86 L689.5,1182.00 L690.0,1182.14 L690.5,1182.28 L691.0,1182.42 L691.5,1182.56 L692.0,1182.69 L692.5,1182.82 L693.0,1182.95 L693.5,1183.07 L694.0,1183.20 L694.5,1183.32 L695.0,1183.44 L695.5,1183.56 L696.0,1183.68 L696.5,1183.79 L697.0,1183.90 L697.5,1184.01 L698.0,1184.12 L698.5,1184.23 L699.0,1184.34 L699.5,1184.44 L700.0,1184.54 L700.5,1184.64 L701.0,1184.74 L701.5,1184.84 L702.0,1184.94 L702.5,1185.04 L703.0,1185.14 L703.5,1185.24 L704.0,1185.33 L704.5,1185.43 L705.0,1185.52 L705.5,1185.62 L706.0,1185.71 L706.5,1185.80 L707.0,1185.90 L707.5,1185.99 L708.0,1186.08 L708.5,1186.17 L709.0,1186.26 L709.5,1186.35 L710.0,1186.44 L710.5,1186.53 L711.0,1186.62 L711.5,1186.70 L712.0,1186.79 L712.5,1186.88 L713.0,1186.97 L713.5,1187.05 L714.0,1187.14 L714.5,1187.22 L715.0,1187.31 L715.5,1187.39 L716.0,1187.47 L716.5,1187.56 L717.0,1187.64 L717.5,1187.72 L718.0,1187.80 L718.5,1187.88 L719.0,1187.97 L719.5,1188.05 L720.0,1188.13 L720.5,1188.21 L721.0,1188.28 L721.5,1188.36 L722.0,1188.44 L722.5,1188.52 L723.0,1188.60 L723.5,1188.67 L724.0,1188.75 L724.5,1188.83 L725.0,1188.90 L725.5,1188.98 L726.0,1189.05 L726.5,1189.13 L727.0,1189.20 L727.5,1189.28 L728.0,1189.35 L728.5,1189.42 L729.0,1189.50 L729.5,1189.57 L730.0,1189.64 L730.5,1189.71 L731.0,1189.78 L731.5,1189.85 L732.0,1189.92 L732.5,1189.99 L733.0,1190.06 L733.5,1190.13 L734.0,1190.20 L734.5,1190.27 L735.0,1190.34 L735.5,1190.40 L736.0,1190.47 L736.5,1190.54 L737.0,1190.60 L737.5,1190.67 L738.0,1190.73 L738.5,1190.80 L739.0,1190.86 L739.5,1190.93 L740.0,1190.99 L740.5,1191.05 L741.0,1191.12 L741.5,1191.18 L742.0,1191.24 L742.5,1191.30 L743.0,1191.36 L743.5,1191.42 L744.0,1191.49 L744.5,1191.55 L745.0,1191.60 L745.5,1191.66 L746.0,1191.72 L746.5,1191.78 L747.0,1191.84 L747.5,1191.90 L748.0,1191.95 L748.5,1192.01 L749.0,1192.07 L749.5,1192.12 L750.0,1192.18 L750.5,1192.23 L751.0,1192.29 L751.5,1192.34 L752.0,1192.39 L752.5,1192.45 L753.0,1192.50 L753.5,1192.55 L754.0,1192.61 L754.5,1192.66 L755.0,1192.71 L755.5,1192.76 L756.0,1192.81 L756.5,1192.86 L757.0,1192.91 L757.5,1192.96 L758.0,1193.01 L758.5,1193.06 L759.0,1193.11 L759.5,1193.16 L760.0,1193.20 L760.5,1193.25 L761.0,1193.30 L761.5,1193.35 L762.0,1193.39 L762.5,1193.44 L763.0,1193.48 L763.5,1193.53 L764.0,1193.57 L764.5,1193.62 L765.0,1193.66 L765.5,1193.70 L766.0,1193.75 L766.5,1193.79 L767.0,1193.83 L767.5,1193.87 L768.0,1193.91 L768.5,1193.95 L769.0,1193.99 L769.5,1194.03 L770.0,1194.07 L770.5,1194.11 L771.0,1194.15 L771.5,1194.19 L772.0,1194.22 L772.5,1194.26 L773.0,1194.30 L773.5,1194.33 L774.0,1194.37 L774.5,1194.40 L775.0,1194.44 L775.5,1194.47 L776.0,1194.50 L776.5,1194.54 L777.0,1194.57 L777.5,1194.60 L778.0,1194.63 L778.5,1194.66 L779.0,1194.69 L779.5,1194.71 L780.0,1194.74 L780.5,1194.77 L781.0,1194.80 L781.5,1194.82 L782.0,1194.84 L782.5,1194.87 L783.0,1194.89 L783.5,1194.91 L784.0,1194.93 L784.5,1194.95 L785.0,1194.97 L785.5,1194.99 L786.0,1195.00 L786.5,1195.02 L787.0,1195.03 L787.5,1195.05 L788.0,1195.06 L788.5,1195.07 L789.0,1195.08 L789.5,1195.08 L790.0,1195.09 L790.5,1195.09 L791.0,1195.09 L791.5,1195.09 L792.0,1195.09 L792.5,1195.09 L793.0,1195.08 L793.5,1195.07 L794.0,1195.06 L794.5,1195.05 L795.0,1195.03 L795.5,1195.01 L796.0,1194.99 L796.5,1194.96 L797.0,1194.93 L797.5,1194.90 L798.0,1194.86 L798.5,1194.82 L799.0,1194.77 L799.5,1194.72 L800.0,1194.66 L800.5,1194.59 L801.0,1194.52 L801.5,1194.44 L802.0,1194.36 L802.5,1194.26 L803.0,1194.16 L803.5,1194.04 L804.0,1193.92 L804.5,1193.78 L805.0,1193.63 L805.5,1193.46 L806.0,1193.28 L806.5,1193.08 L807.0,1192.86 L807.5,1192.62 L808.0,1192.35 L808.5,1192.06 L809.0,1191.74 L809.5,1191.38 L810.0,1190.98 L810.5,1190.54 L811.0,1190.05 L811.5,1189.51 L812.0,1188.90 L812.5,1188.21 L813.0,1187.43 L813.5,1186.56 L814.0,1185.57 L814.5,1184.43 L815.0,1183.14 L815.5,1181.65 L816.0,1179.92 L816.5,1177.92 L817.0,1175.58 L817.5,1172.84 L818.0,1169.60 L818.5,1165.76 L819.0,1161.19 L819.5,1155.73 L820.0,1149.22 L820.5,1141.48 L821.0,1132.38 L821.5,1121.89 L822.0,1110.23 L822.5,1098.03 L823.0,1086.51 L823.5,1077.40 L824.0,1072.55 L824.5,1073.11 L825.0,1078.96 L825.5,1088.72 L826.0,1100.51 L826.5,1112.69 L827.0,1124.17 L827.5,1134.40 L828.0,1143.24 L828.5,1150.73 L829.0,1157.02 L829.5,1162.30 L830.0,1166.73 L830.5,1170.45 L831.0,1173.59 L831.5,1176.25 L832.0,1178.52 L832.5,1180.47 L833.0,1182.15 L833.5,1183.60 L834.0,1184.86 L834.5,1185.97 L835.0,1186.93 L835.5,1187.78 L836.0,1188.53 L836.5,1189.19 L837.0,1189.78 L837.5,1190.30 L838.0,1190.76 L838.5,1191.17 L839.0,1191.53 L839.5,1191.85 L840.0,1192.13 L840.5,1192.38 L841.0,1192.59 L841.5,1192.77 L842.0,1192.92 L842.5,1193.04 L843.0,1193.13 L843.5,1193.20 L844.0,1193.24 L844.5,1193.24 L845.0,1193.22 L845.5,1193.16 L846.0,1193.07 L846.5,1192.94 L847.0,1192.77 L847.5,1192.55 L848.0,1192.27 L848.5,1191.93 L849.0,1191.51 L849.5,1191.00 L850.0,1190.38 L850.5,1189.64 L851.0,1188.72 L851.5,1187.61 L852.0,1186.24 L852.5,1184.53 L853.0,1182.39 L853.5,1179.68 L854.0,1176.21 L854.5,1171.73 L855.0,1165.91 L855.5,1158.37 L856.0,1148.75 L856.5,1137.05 L857.0,1124.21 L857.5,1112.90 L858.0,1107.17 L858.5,1109.74 L859.0,1119.34 L859.5,1132.02 L860.0,1144.39 L860.5,1154.89 L861.0,1163.24 L861.5,1169.70 L862.0,1174.66 L862.5,1178.47 L863.0,1181.42 L863.5,1183.71 L864.0,1185.50 L864.5,1186.89 L865.0,1187.96 L865.5,1188.78 L866.0,1189.37 L866.5,1189.78 L867.0,1190.01 L867.5,1190.09 L868.0,1190.01 L868.5,1189.76 L869.0,1189.36 L869.5,1188.77 L870.0,1188.00 L870.5,1187.01 L871.0,1185.79 L871.5,1184.33 L872.0,1182.61 L872.5,1180.66 L873.0,1178.52 L873.5,1176.32 L874.0,1174.24 L874.5,1172.51 L875.0,1171.39 L875.5,1171.08 L876.0,1171.61 L876.5,1172.88 L877.0,1174.65 L877.5,1176.66 L878.0,1178.70 L878.5,1180.59 L879.0,1182.24 L879.5,1183.62 L880.0,1184.70 L880.5,1185.48 L881.0,1185.97 L881.5,1186.17 L882.0,1186.08 L882.5,1185.68 L883.0,1184.94 L883.5,1183.82 L884.0,1182.24 L884.5,1180.10 L885.0,1177.29 L885.5,1173.65 L886.0,1169.05 L886.5,1163.48 L887.0,1157.23 L887.5,1151.21 L888.0,1146.89 L888.5,1145.63 L889.0,1147.57 L889.5,1151.49 L890.0,1155.82 L890.5,1159.50 L891.0,1162.09 L891.5,1163.53 L892.0,1163.87 L892.5,1163.23 L893.0,1161.65 L893.5,1159.17 L894.0,1155.75 L894.5,1151.33 L895.0,1145.79 L895.5,1138.96 L896.0,1130.62 L896.5,1120.47 L897.0,1108.17 L897.5,1093.32 L898.0,1075.51 L898.5,1054.40 L899.0,1029.90 L899.5,1002.51 L900.0,973.71 L900.5,946.36 L901.0,924.67 L901.5,913.14 L902.0,914.59 L902.5,928.70 L903.0,952.13 L903.5,980.31 L904.0,1009.28 L904.5,1036.45 L905.0,1060.58 L905.5,1081.35 L906.0,1098.91 L906.5,1113.62 L907.0,1125.93 L907.5,1136.23 L908.0,1144.87 L908.5,1152.16 L909.0,1158.33 L909.5,1163.58 L910.0,1168.08 L910.5,1171.94 L911.0,1175.28 L911.5,1178.18 L912.0,1180.70 L912.5,1182.90 L913.0,1184.83 L913.5,1186.53 L914.0,1188.02 L914.5,1189.32 L915.0,1190.47 L915.5,1191.48 L916.0,1192.35 L916.5,1193.10 L917.0,1193.74 L917.5,1194.26 L918.0,1194.66 L918.5,1194.94 L919.0,1195.09 L919.5,1195.08 L920.0,1194.88 L920.5,1194.45 L921.0,1193.74 L921.5,1192.67 L922.0,1191.22 L922.5,1189.46 L923.0,1187.69 L923.5,1186.53 L924.0,1186.61 L924.5,1187.99 L925.0,1190.12 L925.5,1192.36 L926.0,1194.33 L926.5,1195.94 L927.0,1197.21 L927.5,1198.21 L928.0,1198.99 L928.5,1199.61 L929.0,1200.11 L929.5,1200.51 L930.0,1200.84 L930.5,1201.12 L931.0,1201.35 L931.5,1201.54 L932.0,1201.70 L932.5,1201.84 L933.0,1201.96 L933.5,1202.07 L934.0,1202.15 L934.5,1202.23 L935.0,1202.29 L935.5,1202.34 L936.0,1202.39 L936.5,1202.43 L937.0,1202.46 L937.5,1202.48 L938.0,1202.50 L938.5,1202.52 L939.0,1202.53 L939.5,1202.53 L940.0,1202.53 L940.5,1202.53 L941.0,1202.52 L941.5,1202.51 L942.0,1202.49 L942.5,1202.47 L943.0,1202.44 L943.5,1202.41 L944.0,1202.37 L944.5,1202.32 L945.0,1202.27 L945.5,1202.20 L946.0,1202.13 L946.5,1202.04 L947.0,1201.93 L947.5,1201.80 L948.0,1201.65 L948.5,1201.46 L949.0,1201.24 L949.5,1200.97 L950.0,1200.65 L950.5,1200.28 L951.0,1199.85 L951.5,1199.39 L952.0,1198.92 L952.5,1198.52 L953.0,1198.26 L953.5,1198.20 L954.0,1198.36 L954.5,1198.70 L955.0,1199.14 L955.5,1199.63 L956.0,1200.09 L956.5,1200.50 L957.0,1200.86 L957.5,1201.16 L958.0,1201.41 L958.5,1201.61 L959.0,1201.77 L959.5,1201.89 L960.0,1201.98 L960.5,1202.05 L961.0,1202.10 L961.5,1202.12 L962.0,1202.12 L962.5,1202.10 L963.0,1202.06 L963.5,1202.00 L964.0,1201.91 L964.5,1201.80 L965.0,1201.65 L965.5,1201.48 L966.0,1201.26 L966.5,1201.00 L967.0,1200.69 L967.5,1200.31 L968.0,1199.86 L968.5,1199.31 L969.0,1198.63 L969.5,1197.81 L970.0,1196.80 L970.5,1195.54 L971.0,1193.96 L971.5,1191.98 L972.0,1189.46 L972.5,1186.27 L973.0,1182.21 L973.5,1177.17 L974.0,1171.13 L974.5,1164.48 L975.0,1158.28 L975.5,1154.22 L976.0,1153.85 L976.5,1157.34 L977.0,1163.35 L977.5,1170.10 L978.0,1176.38 L978.5,1181.71 L979.0,1186.03 L979.5,1189.45 L980.0,1192.16 L980.5,1194.31 L981.0,1196.03 L981.5,1197.41 L982.0,1198.53 L982.5,1199.44 L983.0,1200.19 L983.5,1200.82 L984.0,1201.34 L984.5,1201.77 L985.0,1202.12 L985.5,1202.42 L986.0,1202.66 L986.5,1202.85 L987.0,1203.00 L987.5,1203.10 L988.0,1203.17 L988.5,1203.21 L989.0,1203.20 L989.5,1203.16 L990.0,1203.08 L990.5,1202.96 L991.0,1202.80 L991.5,1202.58 L992.0,1202.32 L992.5,1201.99 L993.0,1201.59 L993.5,1201.11 L994.0,1200.53 L994.5,1199.85 L995.0,1199.03 L995.5,1198.05 L996.0,1196.89 L996.5,1195.49 L997.0,1193.82 L997.5,1191.81 L998.0,1189.40 L998.5,1186.52 L999.0,1183.10 L999.5,1179.10 L1000.0,1174.54 L1000.5,1169.54 L1001.0,1164.44 L1001.5,1159.79 L1002.0,1156.35 L1002.5,1154.83 L1003.0,1155.61 L1003.5,1158.53 L1004.0,1162.96 L1004.5,1168.13 L1005.0,1173.40 L1005.5,1178.33 L1006.0,1182.74 L1006.5,1186.57 L1007.0,1189.83 L1007.5,1192.60 L1008.0,1194.95 L1008.5,1196.94 L1009.0,1198.63 L1009.5,1200.08 L1010.0,1201.33 L1010.5,1202.41 L1011.0,1203.36 L1011.5,1204.19 L1012.0,1204.93 L1012.5,1205.58 L1013.0,1206.17 L1013.5,1206.70 L1014.0,1207.18 L1014.5,1207.62 L1015.0,1208.02 L1015.5,1208.39 L1016.0,1208.73 L1016.5,1209.05 L1017.0,1209.35 L1017.5,1209.63 L1018.0,1209.89 L1018.5,1210.14 L1019.0,1210.37 L1019.5,1210.60 L1020.0,1210.81 L1020.5,1211.02 L1021.0,1211.21 L1021.5,1211.40 L1022.0,1211.58 L1022.5,1211.75 L1023.0,1211.92 L1023.5,1212.08 L1024.0,1212.24 L1024.5,1212.39 L1025.0,1212.54 L1025.5,1212.68 L1026.0,1212.82 L1026.5,1212.95 L1027.0,1213.08 L1027.5,1213.21 L1028.0,1213.34 L1028.5,1213.46 L1029.0,1213.58 L1029.5,1213.69 L1030.0,1213.80 L1030.5,1213.91 L1031.0,1214.02 L1031.5,1214.12 L1032.0,1214.22 L1032.5,1214.31 L1033.0,1214.40 L1033.5,1214.49 L1034.0,1214.58 L1034.5,1214.66 L1035.0,1214.74 L1035.5,1214.82 L1036.0,1214.89 L1036.5,1214.96 L1037.0,1215.02 L1037.5,1215.08 L1038.0,1215.13 L1038.5,1215.17 L1039.0,1215.21 L1039.5,1215.24 L1040.0,1215.26 L1040.5,1215.27 L1041.0,1215.27 L1041.5,1215.25 L1042.0,1215.21 L1042.5,1215.15 L1043.0,1215.06 L1043.5,1214.93 L1044.0,1214.78 L1044.5,1214.59 L1045.0,1214.37 L1045.5,1214.16 L1046.0,1213.98 L1046.5,1213.90 L1047.0,1213.94 L1047.5,1214.10 L1048.0,1214.34 L1048.5,1214.61 L1049.0,1214.88 L1049.5,1215.12 L1050.0,1215.32 L1050.5,1215.49 L1051.0,1215.63 L1051.5,1215.75 L1052.0,1215.84 L1052.5,1215.92 L1053.0,1215.99 L1053.5,1216.05 L1054.0,1216.10 L1054.5,1216.14 L1055.0,1216.17 L1055.5,1216.20 L1056.0,1216.23 L1056.5,1216.25 L1057.0,1216.27 L1057.5,1216.28 L1058.0,1216.30 L1058.5,1216.31 L1059.0,1216.32 L1059.5,1216.33 L1060.0,1216.34 L1060.5,1216.34 L1061.0,1216.35 L1061.5,1216.35 L1062.0,1216.36 L1062.5,1216.36 L1063.0,1216.36 L1063.5,1216.36 L1064.0,1216.35 L1064.5,1216.35 L1065.0,1216.35 L1065.5,1216.34 L1066.0,1216.33 L1066.5,1216.32 L1067.0,1216.32 L1067.5,1216.30 L1068.0,1216.29 L1068.5,1216.28 L1069.0,1216.26 L1069.5,1216.24 L1070.0,1216.22 L1070.5,1216.20 L1071.0,1216.18 L1071.5,1216.15 L1072.0,1216.12 L1072.5,1216.09 L1073.0,1216.05 L1073.5,1216.01 L1074.0,1215.96 L1074.5,1215.91 L1075.0,1215.85 L1075.5,1215.78 L1076.0,1215.71 L1076.5,1215.62 L1077.0,1215.53 L1077.5,1215.42 L1078.0,1215.29 L1078.5,1215.15 L1079.0,1214.98 L1079.5,1214.79 L1080.0,1214.56 L1080.5,1214.30 L1081.0,1213.99 L1081.5,1213.62 L1082.0,1213.18 L1082.5,1212.65 L1083.0,1212.01 L1083.5,1211.26 L1084.0,1210.35 L1084.5,1209.30 L1085.0,1208.09 L1085.5,1206.79 L1086.0,1205.48 L1086.5,1204.35 L1087.0,1203.60 L1087.5,1203.41 L1088.0,1203.84 L1088.5,1204.76 L1089.0,1205.99 L1089.5,1207.32 L1090.0,1208.59 L1090.5,1209.74 L1091.0,1210.73 L1091.5,1211.57 L1092.0,1212.28 L1092.5,1212.87 L1093.0,1213.36 L1093.5,1213.77 L1094.0,1214.11 L1094.5,1214.41 L1095.0,1214.65 L1095.5,1214.86 L1096.0,1215.05 L1096.5,1215.20 L1097.0,1215.34 L1097.5,1215.45 L1098.0,1215.56 L1098.5,1215.65 L1099.0,1215.73 L1099.5,1215.80 L1100.0,1215.86 L1100.5,1215.91 L1101.0,1215.96 L1101.5,1216.01 L1102.0,1216.05 L1102.5,1216.09 L1103.0,1216.12 L1103.5,1216.15 L1104.0,1216.18 L1104.5,1216.20 L1105.0,1216.22 L1105.5,1216.24 L1106.0,1216.26 L1106.5,1216.28 L1107.0,1216.30 L1107.5,1216.31 L1108.0,1216.32 L1108.5,1216.33 L1109.0,1216.34 L1109.5,1216.35 L1110.0,1216.36 L1110.5,1216.36 L1111.0,1216.36 L1111.5,1216.37 L1112.0,1216.37 L1112.5,1216.37 L1113.0,1216.37 L1113.5,1216.36 L1114.0,1216.36 L1114.5,1216.35 L1115.0,1216.34 L1115.5,1216.33 L1116.0,1216.31 L1116.5,1216.29 L1117.0,1216.27 L1117.5,1216.25 L1118.0,1216.23 L1118.5,1216.20 L1119.0,1216.16 L1119.5,1216.12 L1120.0,1216.08 L1120.5,1216.03 L1121.0,1215.98 L1121.5,1215.91 L1122.0,1215.84 L1122.5,1215.76 L1123.0,1215.68 L1123.5,1215.58 L1124.0,1215.46 L1124.5,1215.34 L1125.0,1215.19 L1125.5,1215.03 L1126.0,1214.85 L1126.5,1214.64 L1127.0,1214.40 L1127.5,1214.12 L1128.0,1213.80 L1128.5,1213.44 L1129.0,1213.02 L1129.5,1212.54 L1130.0,1211.97 L1130.5,1211.31 L1131.0,1210.55 L1131.5,1209.66 L1132.0,1208.62 L1132.5,1207.43 L1133.0,1206.06 L1133.5,1204.53 L1134.0,1202.87 L1134.5,1201.14 L1135.0,1199.46 L1135.5,1198.00 L1136.0,1196.96 L1136.5,1196.50 L1137.0,1196.71 L1137.5,1197.56 L1138.0,1198.90 L1138.5,1200.53 L1139.0,1202.28 L1139.5,1204.01 L1140.0,1205.62 L1140.5,1207.07 L1141.0,1208.35 L1141.5,1209.47 L1142.0,1210.44 L1142.5,1211.27 L1143.0,1211.99 L1143.5,1212.61 L1144.0,1213.15 L1144.5,1213.61 L1145.0,1214.02 L1145.5,1214.37 L1146.0,1214.68 L1146.5,1214.95 L1147.0,1215.19 L1147.5,1215.40 L1148.0,1215.59 L1148.5,1215.76 L1149.0,1215.90 L1149.5,1216.04 L1150.0,1216.16 L1150.5,1216.26 L1151.0,1216.36 L1151.5,1216.45 L1152.0,1216.53 L1152.5,1216.60 L1153.0,1216.66 L1153.5,1216.72 L1154.0,1216.78 L1154.5,1216.83 L1155.0,1216.87 L1155.5,1216.92 L1156.0,1216.95 L1156.5,1216.99 L1157.0,1217.02 L1157.5,1217.05 L1158.0,1217.08 L1158.5,1217.10 L1159.0,1217.12 L1159.5,1217.14 L1160.0,1217.16 L1160.5,1217.18 L1161.0,1217.19 L1161.5,1217.20 L1162.0,1217.22 L1162.5,1217.23 L1163.0,1217.24 L1163.5,1217.25 L1164.0,1217.25 L1164.5,1217.26 L1165.0,1217.26 L1165.5,1217.27 L1166.0,1217.27 L1166.5,1217.27 L1167.0,1217.27 L1167.5,1217.27 L1168.0,1217.27 L1168.5,1217.27 L1169.0,1217.27 L1169.5,1217.26 L1170.0,1217.26 L1170.5,1217.25 L1171.0,1217.25 L1171.5,1217.24 L1172.0,1217.23 L1172.5,1217.22 L1173.0,1217.21 L1173.5,1217.20 L1174.0,1217.19 L1174.5,1217.18 L1175.0,1217.17 L1175.5,1217.15 L1176.0,1217.14 L1176.5,1217.12 L1177.0,1217.10 L1177.5,1217.08 L1178.0,1217.06 L1178.5,1217.04 L1179.0,1217.02 L1179.5,1217.00 L1180.0,1216.97 L1180.5,1216.94 L1181.0,1216.91 L1181.5,1216.88 L1182.0,1216.85 L1182.5,1216.81 L1183.0,1216.78 L1183.5,1216.74 L1184.0,1216.70 L1184.5,1216.65 L1185.0,1216.60 L1185.5,1216.55 L1186.0,1216.50 L1186.5,1216.44 L1187.0,1216.38 L1187.5,1216.31 L1188.0,1216.24 L1188.5,1216.16 L1189.0,1216.08 L1189.5,1215.99 L1190.0,1215.89 L1190.5,1215.78 L1191.0,1215.67 L1191.5,1215.54 L1192.0,1215.41 L1192.5,1215.26 L1193.0,1215.09 L1193.5,1214.92 L1194.0,1214.72 L1194.5,1214.50 L1195.0,1214.26 L1195.5,1213.99 L1196.0,1213.70 L1196.5,1213.36 L1197.0,1212.99 L1197.5,1212.57 L1198.0,1212.09 L1198.5,1211.55 L1199.0,1210.94 L1199.5,1210.23 L1200.0,1209.42 L1200.5,1208.49 L1201.0,1207.42 L1201.5,1206.17 L1202.0,1204.72 L1202.5,1203.05 L1203.0,1201.13 L1203.5,1198.94 L1204.0,1196.49 L1204.5,1193.81 L1205.0,1191.01 L1205.5,1188.25 L1206.0,1185.79 L1206.5,1183.95 L1207.0,1182.99 L1207.5,1183.09 L1208.0,1184.23 L1208.5,1186.21 L1209.0,1188.73 L1209.5,1191.50 L1210.0,1194.28 L1210.5,1196.90 L1211.0,1199.29 L1211.5,1201.40 L1212.0,1203.25 L1212.5,1204.85 L1213.0,1206.22 L1213.5,1207.40 L1214.0,1208.42 L1214.5,1209.29 L1215.0,1210.03 L1215.5,1210.67 L1216.0,1211.22 L1216.5,1211.69 L1217.0,1212.10 L1217.5,1212.44 L1218.0,1212.73 L1218.5,1212.96 L1219.0,1213.15 L1219.5,1213.30 L1220.0,1213.40 L1220.5,1213.46 L1221.0,1213.48 L1221.5,1213.45 L1222.0,1213.37 L1222.5,1213.23 L1223.0,1213.03 L1223.5,1212.76 L1224.0,1212.41 L1224.5,1211.98 L1225.0,1211.46 L1225.5,1210.87 L1226.0,1210.24 L1226.5,1209.61 L1227.0,1209.06 L1227.5,1208.70 L1228.0,1208.59 L1228.5,1208.78 L1229.0,1209.24 L1229.5,1209.87 L1230.0,1210.60 L1230.5,1211.33 L1231.0,1212.02 L1231.5,1212.63 L1232.0,1213.16 L1232.5,1213.62 L1233.0,1214.01 L1233.5,1214.33 L1234.0,1214.59 L1234.5,1214.81 L1235.0,1214.99 L1235.5,1215.14 L1236.0,1215.26 L1236.5,1215.35 L1237.0,1215.41 L1237.5,1215.46 L1238.0,1215.49 L1238.5,1215.50 L1239.0,1215.49 L1239.5,1215.47 L1240.0,1215.43 L1240.5,1215.38 L1241.0,1215.31 L1241.5,1215.23 L1242.0,1215.13 L1242.5,1215.02 L1243.0,1214.89 L1243.5,1214.75 L1244.0,1214.58 L1244.5,1214.40 L1245.0,1214.19 L1245.5,1213.96 L1246.0,1213.71 L1246.5,1213.43 L1247.0,1213.12 L1247.5,1212.77 L1248.0,1212.40 L1248.5,1211.98 L1249.0,1211.52 L1249.5,1211.01 L1250.0,1210.45 L1250.5,1209.84 L1251.0,1209.16 L1251.5,1208.41 L1252.0,1207.58 L1252.5,1206.66 L1253.0,1205.64 L1253.5,1204.49 L1254.0,1203.19 L1254.5,1201.72 L1255.0,1200.03 L1255.5,1198.07 L1256.0,1195.81 L1256.5,1193.16 L1257.0,1190.05 L1257.5,1186.38 L1258.0,1182.05 L1258.5,1176.93 L1259.0,1170.88 L1259.5,1163.76 L1260.0,1155.48 L1260.5,1146.06 L1261.0,1135.68 L1261.5,1124.89 L1262.0,1114.65 L1262.5,1106.32 L1263.0,1101.37 L1263.5,1100.85 L1264.0,1104.85 L1264.5,1112.50 L1265.0,1122.35 L1265.5,1133.00 L1266.0,1143.39 L1266.5,1152.91 L1267.0,1161.29 L1267.5,1168.50 L1268.0,1174.63 L1268.5,1179.79 L1269.0,1184.12 L1269.5,1187.75 L1270.0,1190.80 L1270.5,1193.35 L1271.0,1195.50 L1271.5,1197.29 L1272.0,1198.78 L1272.5,1200.01 L1273.0,1201.02 L1273.5,1201.82 L1274.0,1202.44 L1274.5,1202.89 L1275.0,1203.17 L1275.5,1203.29 L1276.0,1203.24 L1276.5,1203.02 L1277.0,1202.61 L1277.5,1202.00 L1278.0,1201.17 L1278.5,1200.09 L1279.0,1198.74 L1279.5,1197.11 L1280.0,1195.18 L1280.5,1192.99 L1281.0,1190.64 L1281.5,1188.31 L1282.0,1186.24 L1282.5,1184.78 L1283.0,1184.19 L1283.5,1184.64 L1284.0,1186.05 L1284.5,1188.18 L1285.0,1190.72 L1285.5,1193.38 L1286.0,1195.95 L1286.5,1198.30 L1287.0,1200.39 L1287.5,1202.20 L1288.0,1203.76 L1288.5,1205.10 L1289.0,1206.23 L1289.5,1207.19 L1290.0,1208.01 L1290.5,1208.70 L1291.0,1209.29 L1291.5,1209.78 L1292.0,1210.18 L1292.5,1210.51 L1293.0,1210.77 L1293.5,1210.95 L1294.0,1211.06 L1294.5,1211.10 L1295.0,1211.06 L1295.5,1210.94 L1296.0,1210.75 L1296.5,1210.51 L1297.0,1210.30 L1297.5,1210.19 L1298.0,1210.27 L1298.5,1210.53 L1299.0,1210.92 L1299.5,1211.35 L1300.0,1211.74 L1300.5,1212.08 L1301.0,1212.34 L1301.5,1212.52 L1302.0,1212.63 L1302.5,1212.67 L1303.0,1212.65 L1303.5,1212.55 L1304.0,1212.37 L1304.5,1212.11 L1305.0,1211.74 L1305.5,1211.25 L1306.0,1210.64 L1306.5,1209.92 L1307.0,1209.13 L1307.5,1208.39 L1308.0,1207.86 L1308.5,1207.70 L1309.0,1208.00 L1309.5,1208.67 L1310.0,1209.55 L1310.5,1210.48 L1311.0,1211.35 L1311.5,1212.12 L1312.0,1212.77 L1312.5,1213.31 L1313.0,1213.76 L1313.5,1214.13 L1314.0,1214.45 L1314.5,1214.71 L1315.0,1214.94 L1315.5,1215.14 L1316.0,1215.31 L1316.5,1215.46 L1317.0,1215.60 L1317.5,1215.72 L1318.0,1215.83 L1318.5,1215.92 L1319.0,1216.01 L1319.5,1216.10 L1320.0,1216.17 L1320.5,1216.24 L1321.0,1216.31 L1321.5,1216.37 L1322.0,1216.43 L1322.5,1216.48 L1323.0,1216.53 L1323.5,1216.58 L1324.0,1216.63 L1324.5,1216.67 L1325.0,1216.71 L1325.5,1216.74 L1326.0,1216.78 L1326.5,1216.81 L1327.0,1216.84 L1327.5,1216.87 L1328.0,1216.89 L1328.5,1216.91 L1329.0,1216.93 L1329.5,1216.94 L1330.0,1216.96 L1330.5,1216.97 L1331.0,1216.97 L1331.5,1216.97 L1332.0,1216.97 L1332.5,1216.97 L1333.0,1216.96 L1333.5,1216.95 L1334.0,1216.93 L1334.5,1216.90 L1335.0,1216.87 L1335.5,1216.84 L1336.0,1216.80 L1336.5,1216.74 L1337.0,1216.69 L1337.5,1216.62 L1338.0,1216.54 L1338.5,1216.45 L1339.0,1216.34 L1339.5,1216.22 L1340.0,1216.09 L1340.5,1215.93 L1341.0,1215.75 L1341.5,1215.55 L1342.0,1215.31 L1342.5,1215.04 L1343.0,1214.73 L1343.5,1214.38 L1344.0,1213.96 L1344.5,1213.48 L1345.0,1212.93 L1345.5,1212.28 L1346.0,1211.53 L1346.5,1210.64 L1347.0,1209.62 L1347.5,1208.43 L1348.0,1207.06 L1348.5,1205.52 L1349.0,1203.82 L1349.5,1202.02 L1350.0,1200.24 L1350.5,1198.63 L1351.0,1197.41 L1351.5,1196.76 L1352.0,1196.81 L1352.5,1197.53 L1353.0,1198.80 L1353.5,1200.41 L1354.0,1202.16 L1354.5,1203.90 L1355.0,1205.53 L1355.5,1206.99 L1356.0,1208.27 L1356.5,1209.38 L1357.0,1210.33 L1357.5,1211.13 L1358.0,1211.82 L1358.5,1212.39 L1359.0,1212.88 L1359.5,1213.30 L1360.0,1213.64 L1360.5,1213.93 L1361.0,1214.18 L1361.5,1214.38 L1362.0,1214.54 L1362.5,1214.67 L1363.0,1214.77 L1363.5,1214.85 L1364.0,1214.90 L1364.5,1214.93 L1365.0,1214.94 L1365.5,1214.93 L1366.0,1214.90 L1366.5,1214.85 L1367.0,1214.78 L1367.5,1214.70 L1368.0,1214.59 L1368.5,1214.47 L1369.0,1214.32 L1369.5,1214.15 L1370.0,1213.96 L1370.5,1213.74 L1371.0,1213.49 L1371.5,1213.22 L1372.0,1212.91 L1372.5,1212.56 L1373.0,1212.17 L1373.5,1211.73 L1374.0,1211.24 L1374.5,1210.69 L1375.0,1210.06 L1375.5,1209.36 L1376.0,1208.56 L1376.5,1207.66 L1377.0,1206.63 L1377.5,1205.45 L1378.0,1204.11 L1378.5,1202.55 L1379.0,1200.76 L1379.5,1198.68 L1380.0,1196.27 L1380.5,1193.47 L1381.0,1190.21 L1381.5,1186.42 L1382.0,1182.05 L1382.5,1177.07 L1383.0,1171.48 L1383.5,1165.39 L1384.0,1159.04 L1384.5,1152.88 L1385.0,1147.51 L1385.5,1143.66 L1386.0,1141.95 L1386.5,1142.69 L1387.0,1145.76 L1387.5,1150.61 L1388.0,1156.54 L1388.5,1162.88 L1389.0,1169.12 L1389.5,1174.94 L1390.0,1180.17 L1390.5,1184.79 L1391.0,1188.81 L1391.5,1192.28 L1392.0,1195.26 L1392.5,1197.83 L1393.0,1200.04 L1393.5,1201.95 L1394.0,1203.61 L1394.5,1205.04 L1395.0,1206.29 L1395.5,1207.39 L1396.0,1208.35 L1396.5,1209.20 L1397.0,1209.95 L1397.5,1210.62 L1398.0,1211.21 L1398.5,1211.75 L1399.0,1212.22 L1399.5,1212.65 L1400.0,1213.03 L1400.5,1213.38 L1401.0,1213.70 L1401.5,1213.98 L1402.0,1214.24 L1402.5,1214.48 L1403.0,1214.69 L1403.5,1214.89 L1404.0,1215.06 L1404.5,1215.23 L1405.0,1215.37 L1405.5,1215.51 L1406.0,1215.63 L1406.5,1215.74 L1407.0,1215.84 L1407.5,1215.94 L1408.0,1216.02 L1408.5,1216.09 L1409.0,1216.16 L1409.5,1216.22 L1410.0,1216.27 L1410.5,1216.31 L1411.0,1216.35 L1411.5,1216.38 L1412.0,1216.40 L1412.5,1216.42 L1413.0,1216.43 L1413.5,1216.44 L1414.0,1216.43 L1414.5,1216.43 L1415.0,1216.41 L1415.5,1216.39 L1416.0,1216.36 L1416.5,1216.32 L1417.0,1216.27 L1417.5,1216.22 L1418.0,1216.15 L1418.5,1216.08 L1419.0,1215.99 L1419.5,1215.90 L1420.0,1215.78 L1420.5,1215.66 L1421.0,1215.51 L1421.5,1215.35 L1422.0,1215.17 L1422.5,1214.96 L1423.0,1214.73 L1423.5,1214.47 L1424.0,1214.16 L1424.5,1213.82 L1425.0,1213.43 L1425.5,1212.98 L1426.0,1212.46 L1426.5,1211.86 L1427.0,1211.16 L1427.5,1210.35 L1428.0,1209.38 L1428.5,1208.24 L1429.0,1206.87 L1429.5,1205.22 L1430.0,1203.22 L1430.5,1200.77 L1431.0,1197.74 L1431.5,1193.99 L1432.0,1189.32 L1432.5,1183.53 L1433.0,1176.47 L1433.5,1168.13 L1434.0,1158.93 L1434.5,1149.98 L1435.0,1143.18 L1435.5,1140.60 L1436.0,1143.16 L1436.5,1149.93 L1437.0,1158.86 L1437.5,1168.03 L1438.0,1176.34 L1438.5,1183.38 L1439.0,1189.14 L1439.5,1193.78 L1440.0,1197.51 L1440.5,1200.50 L1441.0,1202.93 L1441.5,1204.90 L1442.0,1206.52 L1442.5,1207.85 L1443.0,1208.96 L1443.5,1209.89 L1444.0,1210.67 L1444.5,1211.33 L1445.0,1211.89 L1445.5,1212.36 L1446.0,1212.76 L1446.5,1213.11 L1447.0,1213.40 L1447.5,1213.65 L1448.0,1213.85 L1448.5,1214.03 L1449.0,1214.17 L1449.5,1214.28 L1450.0,1214.37 L1450.5,1214.43 L1451.0,1214.48 L1451.5,1214.50 L1452.0,1214.50 L1452.5,1214.48 L1453.0,1214.45 L1453.5,1214.39 L1454.0,1214.32 L1454.5,1214.22 L1455.0,1214.11 L1455.5,1213.98 L1456.0,1213.82 L1456.5,1213.65 L1457.0,1213.45 L1457.5,1213.23 L1458.0,1212.98 L1458.5,1212.71 L1459.0,1212.40 L1459.5,1212.07 L1460.0,1211.69 L1460.5,1211.29 L1461.0,1210.84 L1461.5,1210.36 L1462.0,1209.83 L1462.5,1209.26 L1463.0,1208.64 L1463.5,1207.98 L1464.0,1207.27 L1464.5,1206.53 L1465.0,1205.74 L1465.5,1204.93 L1466.0,1204.11 L1466.5,1203.29 L1467.0,1202.49 L1467.5,1201.73 L1468.0,1201.05 L1468.5,1200.45 L1469.0,1199.98 L1469.5,1199.64 L1470.0,1199.46 L1470.5,1199.42 L1471.0,1199.54 L1471.5,1199.79 L1472.0,1200.15 L1472.5,1200.60 L1473.0,1201.11 L1473.5,1201.66 L1474.0,1202.21 L1474.5,1202.75 L1475.0,1203.26 L1475.5,1203.71 L1476.0,1204.11 L1476.5,1204.44 L1477.0,1204.70 L1477.5,1204.87 L1478.0,1204.95 L1478.5,1204.94 L1479.0,1204.83 L1479.5,1204.62 L1480.0,1204.29 L1480.5,1203.85 L1481.0,1203.28 L1481.5,1202.57 L1482.0,1201.71 L1482.5,1200.70 L1483.0,1199.52 L1483.5,1198.16 L1484.0,1196.64 L1484.5,1194.96 L1485.0,1193.14 L1485.5,1191.23 L1486.0,1189.30 L1486.5,1187.44 L1487.0,1185.78 L1487.5,1184.45 L1488.0,1183.58 L1488.5,1183.26 L1489.0,1183.55 L1489.5,1184.41 L1490.0,1185.79 L1490.5,1187.54 L1491.0,1189.56 L1491.5,1191.70 L1492.0,1193.85 L1492.5,1195.95 L1493.0,1197.94 L1493.5,1199.79 L1494.0,1201.48 L1494.5,1203.02 L1495.0,1204.40 L1495.5,1205.65 L1496.0,1206.76 L1496.5,1207.75 L1497.0,1208.64 L1497.5,1209.43 L1498.0,1210.14 L1498.5,1210.77 L1499.0,1211.34 L1499.5,1211.85 L1500.0,1212.30 L1500.5,1212.71 L1501.0,1213.08 L1501.5,1213.41 L1502.0,1213.71 L1502.5,1213.98 L1503.0,1214.22 L1503.5,1214.44 L1504.0,1214.63 L1504.5,1214.80 L1505.0,1214.95 L1505.5,1215.08 L1506.0,1215.19 L1506.5,1215.29 L1507.0,1215.37 L1507.5,1215.43 L1508.0,1215.48 L1508.5,1215.51 L1509.0,1215.52 L1509.5,1215.51 L1510.0,1215.49 L1510.5,1215.45 L1511.0,1215.38 L1511.5,1215.29 L1512.0,1215.18 L1512.5,1215.04 L1513.0,1214.87 L1513.5,1214.67 L1514.0,1214.43 L1514.5,1214.14 L1515.0,1213.80 L1515.5,1213.40 L1516.0,1212.94 L1516.5,1212.40 L1517.0,1211.76 L1517.5,1211.03 L1518.0,1210.16 L1518.5,1209.16 L1519.0,1208.00 L1519.5,1206.67 L1520.0,1205.15 L1520.5,1203.44 L1521.0,1201.58 L1521.5,1199.62 L1522.0,1197.66 L1522.5,1195.86 L1523.0,1194.41 L1523.5,1193.52 L1524.0,1193.31 L1524.5,1193.84 L1525.0,1195.00 L1525.5,1196.64 L1526.0,1198.55 L1526.5,1200.56 L1527.0,1202.52 L1527.5,1204.35 L1528.0,1206.01 L1528.5,1207.47 L1529.0,1208.76 L1529.5,1209.87 L1530.0,1210.83 L1530.5,1211.65 L1531.0,1212.36 L1531.5,1212.96 L1532.0,1213.48 L1532.5,1213.91 L1533.0,1214.28 L1533.5,1214.58 L1534.0,1214.84 L1534.5,1215.04 L1535.0,1215.20 L1535.5,1215.32 L1536.0,1215.41 L1536.5,1215.45 L1537.0,1215.47 L1537.5,1215.44 L1538.0,1215.39 L1538.5,1215.30 L1539.0,1215.18 L1539.5,1215.02 L1540.0,1214.82 L1540.5,1214.59 L1541.0,1214.32 L1541.5,1214.00 L1542.0,1213.64 L1542.5,1213.23 L1543.0,1212.78 L1543.5,1212.28 L1544.0,1211.73 L1544.5,1211.13 L1545.0,1210.50 L1545.5,1209.83 L1546.0,1209.15 L1546.5,1208.47 L1547.0,1207.81 L1547.5,1207.20 L1548.0,1206.67 L1548.5,1206.26 L1549.0,1205.97 L1549.5,1205.85 L1550.0,1205.88 L1550.5,1206.08 L1551.0,1206.41 L1551.5,1206.87 L1552.0,1207.42 L1552.5,1208.03 L1553.0,1208.67 L1553.5,1209.32 L1554.0,1209.96 L1554.5,1210.57 L1555.0,1211.15 L1555.5,1211.68 L1556.0,1212.16 L1556.5,1212.60 L1557.0,1212.98 L1557.5,1213.32 L1558.0,1213.61 L1558.5,1213.86 L1559.0,1214.07 L1559.5,1214.24 L1560.0,1214.38 L1560.5,1214.48 L1561.0,1214.54 L1561.5,1214.58 L1562.0,1214.58 L1562.5,1214.56 L1563.0,1214.50 L1563.5,1214.42 L1564.0,1214.31 L1564.5,1214.17 L1565.0,1214.01 L1565.5,1213.81 L1566.0,1213.59 L1566.5,1213.34 L1567.0,1213.06 L1567.5,1212.75 L1568.0,1212.41 L1568.5,1212.04 L1569.0,1211.63 L1569.5,1211.19 L1570.0,1210.72 L1570.5,1210.22 L1571.0,1209.69 L1571.5,1209.14 L1572.0,1208.56 L1572.5,1207.96 L1573.0,1207.36 L1573.5,1206.75 L1574.0,1206.15 L1574.5,1205.56 L1575.0,1205.01 L1575.5,1204.51 L1576.0,1204.07 L1576.5,1203.69 L1577.0,1203.39 L1577.5,1203.18 L1578.0,1203.06 L1578.5,1203.01 L1579.0,1203.05 L1579.5,1203.15 L1580.0,1203.30 L1580.5,1203.49 L1581.0,1203.70 L1581.5,1203.91 L1582.0,1204.11 L1582.5,1204.27 L1583.0,1204.39 L1583.5,1204.46 L1584.0,1204.44 L1584.5,1204.35 L1585.0,1204.15 L1585.5,1203.85 L1586.0,1203.43 L1586.5,1202.89 L1587.0,1202.23 L1587.5,1201.45 L1588.0,1200.58 L1588.5,1199.66 L1589.0,1198.74 L1589.5,1197.91 L1590.0,1197.27 L1590.5,1196.91 L1591.0,1196.89 L1591.5,1197.26 L1592.0,1197.97 L1592.5,1198.97 L1593.0,1200.16 L1593.5,1201.44 L1594.0,1202.75 L1594.5,1204.01 L1595.0,1205.19 L1595.5,1206.27 L1596.0,1207.25 L1596.5,1208.12 L1597.0,1208.89 L1597.5,1209.57 L1598.0,1210.16 L1598.5,1210.68 L1599.0,1211.13 L1599.5,1211.51 L1600.0,1211.84 L1600.5,1212.12 L1601.0,1212.36 L1601.5,1212.55 L1602.0,1212.70 L1602.5,1212.81 L1603.0,1212.88 L1603.5,1212.90 L1604.0,1212.88 L1604.5,1212.82 L1605.0,1212.71 L1605.5,1212.56 L1606.0,1212.39 L1606.5,1212.20 L1607.0,1212.02 L1607.5,1211.89 L1608.0,1211.85 L1608.5,1211.93 L1609.0,1212.12 L1609.5,1212.42 L1610.0,1212.80 L1610.5,1213.21 L1611.0,1213.63 L1611.5,1214.03 L1612.0,1214.41 L1612.5,1214.75 L1613.0,1215.05 L1613.5,1215.32 L1614.0,1215.55 L1614.5,1215.76 L1615.0,1215.95 L1615.5,1216.11 L1616.0,1216.25 L1616.5,1216.38 L1617.0,1216.49 L1617.5,1216.58 L1618.0,1216.66 L1618.5,1216.73 L1619.0,1216.79 L1619.5,1216.84 L1620.0,1216.87 L1620.5,1216.89 L1621.0,1216.90 L1621.5,1216.90 L1622.0,1216.88 L1622.5,1216.86 L1623.0,1216.81 L1623.5,1216.76 L1624.0,1216.68 L1624.5,1216.60 L1625.0,1216.49 L1625.5,1216.36 L1626.0,1216.22 L1626.5,1216.04 L1627.0,1215.85 L1627.5,1215.63 L1628.0,1215.37 L1628.5,1215.09 L1629.0,1214.77 L1629.5,1214.41 L1630.0,1214.01 L1630.5,1213.56 L1631.0,1213.05 L1631.5,1212.50 L1632.0,1211.88 L1632.5,1211.19 L1633.0,1210.43 L1633.5,1209.60 L1634.0,1208.68 L1634.5,1207.68 L1635.0,1206.60 L1635.5,1205.42 L1636.0,1204.16 L1636.5,1202.83 L1637.0,1201.44 L1637.5,1200.02 L1638.0,1198.58 L1638.5,1197.19 L1639.0,1195.87 L1639.5,1194.69 L1640.0,1193.70 L1640.5,1192.96 L1641.0,1192.52 L1641.5,1192.40 L1642.0,1192.62 L1642.5,1193.16 L1643.0,1193.99 L1643.5,1195.07 L1644.0,1196.35 L1644.5,1197.76 L1645.0,1199.25 L1645.5,1200.77 L1646.0,1202.29 L1646.5,1203.76 L1647.0,1205.18 L1647.5,1206.52 L1648.0,1207.78 L1648.5,1208.94 L1649.0,1210.02 L1649.5,1211.01 L1650.0,1211.91 L1650.5,1212.73 L1651.0,1213.48 L1651.5,1214.17 L1652.0,1214.79 L1652.5,1215.35 L1653.0,1215.86 L1653.5,1216.33 L1654.0,1216.74 L1654.5,1217.12 L1655.0,1217.46 L1655.5,1217.76 L1656.0,1218.03 L1656.5,1218.27 L1657.0,1218.48 L1657.5,1218.67 L1658.0,1218.82 L1658.5,1218.96 L1659.0,1219.07 L1659.5,1219.16 L1660.0,1219.22 L1660.5,1219.26 L1661.0,1219.29 L1661.5,1219.29 L1662.0,1219.27 L1662.5,1219.22 L1663.0,1219.15 L1663.5,1219.06 L1664.0,1218.95 L1664.5,1218.81 L1665.0,1218.64 L1665.5,1218.44 L1666.0,1218.21 L1666.5,1217.95 L1667.0,1217.66 L1667.5,1217.33 L1668.0,1216.97 L1668.5,1216.57 L1669.0,1216.14 L1669.5,1215.68 L1670.0,1215.19 L1670.5,1214.68 L1671.0,1214.16 L1671.5,1213.65 L1672.0,1213.16 L1672.5,1212.72 L1673.0,1212.33 L1673.5,1212.03 L1674.0,1211.83 L1674.5,1211.75 L1675.0,1211.78 L1675.5,1211.93 L1676.0,1212.19 L1676.5,1212.53 L1677.0,1212.95 L1677.5,1213.42 L1678.0,1213.92 L1678.5,1214.44 L1679.0,1214.95 L1679.5,1215.44 L1680.0,1215.92 L1680.5,1216.36 L1681.0,1216.77 L1681.5,1217.16 L1682.0,1217.50 L1682.5,1217.82 L1683.0,1218.10 L1683.5,1218.36 L1684.0,1218.58 L1684.5,1218.78 L1685.0,1218.96 L1685.5,1219.11 L1686.0,1219.24 L1686.5,1219.35 L1687.0,1219.44 L1687.5,1219.51 L1688.0,1219.57 L1688.5,1219.61 L1689.0,1219.63 L1689.5,1219.64 L1690.0,1219.64 L1690.5,1219.62 L1691.0,1219.59 L1691.5,1219.55 L1692.0,1219.49 L1692.5,1219.43 L1693.0,1219.34 L1693.5,1219.25 L1694.0,1219.14 L1694.5,1219.02 L1695.0,1218.88 L1695.5,1218.73 L1696.0,1218.57 L1696.5,1218.40 L1697.0,1218.21 L1697.5,1218.01 L1698.0,1217.80 L1698.5,1217.58 L1699.0,1217.34 L1699.5,1217.10 L1700.0,1216.86 L1700.5,1216.61 L1701.0,1216.35 L1701.5,1216.11 L1702.0,1215.87 L1702.5,1215.64 L1703.0,1215.43 L1703.5,1215.25 L1704.0,1215.09 L1704.5,1214.96 L1705.0,1214.87 L1705.5,1214.82 L1706.0,1214.81 L1706.5,1214.84 L1707.0,1214.91 L1707.5,1215.02 L1708.0,1215.16 L1708.5,1215.33 L1709.0,1215.53 L1709.5,1215.76 L1710.0,1215.99 L1710.5,1216.24 L1711.0,1216.50 L1711.5,1216.75 L1712.0,1217.01 L1712.5,1217.26 L1713.0,1217.51 L1713.5,1217.75 L1714.0,1217.97 L1714.5,1218.19 L1715.0,1218.40 L1715.5,1218.59 L1716.0,1218.77 L1716.5,1218.94 L1717.0,1219.10 L1717.5,1219.25 L1718.0,1219.38 L1718.5,1219.51 L1719.0,1219.62 L1719.5,1219.72 L1720.0,1219.81 L1720.5,1219.89 L1721.0,1219.96 L1721.5,1220.02 L1722.0,1220.07 L1722.5,1220.11 L1723.0,1220.15 L1723.5,1220.17 L1724.0,1220.18 L1724.5,1220.18 L1725.0,1220.17 L1725.5,1220.15 L1726.0,1220.12 L1726.5,1220.07 L1727.0,1220.01 L1727.5,1219.94 L1728.0,1219.85 L1728.5,1219.74 L1729.0,1219.62 L1729.5,1219.47 L1730.0,1219.29 L1730.5,1219.09 L1731.0,1218.87 L1731.5,1218.60 L1732.0,1218.30 L1732.5,1217.96 L1733.0,1217.58 L1733.5,1217.15 L1734.0,1216.68 L1734.5,1216.16 L1735.0,1215.61 L1735.5,1215.04 L1736.0,1214.46 L1736.5,1213.90 L1737.0,1213.41 L1737.5,1213.01 L1738.0,1212.75 L1738.5,1212.64 L1739.0,1212.72 L1739.5,1212.96 L1740.0,1213.35 L1740.5,1213.86 L1741.0,1214.44 L1741.5,1215.05 L1742.0,1215.67 L1742.5,1216.28 L1743.0,1216.86 L1743.5,1217.39 L1744.0,1217.88 L1744.5,1218.33 L1745.0,1218.73 L1745.5,1219.09 L1746.0,1219.42 L1746.5,1219.71 L1747.0,1219.97 L1747.5,1220.20 L1748.0,1220.42 L1748.5,1220.61 L1749.0,1220.78 L1749.5,1220.93 L1750.0,1221.07 L1750.5,1221.20 L1751.0,1221.32 L1751.5,1221.43 L1752.0,1221.52 L1752.5,1221.61 L1753.0,1221.70 L1753.5,1221.77 L1754.0,1221.84 L1754.5,1221.91 L1755.0,1221.97 L1755.5,1222.03 L1756.0,1222.08 L1756.5,1222.13 L1757.0,1222.18 L1757.5,1222.22 L1758.0,1222.26 L1758.5,1222.30 L1759.0,1222.33 L1759.5,1222.37 L1760.0,1222.40 L1760.5,1222.43 L1761.0,1222.46 L1761.5,1222.48 L1762.0,1222.51 L1762.5,1222.53 L1763.0,1222.56 L1763.5,1222.58 L1764.0,1222.60 L1764.5,1222.62 L1765.0,1222.64 L1765.5,1222.66 L1766.0,1222.68 L1766.5,1222.69 L1767.0,1222.71 L1767.5,1222.73 L1768.0,1222.74 L1768.5,1222.76 L1769.0,1222.77 L1769.5,1222.78 L1770.0,1222.80 L1770.5,1222.81 L1771.0,1222.82 L1771.5,1222.83 L1772.0,1222.84 L1772.5,1222.85 L1773.0,1222.86 L1773.5,1222.87 L1774.0,1222.88 L1774.5,1222.89 L1775.0,1222.90 L1775.5,1222.91 L1776.0,1222.92 L1776.5,1222.93 L1777.0,1222.94 L1777.5,1222.95" fill="none" stroke="#f00" stroke-width="4.3" stroke-linejoin="round" stroke-linecap="butt"/>
<g stroke="#111" stroke-width="1.5" stroke-dasharray="1.25 1.25" fill="none">
<path d="M344.5,364.80V699.80M473.6,330.80V700.80M520.3,356.50V699.00M551.7,190.00V700.00M616.4,381.00V701.00M632.7,310.70V700.70M642.2,422.60V700.10M669.1,379.90V699.90M860.3,428.70V701.20M878.5,269.20V699.20M904.0,337.50V700.00M924.6,493.70V701.20M943.1,561.00V701.00M957.5,556.00V701.00M978.2,484.00V699.00M993.6,415.70V700.70M1005.7,478.50V701.00M1090.0,540.00V700.00M1140.6,540.00V700.00M1148.8,481.00V701.00M1181.2,482.00V699.50M1210.9,518.30V700.80M1267.5,483.00V700.50M1277.0,447.80V700.30M1288.8,490.30V700.30M1297.5,574.30V699.30M1354.0,515.80V700.80M1389.9,488.20V700.70M1438.7,525.60V700.60M1453.8,510.00V700.00M1488.8,491.40V698.90M1527.8,526.60V699.10M1578.5,575.40V700.40M1598.9,522.50V700.00M1646.9,508.00V700.50"/>
<path stroke-width="1.9" d="M822.1,315V700.00M892.3,437V699.50"/>
</g>
<g stroke="#000" stroke-width="3.5" fill="none" stroke-linecap="butt">
<path d="M193.7,213.4H211 M209.2,211.7V620.3 M193.7,364.6H209 M193.7,514.6H209"/>
<path d="M206.1,821.1V1230.9 M190.4,883.8H206 M190.4,1005H206 M190.4,1126H206"/>
<path d="M203.8,1314H1782"/>
</g>
<g stroke="#000" fill="none">
<path d="M254.9,1314V1323" stroke-width="2.9"/>
<path d="M353.3,1314V1323" stroke-width="2.9"/>
<path d="M451.7,1314V1323" stroke-width="2.9"/>
<path d="M550.1,1314V1329.8" stroke-width="3.6"/>
<path d="M648.5,1314V1323" stroke-width="2.9"/>
<path d="M746.9,1314V1323" stroke-width="2.9"/>
<path d="M845.3,1314V1323" stroke-width="2.9"/>
<path d="M943.7,1314V1323" stroke-width="2.9"/>
<path d="M1042.1,1314V1329.8" stroke-width="3.6"/>
<path d="M1140.5,1314V1323" stroke-width="2.9"/>
<path d="M1238.9,1314V1323" stroke-width="2.9"/>
<path d="M1337.3,1314V1323" stroke-width="2.9"/>
<path d="M1435.7,1314V1323" stroke-width="2.9"/>
<path d="M1534.1,1314V1329.8" stroke-width="3.6"/>
<path d="M1632.5,1314V1323" stroke-width="2.9"/>
<path d="M1730.9,1314V1323" stroke-width="2.9"/>
</g>
<text transform="translate(69.19,229.20) scale(0.9607,1)" font-size="46.30">30</text>
<text transform="translate(119.33,229.20) scale(0.9594,1)" font-size="46.30">000</text>
<text transform="translate(69.19,380.40) scale(0.9607,1)" font-size="46.30">20</text>
<text transform="translate(119.33,380.40) scale(0.9594,1)" font-size="46.30">000</text>
<text transform="translate(69.19,530.40) scale(0.9607,1)" font-size="46.30">10</text>
<text transform="translate(119.33,530.40) scale(0.9594,1)" font-size="46.30">000</text>
<text transform="translate(69.19,899.60) scale(0.9607,1)" font-size="46.30">60</text>
<text transform="translate(119.33,899.60) scale(0.9594,1)" font-size="46.30">000</text>
<text transform="translate(69.19,1020.80) scale(0.9607,1)" font-size="46.30">40</text>
<text transform="translate(119.33,1020.80) scale(0.9594,1)" font-size="46.30">000</text>
<text transform="translate(69.19,1141.80) scale(0.9607,1)" font-size="46.30">20</text>
<text transform="translate(119.33,1141.80) scale(0.9594,1)" font-size="46.30">000</text>
<text transform="translate(524.90,1366.60) scale(0.9335,1)" font-size="45.30">10</text>
<text transform="translate(1016.39,1366.60) scale(0.9934,1)" font-size="45.30">20</text>
<text transform="translate(1508.05,1366.60) scale(0.9988,1)" font-size="45.30">30</text>
<text transform="translate(932.47,1445.50) scale(0.9370,1)" font-size="54.60">°2θ</text>
<text transform="translate(37.3,576.0) rotate(-90) scale(0.9775,1)" font-size="52">Intensity (arb. unity)</text>
<text transform="translate(37.3,1176.5) rotate(-90) scale(0.9775,1)" font-size="52">Intensity (arb. unity)</text>
<text transform="translate(1801.69,524.80) scale(0.9902,1)" font-size="44.60">Pisolitic core</text>
<text transform="translate(1862.82,580.40) scale(0.9922,1)" font-size="44.60">(grain)</text>
<text transform="translate(1801.59,1200.30) scale(0.9902,1)" font-size="44.6">Pisolitic cortex</text>
<text transform="translate(1879.51,1255.00) scale(0.9964,1)" font-size="44.60">(grain)</text>
<text transform="translate(355.00,345.97) rotate(-90) scale(1.0185,1)" font-size="34.81" xml:space="preserve"><tspan font-weight="normal">Kt</tspan></text>
<text transform="translate(486.23,301.06) rotate(-90) scale(0.9316,1)" font-size="37.47" xml:space="preserve"><tspan font-weight="bold">Gt (020)</tspan></text>
<text transform="translate(528.20,330.75) rotate(-90) scale(0.9541,1)" font-size="36.18" xml:space="preserve"><tspan font-weight="normal">Kt</tspan></text>
<text transform="translate(563.20,174.28) rotate(-90) scale(0.9031,1)" font-size="39.39" xml:space="preserve"><tspan font-weight="normal">Kt, </tspan><tspan font-weight="bold">Gt (110)</tspan></text>
<text transform="translate(605.80,347.22) rotate(-90) scale(0.9466,1)" font-size="37.25" xml:space="preserve"><tspan font-weight="bold">Hm (102)</tspan></text>
<text transform="translate(648.30,294.35) rotate(-90) scale(0.9692,1)" font-size="35.73" xml:space="preserve"><tspan font-weight="normal">Kt</tspan></text>
<text transform="translate(660.50,415.32) rotate(-90) scale(0.9186,1)" font-size="34.55" xml:space="preserve"><tspan font-weight="normal">An</tspan></text>
<text transform="translate(682.94,366.24) rotate(-90) scale(0.9943,1)" font-size="36.13" xml:space="preserve"><tspan font-weight="normal">Gt, Kt</tspan></text>
<text transform="translate(831.01,291.82) rotate(-90) scale(0.8979,1)" font-size="39.41" xml:space="preserve"><tspan font-weight="normal">Gt, Hm</tspan></text>
<text transform="translate(869.39,422.83) rotate(-90) scale(0.9415,1)" font-size="40.59" xml:space="preserve"><tspan font-weight="normal">Gt</tspan></text>
<text transform="translate(891.60,259.38) rotate(-90) scale(0.9392,1)" font-size="38.02" xml:space="preserve"><tspan font-weight="normal">Kt, </tspan><tspan font-weight="bold">Hm (110)</tspan></text>
<text transform="translate(910.48,326.42) rotate(-90) scale(0.9664,1)" font-size="41.93" xml:space="preserve"><tspan font-weight="normal">Gt</tspan></text>
<text transform="translate(959.61,314.38) rotate(-90) scale(0.8991,1)" font-size="39.41" xml:space="preserve"><tspan font-weight="bold">Gt (111)</tspan></text>
<text transform="translate(939.10,459.71) rotate(-90) scale(0.8823,1)" font-size="35.30" xml:space="preserve"><tspan font-weight="normal">An</tspan></text>
<text transform="translate(958.50,520.09) rotate(-90) scale(1.0155,1)" font-size="35.42" xml:space="preserve"><tspan font-weight="normal">Kt</tspan></text>
<text transform="translate(989.59,480.06) rotate(-90) scale(0.9621,1)" font-size="40.59" xml:space="preserve"><tspan font-weight="normal">Gt</tspan></text>
<text transform="translate(1006.60,406.45) rotate(-90) scale(0.9802,1)" font-size="35.42" xml:space="preserve"><tspan font-weight="normal">Hm</tspan></text>
<text transform="translate(1027.79,472.53) rotate(-90) scale(0.9381,1)" font-size="40.74" xml:space="preserve"><tspan font-weight="normal">Gt</tspan></text>
<text transform="translate(1106.20,527.69) rotate(-90) scale(1.0170,1)" font-size="35.57" xml:space="preserve"><tspan font-weight="normal">Kt</tspan></text>
<text transform="translate(1139.58,520.56) rotate(-90) scale(0.9289,1)" font-size="41.93" xml:space="preserve"><tspan font-weight="normal">Gt</tspan></text>
<text transform="translate(1160.10,471.65) rotate(-90) scale(0.9874,1)" font-size="35.61" xml:space="preserve"><tspan font-weight="normal">An</tspan></text>
<text transform="translate(1194.60,468.52) rotate(-90) scale(0.9611,1)" font-size="36.79" xml:space="preserve"><tspan font-weight="bold">Hm (204)</tspan></text>
<text transform="translate(1221.68,514.60) rotate(-90) scale(0.9548,1)" font-size="41.78" xml:space="preserve"><tspan font-weight="normal">Gt</tspan></text>
<text transform="translate(1260.59,473.37) rotate(-90) scale(0.9699,1)" font-size="40.59" xml:space="preserve"><tspan font-weight="normal">Gt</tspan></text>
<text transform="translate(1291.00,433.83) rotate(-90) scale(0.9528,1)" font-size="35.57" xml:space="preserve"><tspan font-weight="normal">Hm</tspan></text>
<text transform="translate(1323.10,486.48) rotate(-90) scale(0.8581,1)" font-size="40.15" xml:space="preserve"><tspan font-weight="normal">Gt, An</tspan></text>
<text transform="translate(1333.50,551.23) rotate(-90) scale(0.8383,1)" font-size="39.55" xml:space="preserve"><tspan font-weight="normal">An</tspan></text>
<text transform="translate(1368.01,494.29) rotate(-90) scale(0.8942,1)" font-size="38.96" xml:space="preserve"><tspan font-weight="normal">Gt, Hm</tspan></text>
<text transform="translate(1401.78,484.78) rotate(-90) scale(0.9507,1)" font-size="41.64" xml:space="preserve"><tspan font-weight="normal">Gt</tspan></text>
<text transform="translate(1432.21,507.59) rotate(-90) scale(0.8957,1)" font-size="38.81" xml:space="preserve"><tspan font-weight="normal">Gt</tspan></text>
<text transform="translate(1467.40,504.76) rotate(-90) scale(0.9609,1)" font-size="36.49" xml:space="preserve"><tspan font-weight="normal">Kt, Hm</tspan></text>
<text transform="translate(1502.20,465.81) rotate(-90) scale(0.8803,1)" font-size="40.00" xml:space="preserve"><tspan font-weight="normal">Gt, Hm</tspan></text>
<text transform="translate(1542.67,524.02) rotate(-90) scale(0.8784,1)" font-size="43.27" xml:space="preserve"><tspan font-weight="normal">Gt</tspan></text>
<text transform="translate(1571.10,548.74) rotate(-90) scale(0.8942,1)" font-size="37.73" xml:space="preserve"><tspan font-weight="normal">An</tspan></text>
<text transform="translate(1611.08,519.45) rotate(-90) scale(0.9280,1)" font-size="41.64" xml:space="preserve"><tspan font-weight="normal">Gt</tspan></text>
<text transform="translate(1658.80,484.51) rotate(-90) scale(0.8770,1)" font-size="40.15" xml:space="preserve"><tspan font-weight="normal">Gt, Hm</tspan></text>
<g stroke="#000" fill="none" stroke-linecap="butt">
<path d="M599.1,363.3L615.5,380.0" stroke-width="3.1"/>
<path d="M893.1,335.6L892.2,436.8" stroke-width="3.7"/>
<path d="M903.9,336.6L928.1,319.2" stroke-width="3.4"/>
<path d="M1127.0,524.2L1140.6,539.3" stroke-width="3.2"/>
<path d="M1256.2,477.0L1266.6,492.0" stroke-width="3.2"/>
<path d="M1304.4,560.4L1298.4,573.6" stroke-width="3.2"/>
<path d="M1429.5,510.2L1439.2,524.2" stroke-width="3.2"/>
<path d="M1570.0,555.7L1578.7,574.7" stroke-width="3.2"/>
<path d="M938.3,549.8L946.25,533.3L954.9,548.1" stroke-width="2.8" stroke-linejoin="miter"/>
</g>
</svg></body></html>
